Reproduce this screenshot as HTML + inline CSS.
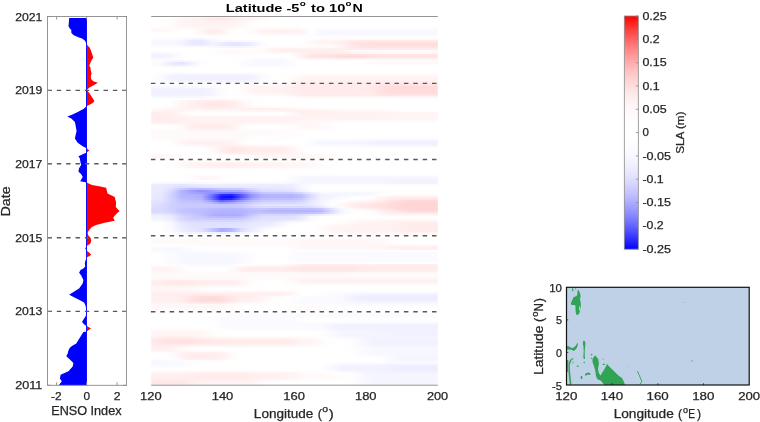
<!DOCTYPE html>
<html><head><meta charset="utf-8"><style>
html,body{margin:0;padding:0;background:#fff;}
svg{display:block;will-change:transform;font-family:"Liberation Sans", sans-serif;}
</style></head><body>
<svg width="760" height="422" viewBox="0 0 760 422">
<rect width="760" height="422" fill="#fff"/>
<defs><clipPath id="cl"><rect x="0" y="0" width="86.60" height="422"/></clipPath><clipPath id="cr"><rect x="86.60" y="0" width="200" height="422"/></clipPath></defs>
<path d="M86.6,18.1 L69.2,18.1 L68.9,22.1 L68.5,26.3 L69.9,28.5 L71.3,29.9 L71.3,32.7 L73.4,34.9 L77.7,37.0 L82.0,38.4 L84.8,40.6 L86.6,44.1 L87.6,45.5 L89.8,47.7 L91.2,51.2 L92.6,55.5 L93.3,57.6 L91.9,59.8 L90.5,62.6 L89.3,65.7 L90.5,67.8 L90.8,70.7 L91.6,73.5 L90.8,76.3 L91.2,79.2 L93.3,81.3 L97.9,82.7 L94.0,84.9 L89.1,87.7 L86.9,90.1 L89.1,92.7 L91.9,97.0 L94.5,101.2 L91.9,103.4 L88.4,105.2 L86.6,106.2 L83.4,109.0 L77.7,111.9 L72.0,114.7 L67.3,116.5 L71.3,118.5 L74.9,122.1 L75.6,125.6 L76.6,131.3 L75.6,134.9 L74.9,138.4 L77.7,142.7 L82.7,146.2 L86.6,148.3 L89.3,150.5 L86.6,152.6 L78.4,156.2 L79.8,158.3 L80.5,162.6 L81.2,164.7 L79.1,168.3 L78.4,171.4 L81.2,174.2 L82.7,177.1 L80.2,181.3 L86.6,182.5 L91.9,184.9 L99.0,186.3 L106.1,187.7 L106.8,190.6 L107.5,193.4 L114.7,197.0 L116.1,202.6 L115.8,206.9 L119.6,211.2 L117.5,212.8 L114.7,215.7 L113.2,217.8 L114.7,220.7 L104.7,222.8 L96.2,224.9 L91.9,227.1 L89.1,229.9 L87.6,232.7 L88.4,235.6 L90.5,237.7 L91.2,240.6 L90.5,243.4 L87.6,245.5 L86.6,246.2 L85.2,248.4 L86.6,250.5 L89.1,252.6 L91.2,254.8 L89.1,256.2 L86.6,257.6 L85.5,260.5 L84.8,263.3 L85.2,266.4 L83.4,268.5 L80.5,270.0 L79.1,272.8 L81.2,275.6 L83.4,279.9 L82.7,283.5 L79.1,288.4 L73.4,292.0 L69.2,294.8 L74.9,297.7 L80.5,300.5 L84.1,302.6 L85.5,305.5 L86.2,309.0 L86.2,311.9 L85.9,315.7 L84.1,318.5 L82.0,322.0 L84.8,324.9 L86.6,325.8 L91.0,328.6 L86.6,331.4 L83.4,332.0 L81.2,335.6 L78.4,339.9 L76.3,343.4 L72.7,345.5 L70.0,347.5 L68.5,350.2 L67.7,353.5 L66.3,356.2 L69.9,359.5 L73.4,363.0 L72.7,366.5 L70.0,369.5 L68.5,371.3 L60.6,374.8 L59.9,378.4 L61.8,381.2 L59.2,384.8 L59.0,385.2 L86.6,385.2 Z" fill="#0000ff" clip-path="url(#cl)"/>
<path d="M86.6,18.1 L69.2,18.1 L68.9,22.1 L68.5,26.3 L69.9,28.5 L71.3,29.9 L71.3,32.7 L73.4,34.9 L77.7,37.0 L82.0,38.4 L84.8,40.6 L86.6,44.1 L87.6,45.5 L89.8,47.7 L91.2,51.2 L92.6,55.5 L93.3,57.6 L91.9,59.8 L90.5,62.6 L89.3,65.7 L90.5,67.8 L90.8,70.7 L91.6,73.5 L90.8,76.3 L91.2,79.2 L93.3,81.3 L97.9,82.7 L94.0,84.9 L89.1,87.7 L86.9,90.1 L89.1,92.7 L91.9,97.0 L94.5,101.2 L91.9,103.4 L88.4,105.2 L86.6,106.2 L83.4,109.0 L77.7,111.9 L72.0,114.7 L67.3,116.5 L71.3,118.5 L74.9,122.1 L75.6,125.6 L76.6,131.3 L75.6,134.9 L74.9,138.4 L77.7,142.7 L82.7,146.2 L86.6,148.3 L89.3,150.5 L86.6,152.6 L78.4,156.2 L79.8,158.3 L80.5,162.6 L81.2,164.7 L79.1,168.3 L78.4,171.4 L81.2,174.2 L82.7,177.1 L80.2,181.3 L86.6,182.5 L91.9,184.9 L99.0,186.3 L106.1,187.7 L106.8,190.6 L107.5,193.4 L114.7,197.0 L116.1,202.6 L115.8,206.9 L119.6,211.2 L117.5,212.8 L114.7,215.7 L113.2,217.8 L114.7,220.7 L104.7,222.8 L96.2,224.9 L91.9,227.1 L89.1,229.9 L87.6,232.7 L88.4,235.6 L90.5,237.7 L91.2,240.6 L90.5,243.4 L87.6,245.5 L86.6,246.2 L85.2,248.4 L86.6,250.5 L89.1,252.6 L91.2,254.8 L89.1,256.2 L86.6,257.6 L85.5,260.5 L84.8,263.3 L85.2,266.4 L83.4,268.5 L80.5,270.0 L79.1,272.8 L81.2,275.6 L83.4,279.9 L82.7,283.5 L79.1,288.4 L73.4,292.0 L69.2,294.8 L74.9,297.7 L80.5,300.5 L84.1,302.6 L85.5,305.5 L86.2,309.0 L86.2,311.9 L85.9,315.7 L84.1,318.5 L82.0,322.0 L84.8,324.9 L86.6,325.8 L91.0,328.6 L86.6,331.4 L83.4,332.0 L81.2,335.6 L78.4,339.9 L76.3,343.4 L72.7,345.5 L70.0,347.5 L68.5,350.2 L67.7,353.5 L66.3,356.2 L69.9,359.5 L73.4,363.0 L72.7,366.5 L70.0,369.5 L68.5,371.3 L60.6,374.8 L59.9,378.4 L61.8,381.2 L59.2,384.8 L59.0,385.2 L86.6,385.2 Z" fill="#ff0000" clip-path="url(#cr)"/>
<rect x="86.1" y="18.1" width="0.9" height="367.1" fill="#0000ff"/>
<line x1="47.5" y1="90.4" x2="126.5" y2="90.4" stroke="#585858" stroke-width="1.4" stroke-dasharray="4.4 4.94"/>
<line x1="47.5" y1="163.8" x2="126.5" y2="163.8" stroke="#585858" stroke-width="1.4" stroke-dasharray="4.4 4.94"/>
<line x1="47.5" y1="237.8" x2="126.5" y2="237.8" stroke="#585858" stroke-width="1.4" stroke-dasharray="4.4 4.94"/>
<line x1="47.5" y1="311.4" x2="126.5" y2="311.4" stroke="#585858" stroke-width="1.4" stroke-dasharray="4.4 4.94"/>
<rect x="47.5" y="16.5" width="79.0" height="368.8" fill="none" stroke="#8a8a8a" stroke-width="0.9"/>
<line x1="56.6" y1="385.3" x2="56.6" y2="382.3" stroke="#8a8a8a" stroke-width="0.9"/>
<line x1="56.6" y1="16.5" x2="56.6" y2="19.5" stroke="#8a8a8a" stroke-width="0.9"/>
<line x1="86.6" y1="385.3" x2="86.6" y2="382.3" stroke="#8a8a8a" stroke-width="0.9"/>
<line x1="86.6" y1="16.5" x2="86.6" y2="19.5" stroke="#8a8a8a" stroke-width="0.9"/>
<line x1="117.1" y1="385.3" x2="117.1" y2="382.3" stroke="#8a8a8a" stroke-width="0.9"/>
<line x1="117.1" y1="16.5" x2="117.1" y2="19.5" stroke="#8a8a8a" stroke-width="0.9"/>
<text x="15.24" y="20.50" font-size="10.9" fill="#262626" stroke="#262626" stroke-width="0.25" textLength="27.10" lengthAdjust="spacingAndGlyphs">2021</text>
<line x1="47.5" y1="16.5" x2="50.5" y2="16.5" stroke="#8a8a8a" stroke-width="0.9"/>
<line x1="126.5" y1="16.5" x2="123.5" y2="16.5" stroke="#8a8a8a" stroke-width="0.9"/>
<text x="15.24" y="94.40" font-size="10.9" fill="#262626" stroke="#262626" stroke-width="0.25" textLength="27.10" lengthAdjust="spacingAndGlyphs">2019</text>
<line x1="47.5" y1="90.4" x2="50.5" y2="90.4" stroke="#8a8a8a" stroke-width="0.9"/>
<line x1="126.5" y1="90.4" x2="123.5" y2="90.4" stroke="#8a8a8a" stroke-width="0.9"/>
<text x="15.24" y="167.80" font-size="10.9" fill="#262626" stroke="#262626" stroke-width="0.25" textLength="27.10" lengthAdjust="spacingAndGlyphs">2017</text>
<line x1="47.5" y1="163.8" x2="50.5" y2="163.8" stroke="#8a8a8a" stroke-width="0.9"/>
<line x1="126.5" y1="163.8" x2="123.5" y2="163.8" stroke="#8a8a8a" stroke-width="0.9"/>
<text x="15.24" y="241.80" font-size="10.9" fill="#262626" stroke="#262626" stroke-width="0.25" textLength="27.10" lengthAdjust="spacingAndGlyphs">2015</text>
<line x1="47.5" y1="237.8" x2="50.5" y2="237.8" stroke="#8a8a8a" stroke-width="0.9"/>
<line x1="126.5" y1="237.8" x2="123.5" y2="237.8" stroke="#8a8a8a" stroke-width="0.9"/>
<text x="15.24" y="315.40" font-size="10.9" fill="#262626" stroke="#262626" stroke-width="0.25" textLength="27.10" lengthAdjust="spacingAndGlyphs">2013</text>
<line x1="47.5" y1="311.4" x2="50.5" y2="311.4" stroke="#8a8a8a" stroke-width="0.9"/>
<line x1="126.5" y1="311.4" x2="123.5" y2="311.4" stroke="#8a8a8a" stroke-width="0.9"/>
<text x="15.22" y="389.30" font-size="10.9" fill="#262626" stroke="#262626" stroke-width="0.25" textLength="27.07" lengthAdjust="spacingAndGlyphs">2011</text>
<line x1="47.5" y1="385.3" x2="50.5" y2="385.3" stroke="#8a8a8a" stroke-width="0.9"/>
<line x1="126.5" y1="385.3" x2="123.5" y2="385.3" stroke="#8a8a8a" stroke-width="0.9"/>
<text x="50.96" y="399.80" font-size="10.9" fill="#262626" stroke="#262626" stroke-width="0.25" textLength="10.52" lengthAdjust="spacingAndGlyphs">-2</text>
<text x="83.56" y="399.80" font-size="10.9" fill="#262626" stroke="#262626" stroke-width="0.25" textLength="6.58" lengthAdjust="spacingAndGlyphs">0</text>
<text x="113.74" y="399.80" font-size="10.9" fill="#262626" stroke="#262626" stroke-width="0.25" textLength="6.79" lengthAdjust="spacingAndGlyphs">2</text>
<text x="51.24" y="414.60" font-size="11.9" fill="#262626" stroke="#262626" stroke-width="0.25" textLength="70.26" lengthAdjust="spacingAndGlyphs">ENSO Index</text>
<text transform="translate(10.00 216.50) rotate(-90)" x="0" y="0" font-size="11.9" fill="#262626" stroke="#262626" stroke-width="0.25" textLength="30.26" lengthAdjust="spacingAndGlyphs">Date</text>
<defs><linearGradient id="g0"><stop offset="0.001" stop-color="#ffffff"/><stop offset="0.036" stop-color="#ffffff"/><stop offset="0.071" stop-color="#fffdfd"/><stop offset="0.106" stop-color="#fffafa"/><stop offset="0.141" stop-color="#fff8f8"/><stop offset="0.176" stop-color="#fff5f5"/><stop offset="0.210" stop-color="#ffefef"/><stop offset="0.245" stop-color="#ffefef"/><stop offset="0.280" stop-color="#fff5f5"/><stop offset="0.315" stop-color="#fff7f7"/><stop offset="0.350" stop-color="#fff7f7"/><stop offset="0.385" stop-color="#fffafa"/><stop offset="0.420" stop-color="#fffefe"/><stop offset="0.455" stop-color="#ffffff"/><stop offset="0.999" stop-color="#ffffff"/></linearGradient><linearGradient id="g1"><stop offset="0.001" stop-color="#ffffff"/><stop offset="0.036" stop-color="#ffffff"/><stop offset="0.071" stop-color="#fffcfc"/><stop offset="0.106" stop-color="#fff6f6"/><stop offset="0.141" stop-color="#fff3f3"/><stop offset="0.176" stop-color="#ffeeee"/><stop offset="0.210" stop-color="#ffe7e7"/><stop offset="0.245" stop-color="#ffe7e7"/><stop offset="0.280" stop-color="#ffeeee"/><stop offset="0.315" stop-color="#fff2f2"/><stop offset="0.350" stop-color="#fff4f4"/><stop offset="0.385" stop-color="#fff9f9"/><stop offset="0.420" stop-color="#fffdfd"/><stop offset="0.455" stop-color="#ffffff"/><stop offset="0.999" stop-color="#ffffff"/></linearGradient><linearGradient id="g2"><stop offset="0.001" stop-color="#ffffff"/><stop offset="0.036" stop-color="#ffffff"/><stop offset="0.071" stop-color="#fffcfc"/><stop offset="0.106" stop-color="#fff5f5"/><stop offset="0.141" stop-color="#fff2f2"/><stop offset="0.176" stop-color="#fff1f1"/><stop offset="0.210" stop-color="#ffefef"/><stop offset="0.245" stop-color="#ffefef"/><stop offset="0.280" stop-color="#fff1f1"/><stop offset="0.315" stop-color="#fff3f3"/><stop offset="0.350" stop-color="#fff8f8"/><stop offset="0.385" stop-color="#fffdfd"/><stop offset="0.420" stop-color="#ffffff"/><stop offset="0.999" stop-color="#ffffff"/></linearGradient><linearGradient id="g3"><stop offset="0.001" stop-color="#ffffff"/><stop offset="0.036" stop-color="#ffffff"/><stop offset="0.071" stop-color="#fffcfc"/><stop offset="0.106" stop-color="#fff5f5"/><stop offset="0.141" stop-color="#fff2f2"/><stop offset="0.280" stop-color="#fff2f2"/><stop offset="0.315" stop-color="#fff5f5"/><stop offset="0.350" stop-color="#fffcfc"/><stop offset="0.385" stop-color="#ffffff"/><stop offset="0.999" stop-color="#ffffff"/></linearGradient><linearGradient id="g4"><stop offset="0.001" stop-color="#ffffff"/><stop offset="0.036" stop-color="#ffffff"/><stop offset="0.071" stop-color="#fffcfc"/><stop offset="0.106" stop-color="#fff5f5"/><stop offset="0.141" stop-color="#fff2f2"/><stop offset="0.245" stop-color="#fff2f2"/><stop offset="0.280" stop-color="#fff3f3"/><stop offset="0.315" stop-color="#fff6f6"/><stop offset="0.350" stop-color="#fffcfc"/><stop offset="0.385" stop-color="#ffffff"/><stop offset="0.999" stop-color="#ffffff"/></linearGradient><linearGradient id="g5"><stop offset="0.001" stop-color="#fffdfd"/><stop offset="0.036" stop-color="#fffdfd"/><stop offset="0.071" stop-color="#fffbfb"/><stop offset="0.106" stop-color="#fff7f7"/><stop offset="0.141" stop-color="#fff5f5"/><stop offset="0.176" stop-color="#fff4f4"/><stop offset="0.245" stop-color="#fff4f4"/><stop offset="0.280" stop-color="#fff5f5"/><stop offset="0.315" stop-color="#fff8f8"/><stop offset="0.350" stop-color="#fffdfd"/><stop offset="0.385" stop-color="#fffefe"/><stop offset="0.524" stop-color="#fffefe"/><stop offset="0.559" stop-color="#ffffff"/><stop offset="0.999" stop-color="#ffffff"/></linearGradient><linearGradient id="g6"><stop offset="0.001" stop-color="#fff7f7"/><stop offset="0.036" stop-color="#fff8f8"/><stop offset="0.071" stop-color="#fffbfb"/><stop offset="0.106" stop-color="#fffcfc"/><stop offset="0.141" stop-color="#fffcfc"/><stop offset="0.176" stop-color="#fff7f7"/><stop offset="0.210" stop-color="#fff1f1"/><stop offset="0.245" stop-color="#fff4f4"/><stop offset="0.280" stop-color="#fffbfb"/><stop offset="0.315" stop-color="#fffdfd"/><stop offset="0.350" stop-color="#fffcfc"/><stop offset="0.385" stop-color="#fff8f8"/><stop offset="0.420" stop-color="#fff6f6"/><stop offset="0.490" stop-color="#fff6f6"/><stop offset="0.524" stop-color="#fff8f8"/><stop offset="0.559" stop-color="#fffefe"/><stop offset="0.594" stop-color="#fcfcff"/><stop offset="0.629" stop-color="#fbfbff"/><stop offset="0.999" stop-color="#fbfbff"/></linearGradient><linearGradient id="g7"><stop offset="0.001" stop-color="#fff7f7"/><stop offset="0.036" stop-color="#fff8f8"/><stop offset="0.071" stop-color="#fffcfc"/><stop offset="0.106" stop-color="#ffffff"/><stop offset="0.141" stop-color="#fffefe"/><stop offset="0.176" stop-color="#fff5f5"/><stop offset="0.210" stop-color="#ffeaea"/><stop offset="0.245" stop-color="#fff0f0"/><stop offset="0.280" stop-color="#fffcfc"/><stop offset="0.315" stop-color="#ffffff"/><stop offset="0.350" stop-color="#fffbfb"/><stop offset="0.385" stop-color="#fff3f3"/><stop offset="0.420" stop-color="#fff0f0"/><stop offset="0.490" stop-color="#fff0f0"/><stop offset="0.524" stop-color="#fff3f3"/><stop offset="0.559" stop-color="#fffefe"/><stop offset="0.594" stop-color="#f8f8ff"/><stop offset="0.999" stop-color="#f8f8ff"/></linearGradient><linearGradient id="g8"><stop offset="0.001" stop-color="#fffdfd"/><stop offset="0.036" stop-color="#fffdfd"/><stop offset="0.071" stop-color="#fffefe"/><stop offset="0.106" stop-color="#ffffff"/><stop offset="0.141" stop-color="#fffefe"/><stop offset="0.176" stop-color="#fff6f6"/><stop offset="0.210" stop-color="#ffecec"/><stop offset="0.245" stop-color="#fff1f1"/><stop offset="0.280" stop-color="#fffcfc"/><stop offset="0.315" stop-color="#ffffff"/><stop offset="0.350" stop-color="#fffbfb"/><stop offset="0.385" stop-color="#fff4f4"/><stop offset="0.420" stop-color="#fff2f2"/><stop offset="0.455" stop-color="#fff1f1"/><stop offset="0.490" stop-color="#fff2f2"/><stop offset="0.524" stop-color="#fff4f4"/><stop offset="0.559" stop-color="#ffffff"/><stop offset="0.594" stop-color="#f8f8ff"/><stop offset="0.629" stop-color="#f7f7ff"/><stop offset="0.999" stop-color="#f7f7ff"/></linearGradient><linearGradient id="g9"><stop offset="0.001" stop-color="#ffffff"/><stop offset="0.141" stop-color="#ffffff"/><stop offset="0.176" stop-color="#fffbfb"/><stop offset="0.210" stop-color="#fff7f7"/><stop offset="0.245" stop-color="#fff9f9"/><stop offset="0.280" stop-color="#fffefe"/><stop offset="0.315" stop-color="#ffffff"/><stop offset="0.350" stop-color="#fffefe"/><stop offset="0.385" stop-color="#fffbfb"/><stop offset="0.420" stop-color="#fffafa"/><stop offset="0.490" stop-color="#fffafa"/><stop offset="0.524" stop-color="#fffbfb"/><stop offset="0.559" stop-color="#fdfdff"/><stop offset="0.594" stop-color="#f9f9ff"/><stop offset="0.999" stop-color="#f9f9ff"/></linearGradient><linearGradient id="g10"><stop offset="0.001" stop-color="#ffffff"/><stop offset="0.071" stop-color="#ffffff"/><stop offset="0.106" stop-color="#fefeff"/><stop offset="0.176" stop-color="#fefeff"/><stop offset="0.210" stop-color="#ffffff"/><stop offset="0.524" stop-color="#ffffff"/><stop offset="0.559" stop-color="#fefeff"/><stop offset="0.594" stop-color="#fefeff"/><stop offset="0.629" stop-color="#fdfdff"/><stop offset="0.664" stop-color="#fdfdff"/><stop offset="0.699" stop-color="#fefeff"/><stop offset="0.999" stop-color="#fefeff"/></linearGradient><linearGradient id="g11"><stop offset="0.001" stop-color="#fbfbff"/><stop offset="0.071" stop-color="#fbfbff"/><stop offset="0.106" stop-color="#f9f9ff"/><stop offset="0.141" stop-color="#f4f4ff"/><stop offset="0.176" stop-color="#f3f3ff"/><stop offset="0.210" stop-color="#fafaff"/><stop offset="0.245" stop-color="#fefeff"/><stop offset="0.280" stop-color="#ffffff"/><stop offset="0.524" stop-color="#ffffff"/><stop offset="0.559" stop-color="#fffdfd"/><stop offset="0.594" stop-color="#fffcfc"/><stop offset="0.629" stop-color="#fffcfc"/><stop offset="0.664" stop-color="#fffbfb"/><stop offset="0.699" stop-color="#fffafa"/><stop offset="0.734" stop-color="#fffafa"/><stop offset="0.769" stop-color="#fff9f9"/><stop offset="0.999" stop-color="#fff9f9"/></linearGradient><linearGradient id="g12"><stop offset="0.001" stop-color="#f8f8ff"/><stop offset="0.071" stop-color="#f8f8ff"/><stop offset="0.106" stop-color="#f5f5ff"/><stop offset="0.141" stop-color="#eaeaff"/><stop offset="0.176" stop-color="#e8e8ff"/><stop offset="0.210" stop-color="#f5f5ff"/><stop offset="0.245" stop-color="#f9f9ff"/><stop offset="0.280" stop-color="#f8f8ff"/><stop offset="0.315" stop-color="#f9f9ff"/><stop offset="0.350" stop-color="#fafaff"/><stop offset="0.385" stop-color="#fefeff"/><stop offset="0.420" stop-color="#ffffff"/><stop offset="0.490" stop-color="#ffffff"/><stop offset="0.524" stop-color="#fffefe"/><stop offset="0.559" stop-color="#fff9f9"/><stop offset="0.594" stop-color="#fff5f5"/><stop offset="0.629" stop-color="#fff5f5"/><stop offset="0.664" stop-color="#fff2f2"/><stop offset="0.699" stop-color="#ffeded"/><stop offset="0.734" stop-color="#ffeaea"/><stop offset="0.769" stop-color="#ffe9e9"/><stop offset="0.999" stop-color="#ffe9e9"/></linearGradient><linearGradient id="g13"><stop offset="0.001" stop-color="#f7f7ff"/><stop offset="0.071" stop-color="#f7f7ff"/><stop offset="0.106" stop-color="#f4f4ff"/><stop offset="0.141" stop-color="#e9e9ff"/><stop offset="0.176" stop-color="#e6e6ff"/><stop offset="0.210" stop-color="#f1f1ff"/><stop offset="0.245" stop-color="#ededff"/><stop offset="0.280" stop-color="#e7e7ff"/><stop offset="0.315" stop-color="#e8e8ff"/><stop offset="0.350" stop-color="#eeeeff"/><stop offset="0.385" stop-color="#fbfbff"/><stop offset="0.420" stop-color="#ffffff"/><stop offset="0.490" stop-color="#ffffff"/><stop offset="0.524" stop-color="#fffdfd"/><stop offset="0.559" stop-color="#fff7f7"/><stop offset="0.594" stop-color="#fff3f3"/><stop offset="0.629" stop-color="#fff3f3"/><stop offset="0.664" stop-color="#ffefef"/><stop offset="0.699" stop-color="#ffe7e7"/><stop offset="0.734" stop-color="#ffe2e2"/><stop offset="0.769" stop-color="#ffe0e0"/><stop offset="0.999" stop-color="#ffe0e0"/></linearGradient><linearGradient id="g14"><stop offset="0.001" stop-color="#f9f9ff"/><stop offset="0.071" stop-color="#f9f9ff"/><stop offset="0.106" stop-color="#f6f6ff"/><stop offset="0.141" stop-color="#ededff"/><stop offset="0.176" stop-color="#ebebff"/><stop offset="0.210" stop-color="#f2f2ff"/><stop offset="0.245" stop-color="#ebebff"/><stop offset="0.280" stop-color="#e5e5ff"/><stop offset="0.315" stop-color="#e5e5ff"/><stop offset="0.350" stop-color="#ececff"/><stop offset="0.385" stop-color="#fafaff"/><stop offset="0.420" stop-color="#ffffff"/><stop offset="0.490" stop-color="#ffffff"/><stop offset="0.524" stop-color="#fffefe"/><stop offset="0.559" stop-color="#fffbfb"/><stop offset="0.594" stop-color="#fff9f9"/><stop offset="0.629" stop-color="#fff8f8"/><stop offset="0.664" stop-color="#fff3f3"/><stop offset="0.699" stop-color="#ffe8e8"/><stop offset="0.734" stop-color="#ffe1e1"/><stop offset="0.769" stop-color="#ffdfdf"/><stop offset="0.804" stop-color="#ffdede"/><stop offset="0.999" stop-color="#ffdede"/></linearGradient><linearGradient id="g15"><stop offset="0.001" stop-color="#fdfdff"/><stop offset="0.106" stop-color="#fdfdff"/><stop offset="0.141" stop-color="#fafaff"/><stop offset="0.176" stop-color="#fafaff"/><stop offset="0.210" stop-color="#fbfbff"/><stop offset="0.245" stop-color="#f7f7ff"/><stop offset="0.280" stop-color="#f5f5ff"/><stop offset="0.315" stop-color="#f5f5ff"/><stop offset="0.350" stop-color="#f8f8ff"/><stop offset="0.385" stop-color="#fefeff"/><stop offset="0.420" stop-color="#fffcfc"/><stop offset="0.455" stop-color="#fffbfb"/><stop offset="0.559" stop-color="#fffbfb"/><stop offset="0.594" stop-color="#fffafa"/><stop offset="0.629" stop-color="#fffafa"/><stop offset="0.664" stop-color="#fff4f4"/><stop offset="0.699" stop-color="#ffe9e9"/><stop offset="0.734" stop-color="#ffe4e4"/><stop offset="0.769" stop-color="#ffe2e2"/><stop offset="0.999" stop-color="#ffe2e2"/></linearGradient><linearGradient id="g16"><stop offset="0.001" stop-color="#ffffff"/><stop offset="0.210" stop-color="#ffffff"/><stop offset="0.245" stop-color="#fffefe"/><stop offset="0.350" stop-color="#fffefe"/><stop offset="0.385" stop-color="#fffbfb"/><stop offset="0.420" stop-color="#fff4f4"/><stop offset="0.455" stop-color="#fff1f1"/><stop offset="0.629" stop-color="#fff1f1"/><stop offset="0.664" stop-color="#ffefef"/><stop offset="0.699" stop-color="#ffecec"/><stop offset="0.734" stop-color="#ffebeb"/><stop offset="0.999" stop-color="#ffebeb"/></linearGradient><linearGradient id="g17"><stop offset="0.001" stop-color="#fefeff"/><stop offset="0.071" stop-color="#fefeff"/><stop offset="0.106" stop-color="#ffffff"/><stop offset="0.176" stop-color="#ffffff"/><stop offset="0.210" stop-color="#fffdfd"/><stop offset="0.245" stop-color="#fffafa"/><stop offset="0.280" stop-color="#fff9f9"/><stop offset="0.315" stop-color="#fffafa"/><stop offset="0.350" stop-color="#fffcfc"/><stop offset="0.385" stop-color="#fffafa"/><stop offset="0.420" stop-color="#fff2f2"/><stop offset="0.455" stop-color="#ffeeee"/><stop offset="0.629" stop-color="#ffeeee"/><stop offset="0.664" stop-color="#fff1f1"/><stop offset="0.699" stop-color="#fff7f7"/><stop offset="0.734" stop-color="#fff9f9"/><stop offset="0.999" stop-color="#fff9f9"/></linearGradient><linearGradient id="g18"><stop offset="0.001" stop-color="#f7f7ff"/><stop offset="0.036" stop-color="#f8f8ff"/><stop offset="0.071" stop-color="#fafaff"/><stop offset="0.106" stop-color="#fefeff"/><stop offset="0.141" stop-color="#ffffff"/><stop offset="0.176" stop-color="#ffffff"/><stop offset="0.210" stop-color="#fffdfd"/><stop offset="0.245" stop-color="#fffafa"/><stop offset="0.280" stop-color="#fff8f8"/><stop offset="0.315" stop-color="#fff9f9"/><stop offset="0.350" stop-color="#fffcfc"/><stop offset="0.385" stop-color="#fffcfc"/><stop offset="0.420" stop-color="#fff8f8"/><stop offset="0.455" stop-color="#fff6f6"/><stop offset="0.490" stop-color="#fff6f6"/><stop offset="0.524" stop-color="#fff2f2"/><stop offset="0.559" stop-color="#ffeeee"/><stop offset="0.594" stop-color="#ffeded"/><stop offset="0.629" stop-color="#ffeded"/><stop offset="0.664" stop-color="#ffeeee"/><stop offset="0.699" stop-color="#fff2f2"/><stop offset="0.734" stop-color="#fff4f4"/><stop offset="0.769" stop-color="#fff5f5"/><stop offset="0.804" stop-color="#fff6f6"/><stop offset="0.999" stop-color="#fff6f6"/></linearGradient><linearGradient id="g19"><stop offset="0.001" stop-color="#f1f1ff"/><stop offset="0.036" stop-color="#f1f1ff"/><stop offset="0.071" stop-color="#f6f6ff"/><stop offset="0.106" stop-color="#fdfdff"/><stop offset="0.141" stop-color="#ffffff"/><stop offset="0.176" stop-color="#ffffff"/><stop offset="0.210" stop-color="#fffefe"/><stop offset="0.245" stop-color="#fffdfd"/><stop offset="0.315" stop-color="#fffdfd"/><stop offset="0.350" stop-color="#fffefe"/><stop offset="0.385" stop-color="#ffffff"/><stop offset="0.420" stop-color="#fffefe"/><stop offset="0.455" stop-color="#fffefe"/><stop offset="0.490" stop-color="#fffcfc"/><stop offset="0.524" stop-color="#fff2f2"/><stop offset="0.559" stop-color="#ffe6e6"/><stop offset="0.594" stop-color="#ffe4e4"/><stop offset="0.629" stop-color="#ffe3e3"/><stop offset="0.664" stop-color="#ffdede"/><stop offset="0.699" stop-color="#ffdddd"/><stop offset="0.734" stop-color="#ffdfdf"/><stop offset="0.769" stop-color="#ffe3e3"/><stop offset="0.804" stop-color="#ffe5e5"/><stop offset="0.999" stop-color="#ffe5e5"/></linearGradient><linearGradient id="g20"><stop offset="0.001" stop-color="#f1f1ff"/><stop offset="0.036" stop-color="#f1f1ff"/><stop offset="0.071" stop-color="#f6f6ff"/><stop offset="0.106" stop-color="#fdfdff"/><stop offset="0.141" stop-color="#ffffff"/><stop offset="0.350" stop-color="#ffffff"/><stop offset="0.385" stop-color="#fefeff"/><stop offset="0.455" stop-color="#fefeff"/><stop offset="0.490" stop-color="#fffefe"/><stop offset="0.524" stop-color="#fff2f2"/><stop offset="0.559" stop-color="#ffe5e5"/><stop offset="0.594" stop-color="#ffe3e3"/><stop offset="0.629" stop-color="#ffe2e2"/><stop offset="0.664" stop-color="#ffdddd"/><stop offset="0.699" stop-color="#ffdada"/><stop offset="0.734" stop-color="#ffdcdc"/><stop offset="0.769" stop-color="#ffe1e1"/><stop offset="0.804" stop-color="#ffe3e3"/><stop offset="0.999" stop-color="#ffe3e3"/></linearGradient><linearGradient id="g21"><stop offset="0.001" stop-color="#f9f9ff"/><stop offset="0.036" stop-color="#f9f9ff"/><stop offset="0.071" stop-color="#fbfbff"/><stop offset="0.106" stop-color="#fefeff"/><stop offset="0.141" stop-color="#ffffff"/><stop offset="0.280" stop-color="#ffffff"/><stop offset="0.315" stop-color="#fefeff"/><stop offset="0.350" stop-color="#fbfbff"/><stop offset="0.385" stop-color="#fafaff"/><stop offset="0.420" stop-color="#fafaff"/><stop offset="0.455" stop-color="#fbfbff"/><stop offset="0.490" stop-color="#fefeff"/><stop offset="0.524" stop-color="#fff9f9"/><stop offset="0.559" stop-color="#fff4f4"/><stop offset="0.594" stop-color="#fff3f3"/><stop offset="0.629" stop-color="#fff2f2"/><stop offset="0.664" stop-color="#fff0f0"/><stop offset="0.699" stop-color="#ffefef"/><stop offset="0.734" stop-color="#fff0f0"/><stop offset="0.769" stop-color="#fff2f2"/><stop offset="0.999" stop-color="#fff2f2"/></linearGradient><linearGradient id="g22"><stop offset="0.001" stop-color="#fefeff"/><stop offset="0.036" stop-color="#fcfcff"/><stop offset="0.071" stop-color="#f7f7ff"/><stop offset="0.106" stop-color="#f5f5ff"/><stop offset="0.141" stop-color="#f9f9ff"/><stop offset="0.176" stop-color="#fefeff"/><stop offset="0.210" stop-color="#ffffff"/><stop offset="0.280" stop-color="#ffffff"/><stop offset="0.315" stop-color="#fdfdff"/><stop offset="0.350" stop-color="#f9f9ff"/><stop offset="0.385" stop-color="#f8f8ff"/><stop offset="0.455" stop-color="#f8f8ff"/><stop offset="0.490" stop-color="#fcfcff"/><stop offset="0.524" stop-color="#ffffff"/><stop offset="0.559" stop-color="#fffefe"/><stop offset="0.699" stop-color="#fffefe"/><stop offset="0.734" stop-color="#fffdfd"/><stop offset="0.769" stop-color="#fffcfc"/><stop offset="0.804" stop-color="#fffbfb"/><stop offset="0.999" stop-color="#fffbfb"/></linearGradient><linearGradient id="g23"><stop offset="0.001" stop-color="#fdfdff"/><stop offset="0.036" stop-color="#f7f7ff"/><stop offset="0.071" stop-color="#eaeaff"/><stop offset="0.106" stop-color="#e3e3ff"/><stop offset="0.141" stop-color="#f0f0ff"/><stop offset="0.176" stop-color="#fdfdff"/><stop offset="0.210" stop-color="#ffffff"/><stop offset="0.280" stop-color="#ffffff"/><stop offset="0.315" stop-color="#fdfdff"/><stop offset="0.350" stop-color="#f9f9ff"/><stop offset="0.385" stop-color="#f7f7ff"/><stop offset="0.420" stop-color="#f7f7ff"/><stop offset="0.455" stop-color="#f8f8ff"/><stop offset="0.490" stop-color="#fcfcff"/><stop offset="0.524" stop-color="#ffffff"/><stop offset="0.699" stop-color="#ffffff"/><stop offset="0.734" stop-color="#fffdfd"/><stop offset="0.769" stop-color="#fff9f9"/><stop offset="0.804" stop-color="#fff8f8"/><stop offset="0.999" stop-color="#fff8f8"/></linearGradient><linearGradient id="g24"><stop offset="0.001" stop-color="#fdfdff"/><stop offset="0.036" stop-color="#f7f7ff"/><stop offset="0.071" stop-color="#eeeeff"/><stop offset="0.106" stop-color="#eaeaff"/><stop offset="0.141" stop-color="#f4f4ff"/><stop offset="0.176" stop-color="#fefeff"/><stop offset="0.210" stop-color="#ffffff"/><stop offset="0.280" stop-color="#ffffff"/><stop offset="0.315" stop-color="#fdfdff"/><stop offset="0.350" stop-color="#f9f9ff"/><stop offset="0.385" stop-color="#f8f8ff"/><stop offset="0.420" stop-color="#f8f8ff"/><stop offset="0.455" stop-color="#f9f9ff"/><stop offset="0.490" stop-color="#fcfcff"/><stop offset="0.524" stop-color="#ffffff"/><stop offset="0.699" stop-color="#ffffff"/><stop offset="0.734" stop-color="#fffefe"/><stop offset="0.769" stop-color="#fffdfd"/><stop offset="0.804" stop-color="#fffcfc"/><stop offset="0.999" stop-color="#fffcfc"/></linearGradient><linearGradient id="g25"><stop offset="0.001" stop-color="#fefeff"/><stop offset="0.036" stop-color="#fdfdff"/><stop offset="0.071" stop-color="#fbfbff"/><stop offset="0.106" stop-color="#fbfbff"/><stop offset="0.141" stop-color="#fdfdff"/><stop offset="0.176" stop-color="#ffffff"/><stop offset="0.280" stop-color="#ffffff"/><stop offset="0.315" stop-color="#fefeff"/><stop offset="0.350" stop-color="#fcfcff"/><stop offset="0.385" stop-color="#fbfbff"/><stop offset="0.420" stop-color="#fbfbff"/><stop offset="0.455" stop-color="#fcfcff"/><stop offset="0.490" stop-color="#fdfdff"/><stop offset="0.524" stop-color="#ffffff"/><stop offset="0.999" stop-color="#ffffff"/></linearGradient><linearGradient id="g26"><stop offset="0.001" stop-color="#ffffff"/><stop offset="0.036" stop-color="#fefeff"/><stop offset="0.071" stop-color="#fcfcff"/><stop offset="0.350" stop-color="#fcfcff"/><stop offset="0.385" stop-color="#fefeff"/><stop offset="0.420" stop-color="#ffffff"/><stop offset="0.490" stop-color="#ffffff"/><stop offset="0.524" stop-color="#fffefe"/><stop offset="0.999" stop-color="#fffefe"/></linearGradient><linearGradient id="g27"><stop offset="0.001" stop-color="#ffffff"/><stop offset="0.036" stop-color="#fbfbff"/><stop offset="0.071" stop-color="#f5f5ff"/><stop offset="0.106" stop-color="#f3f3ff"/><stop offset="0.315" stop-color="#f3f3ff"/><stop offset="0.350" stop-color="#f4f4ff"/><stop offset="0.385" stop-color="#fafaff"/><stop offset="0.420" stop-color="#fefeff"/><stop offset="0.455" stop-color="#ffffff"/><stop offset="0.490" stop-color="#fffdfd"/><stop offset="0.524" stop-color="#fffafa"/><stop offset="0.559" stop-color="#fff9f9"/><stop offset="0.999" stop-color="#fff9f9"/></linearGradient><linearGradient id="g28"><stop offset="0.001" stop-color="#fefeff"/><stop offset="0.036" stop-color="#fafaff"/><stop offset="0.071" stop-color="#f2f2ff"/><stop offset="0.106" stop-color="#f0f0ff"/><stop offset="0.315" stop-color="#f0f0ff"/><stop offset="0.350" stop-color="#f1f1ff"/><stop offset="0.385" stop-color="#f9f9ff"/><stop offset="0.420" stop-color="#fefeff"/><stop offset="0.455" stop-color="#ffffff"/><stop offset="0.490" stop-color="#fffbfb"/><stop offset="0.524" stop-color="#fff5f5"/><stop offset="0.559" stop-color="#fff3f3"/><stop offset="0.999" stop-color="#fff3f3"/></linearGradient><linearGradient id="g29"><stop offset="0.001" stop-color="#fefeff"/><stop offset="0.036" stop-color="#fafaff"/><stop offset="0.071" stop-color="#f2f2ff"/><stop offset="0.106" stop-color="#f0f0ff"/><stop offset="0.315" stop-color="#f0f0ff"/><stop offset="0.350" stop-color="#f1f1ff"/><stop offset="0.385" stop-color="#f9f9ff"/><stop offset="0.420" stop-color="#fefeff"/><stop offset="0.455" stop-color="#ffffff"/><stop offset="0.490" stop-color="#fffafa"/><stop offset="0.524" stop-color="#fff4f4"/><stop offset="0.559" stop-color="#fff2f2"/><stop offset="0.999" stop-color="#fff2f2"/></linearGradient><linearGradient id="g30"><stop offset="0.001" stop-color="#ffffff"/><stop offset="0.036" stop-color="#fbfbff"/><stop offset="0.071" stop-color="#f5f5ff"/><stop offset="0.106" stop-color="#f3f3ff"/><stop offset="0.315" stop-color="#f3f3ff"/><stop offset="0.350" stop-color="#f4f4ff"/><stop offset="0.385" stop-color="#fafaff"/><stop offset="0.420" stop-color="#fefeff"/><stop offset="0.455" stop-color="#ffffff"/><stop offset="0.490" stop-color="#fffafa"/><stop offset="0.524" stop-color="#fff3f3"/><stop offset="0.559" stop-color="#fff1f1"/><stop offset="0.999" stop-color="#fff1f1"/></linearGradient><linearGradient id="g31"><stop offset="0.001" stop-color="#ffffff"/><stop offset="0.036" stop-color="#fefeff"/><stop offset="0.071" stop-color="#fcfcff"/><stop offset="0.315" stop-color="#fcfcff"/><stop offset="0.350" stop-color="#fdfdff"/><stop offset="0.385" stop-color="#fefeff"/><stop offset="0.420" stop-color="#fffefe"/><stop offset="0.455" stop-color="#fffefe"/><stop offset="0.490" stop-color="#fff8f8"/><stop offset="0.524" stop-color="#ffefef"/><stop offset="0.559" stop-color="#ffecec"/><stop offset="0.804" stop-color="#ffecec"/><stop offset="0.838" stop-color="#ffebeb"/><stop offset="0.999" stop-color="#ffebeb"/></linearGradient><linearGradient id="g32"><stop offset="0.001" stop-color="#fefeff"/><stop offset="0.210" stop-color="#fefeff"/><stop offset="0.245" stop-color="#ffffff"/><stop offset="0.280" stop-color="#ffffff"/><stop offset="0.315" stop-color="#fffdfd"/><stop offset="0.350" stop-color="#fffafa"/><stop offset="0.385" stop-color="#fff9f9"/><stop offset="0.420" stop-color="#fff9f9"/><stop offset="0.455" stop-color="#fff8f8"/><stop offset="0.490" stop-color="#fff3f3"/><stop offset="0.524" stop-color="#ffecec"/><stop offset="0.559" stop-color="#ffebeb"/><stop offset="0.734" stop-color="#ffebeb"/><stop offset="0.769" stop-color="#ffeaea"/><stop offset="0.804" stop-color="#ffe6e6"/><stop offset="0.838" stop-color="#ffe3e3"/><stop offset="0.999" stop-color="#ffe3e3"/></linearGradient><linearGradient id="g33"><stop offset="0.001" stop-color="#f7f7ff"/><stop offset="0.141" stop-color="#f7f7ff"/><stop offset="0.176" stop-color="#f8f8ff"/><stop offset="0.210" stop-color="#fafaff"/><stop offset="0.245" stop-color="#fefeff"/><stop offset="0.280" stop-color="#ffffff"/><stop offset="0.315" stop-color="#fffcfc"/><stop offset="0.350" stop-color="#fff6f6"/><stop offset="0.385" stop-color="#fff3f3"/><stop offset="0.455" stop-color="#fff3f3"/><stop offset="0.490" stop-color="#ffefef"/><stop offset="0.524" stop-color="#ffebeb"/><stop offset="0.734" stop-color="#ffebeb"/><stop offset="0.769" stop-color="#ffe9e9"/><stop offset="0.804" stop-color="#ffe2e2"/><stop offset="0.838" stop-color="#ffdddd"/><stop offset="0.873" stop-color="#ffdcdc"/><stop offset="0.999" stop-color="#ffdcdc"/></linearGradient><linearGradient id="g34"><stop offset="0.001" stop-color="#f1f1ff"/><stop offset="0.176" stop-color="#f1f1ff"/><stop offset="0.210" stop-color="#f5f5ff"/><stop offset="0.245" stop-color="#fcfcff"/><stop offset="0.280" stop-color="#ffffff"/><stop offset="0.315" stop-color="#fffcfc"/><stop offset="0.350" stop-color="#fff5f5"/><stop offset="0.385" stop-color="#fff2f2"/><stop offset="0.455" stop-color="#fff2f2"/><stop offset="0.490" stop-color="#ffefef"/><stop offset="0.524" stop-color="#ffebeb"/><stop offset="0.734" stop-color="#ffebeb"/><stop offset="0.769" stop-color="#ffe9e9"/><stop offset="0.804" stop-color="#ffe2e2"/><stop offset="0.838" stop-color="#ffdcdc"/><stop offset="0.873" stop-color="#ffdbdb"/><stop offset="0.999" stop-color="#ffdbdb"/></linearGradient><linearGradient id="g35"><stop offset="0.001" stop-color="#f0f0ff"/><stop offset="0.176" stop-color="#f0f0ff"/><stop offset="0.210" stop-color="#f4f4ff"/><stop offset="0.245" stop-color="#fcfcff"/><stop offset="0.280" stop-color="#ffffff"/><stop offset="0.315" stop-color="#fffcfc"/><stop offset="0.350" stop-color="#fff5f5"/><stop offset="0.385" stop-color="#fff2f2"/><stop offset="0.455" stop-color="#fff2f2"/><stop offset="0.490" stop-color="#ffefef"/><stop offset="0.524" stop-color="#ffebeb"/><stop offset="0.734" stop-color="#ffebeb"/><stop offset="0.769" stop-color="#ffe9e9"/><stop offset="0.804" stop-color="#ffe2e2"/><stop offset="0.838" stop-color="#ffdcdc"/><stop offset="0.873" stop-color="#ffdbdb"/><stop offset="0.999" stop-color="#ffdbdb"/></linearGradient><linearGradient id="g36"><stop offset="0.001" stop-color="#f0f0ff"/><stop offset="0.176" stop-color="#f0f0ff"/><stop offset="0.210" stop-color="#f4f4ff"/><stop offset="0.245" stop-color="#fcfcff"/><stop offset="0.280" stop-color="#ffffff"/><stop offset="0.315" stop-color="#fffcfc"/><stop offset="0.350" stop-color="#fff6f6"/><stop offset="0.385" stop-color="#fff3f3"/><stop offset="0.455" stop-color="#fff3f3"/><stop offset="0.490" stop-color="#ffefef"/><stop offset="0.524" stop-color="#ffebeb"/><stop offset="0.734" stop-color="#ffebeb"/><stop offset="0.769" stop-color="#ffe9e9"/><stop offset="0.804" stop-color="#ffe2e2"/><stop offset="0.838" stop-color="#ffdddd"/><stop offset="0.873" stop-color="#ffdcdc"/><stop offset="0.999" stop-color="#ffdcdc"/></linearGradient><linearGradient id="g37"><stop offset="0.001" stop-color="#f1f1ff"/><stop offset="0.176" stop-color="#f1f1ff"/><stop offset="0.210" stop-color="#f5f5ff"/><stop offset="0.245" stop-color="#fcfcff"/><stop offset="0.280" stop-color="#ffffff"/><stop offset="0.315" stop-color="#fffdfd"/><stop offset="0.350" stop-color="#fffafa"/><stop offset="0.385" stop-color="#fff9f9"/><stop offset="0.420" stop-color="#fff9f9"/><stop offset="0.455" stop-color="#fff8f8"/><stop offset="0.490" stop-color="#fff4f4"/><stop offset="0.524" stop-color="#ffeded"/><stop offset="0.559" stop-color="#ffecec"/><stop offset="0.734" stop-color="#ffecec"/><stop offset="0.769" stop-color="#ffebeb"/><stop offset="0.804" stop-color="#ffe7e7"/><stop offset="0.838" stop-color="#ffe4e4"/><stop offset="0.999" stop-color="#ffe4e4"/></linearGradient><linearGradient id="g38"><stop offset="0.001" stop-color="#f7f7ff"/><stop offset="0.141" stop-color="#f7f7ff"/><stop offset="0.176" stop-color="#f8f8ff"/><stop offset="0.210" stop-color="#fafaff"/><stop offset="0.245" stop-color="#fefeff"/><stop offset="0.280" stop-color="#ffffff"/><stop offset="0.315" stop-color="#ffffff"/><stop offset="0.350" stop-color="#fffefe"/><stop offset="0.455" stop-color="#fffefe"/><stop offset="0.490" stop-color="#fffbfb"/><stop offset="0.524" stop-color="#fff6f6"/><stop offset="0.559" stop-color="#fff5f5"/><stop offset="0.769" stop-color="#fff5f5"/><stop offset="0.804" stop-color="#fff4f4"/><stop offset="0.999" stop-color="#fff4f4"/></linearGradient><linearGradient id="g39"><stop offset="0.001" stop-color="#fefeff"/><stop offset="0.036" stop-color="#fefeff"/><stop offset="0.071" stop-color="#ffffff"/><stop offset="0.106" stop-color="#fffefe"/><stop offset="0.141" stop-color="#fffdfd"/><stop offset="0.176" stop-color="#fffbfb"/><stop offset="0.210" stop-color="#fffafa"/><stop offset="0.245" stop-color="#fffafa"/><stop offset="0.280" stop-color="#fffbfb"/><stop offset="0.315" stop-color="#fffcfc"/><stop offset="0.350" stop-color="#fffefe"/><stop offset="0.385" stop-color="#ffffff"/><stop offset="0.490" stop-color="#ffffff"/><stop offset="0.524" stop-color="#fffefe"/><stop offset="0.999" stop-color="#fffefe"/></linearGradient><linearGradient id="g40"><stop offset="0.001" stop-color="#ffffff"/><stop offset="0.036" stop-color="#ffffff"/><stop offset="0.071" stop-color="#fffdfd"/><stop offset="0.106" stop-color="#fff7f7"/><stop offset="0.141" stop-color="#fff3f3"/><stop offset="0.176" stop-color="#ffefef"/><stop offset="0.210" stop-color="#ffecec"/><stop offset="0.245" stop-color="#ffecec"/><stop offset="0.280" stop-color="#fff0f0"/><stop offset="0.315" stop-color="#fff6f6"/><stop offset="0.350" stop-color="#fffcfc"/><stop offset="0.385" stop-color="#ffffff"/><stop offset="0.999" stop-color="#ffffff"/></linearGradient><linearGradient id="g41"><stop offset="0.001" stop-color="#ffffff"/><stop offset="0.036" stop-color="#ffffff"/><stop offset="0.071" stop-color="#fffdfd"/><stop offset="0.106" stop-color="#fff5f5"/><stop offset="0.141" stop-color="#fff0f0"/><stop offset="0.176" stop-color="#ffebeb"/><stop offset="0.210" stop-color="#ffe7e7"/><stop offset="0.245" stop-color="#ffe7e7"/><stop offset="0.280" stop-color="#ffecec"/><stop offset="0.315" stop-color="#fff3f3"/><stop offset="0.350" stop-color="#fffcfc"/><stop offset="0.385" stop-color="#ffffff"/><stop offset="0.999" stop-color="#ffffff"/></linearGradient><linearGradient id="g42"><stop offset="0.001" stop-color="#ffffff"/><stop offset="0.036" stop-color="#ffffff"/><stop offset="0.071" stop-color="#fffdfd"/><stop offset="0.106" stop-color="#fff5f5"/><stop offset="0.141" stop-color="#fff0f0"/><stop offset="0.176" stop-color="#ffebeb"/><stop offset="0.210" stop-color="#ffe6e6"/><stop offset="0.245" stop-color="#ffe7e7"/><stop offset="0.280" stop-color="#ffecec"/><stop offset="0.315" stop-color="#fff3f3"/><stop offset="0.350" stop-color="#fffcfc"/><stop offset="0.385" stop-color="#ffffff"/><stop offset="0.999" stop-color="#ffffff"/></linearGradient><linearGradient id="g43"><stop offset="0.001" stop-color="#fffefe"/><stop offset="0.036" stop-color="#fffdfd"/><stop offset="0.071" stop-color="#fffbfb"/><stop offset="0.106" stop-color="#fff5f5"/><stop offset="0.141" stop-color="#fff0f0"/><stop offset="0.176" stop-color="#ffecec"/><stop offset="0.210" stop-color="#ffe9e9"/><stop offset="0.245" stop-color="#ffe9e9"/><stop offset="0.280" stop-color="#ffeded"/><stop offset="0.315" stop-color="#fff2f2"/><stop offset="0.350" stop-color="#fff8f8"/><stop offset="0.385" stop-color="#fffafa"/><stop offset="0.420" stop-color="#fffbfb"/><stop offset="0.455" stop-color="#fffbfb"/><stop offset="0.490" stop-color="#fffcfc"/><stop offset="0.524" stop-color="#fffefe"/><stop offset="0.559" stop-color="#ffffff"/><stop offset="0.999" stop-color="#ffffff"/></linearGradient><linearGradient id="g44"><stop offset="0.001" stop-color="#fffcfc"/><stop offset="0.036" stop-color="#fff9f9"/><stop offset="0.071" stop-color="#fff5f5"/><stop offset="0.106" stop-color="#fff3f3"/><stop offset="0.141" stop-color="#fff2f2"/><stop offset="0.176" stop-color="#fff1f1"/><stop offset="0.210" stop-color="#fff0f0"/><stop offset="0.245" stop-color="#fff0f0"/><stop offset="0.280" stop-color="#fff1f1"/><stop offset="0.315" stop-color="#fff1f1"/><stop offset="0.350" stop-color="#fff0f0"/><stop offset="0.455" stop-color="#fff0f0"/><stop offset="0.490" stop-color="#fff3f3"/><stop offset="0.524" stop-color="#fff8f8"/><stop offset="0.559" stop-color="#fffbfb"/><stop offset="0.594" stop-color="#fffbfb"/><stop offset="0.629" stop-color="#fffcfc"/><stop offset="0.769" stop-color="#fffcfc"/><stop offset="0.804" stop-color="#fffdfd"/><stop offset="0.838" stop-color="#fffefe"/><stop offset="0.873" stop-color="#ffffff"/><stop offset="0.999" stop-color="#ffffff"/></linearGradient><linearGradient id="g45"><stop offset="0.001" stop-color="#fff5f5"/><stop offset="0.036" stop-color="#fff2f2"/><stop offset="0.071" stop-color="#fff1f1"/><stop offset="0.106" stop-color="#fff5f5"/><stop offset="0.141" stop-color="#fff8f8"/><stop offset="0.176" stop-color="#fff9f9"/><stop offset="0.245" stop-color="#fff9f9"/><stop offset="0.280" stop-color="#fff8f8"/><stop offset="0.315" stop-color="#fff7f7"/><stop offset="0.350" stop-color="#fff6f6"/><stop offset="0.385" stop-color="#fff5f5"/><stop offset="0.420" stop-color="#fff5f5"/><stop offset="0.455" stop-color="#fff4f4"/><stop offset="0.490" stop-color="#fff1f1"/><stop offset="0.524" stop-color="#ffefef"/><stop offset="0.559" stop-color="#ffefef"/><stop offset="0.594" stop-color="#fff0f0"/><stop offset="0.629" stop-color="#fff3f3"/><stop offset="0.664" stop-color="#fff5f5"/><stop offset="0.769" stop-color="#fff5f5"/><stop offset="0.804" stop-color="#fff6f6"/><stop offset="0.838" stop-color="#fffafa"/><stop offset="0.873" stop-color="#fffdfd"/><stop offset="0.999" stop-color="#fffdfd"/></linearGradient><linearGradient id="g46"><stop offset="0.001" stop-color="#ffeeee"/><stop offset="0.036" stop-color="#ffeeee"/><stop offset="0.071" stop-color="#fff0f0"/><stop offset="0.106" stop-color="#fff8f8"/><stop offset="0.141" stop-color="#fffefe"/><stop offset="0.420" stop-color="#fffefe"/><stop offset="0.455" stop-color="#fffdfd"/><stop offset="0.490" stop-color="#fff7f7"/><stop offset="0.524" stop-color="#fff0f0"/><stop offset="0.559" stop-color="#ffefef"/><stop offset="0.594" stop-color="#ffefef"/><stop offset="0.629" stop-color="#fff1f1"/><stop offset="0.664" stop-color="#fff2f2"/><stop offset="0.769" stop-color="#fff2f2"/><stop offset="0.804" stop-color="#fff3f3"/><stop offset="0.838" stop-color="#fff5f5"/><stop offset="0.873" stop-color="#fff7f7"/><stop offset="0.999" stop-color="#fff7f7"/></linearGradient><linearGradient id="g47"><stop offset="0.001" stop-color="#ffeded"/><stop offset="0.036" stop-color="#ffeded"/><stop offset="0.071" stop-color="#ffefef"/><stop offset="0.106" stop-color="#fff7f7"/><stop offset="0.141" stop-color="#fffcfc"/><stop offset="0.455" stop-color="#fffcfc"/><stop offset="0.490" stop-color="#fff8f8"/><stop offset="0.524" stop-color="#fff3f3"/><stop offset="0.559" stop-color="#fff2f2"/><stop offset="0.769" stop-color="#fff2f2"/><stop offset="0.804" stop-color="#fff3f3"/><stop offset="0.838" stop-color="#fff4f4"/><stop offset="0.873" stop-color="#fff5f5"/><stop offset="0.999" stop-color="#fff5f5"/></linearGradient><linearGradient id="g48"><stop offset="0.001" stop-color="#ffeded"/><stop offset="0.036" stop-color="#ffeded"/><stop offset="0.071" stop-color="#ffeeee"/><stop offset="0.106" stop-color="#fff2f2"/><stop offset="0.141" stop-color="#fff5f5"/><stop offset="0.455" stop-color="#fff5f5"/><stop offset="0.490" stop-color="#fff3f3"/><stop offset="0.524" stop-color="#fff2f2"/><stop offset="0.769" stop-color="#fff2f2"/><stop offset="0.804" stop-color="#fff3f3"/><stop offset="0.838" stop-color="#fff4f4"/><stop offset="0.873" stop-color="#fff5f5"/><stop offset="0.999" stop-color="#fff5f5"/></linearGradient><linearGradient id="g49"><stop offset="0.001" stop-color="#ffeded"/><stop offset="0.036" stop-color="#ffeded"/><stop offset="0.071" stop-color="#ffeeee"/><stop offset="0.106" stop-color="#fff0f0"/><stop offset="0.141" stop-color="#fff2f2"/><stop offset="0.524" stop-color="#fff2f2"/><stop offset="0.559" stop-color="#fff3f3"/><stop offset="0.804" stop-color="#fff3f3"/><stop offset="0.838" stop-color="#fff5f5"/><stop offset="0.999" stop-color="#fff5f5"/></linearGradient><linearGradient id="g50"><stop offset="0.001" stop-color="#ffeded"/><stop offset="0.036" stop-color="#ffeded"/><stop offset="0.071" stop-color="#ffeeee"/><stop offset="0.106" stop-color="#fff0f0"/><stop offset="0.141" stop-color="#fff2f2"/><stop offset="0.455" stop-color="#fff2f2"/><stop offset="0.490" stop-color="#fff3f3"/><stop offset="0.524" stop-color="#fff6f6"/><stop offset="0.559" stop-color="#fff7f7"/><stop offset="0.594" stop-color="#fff7f7"/><stop offset="0.629" stop-color="#fff8f8"/><stop offset="0.664" stop-color="#fff9f9"/><stop offset="0.838" stop-color="#fff9f9"/><stop offset="0.873" stop-color="#fffafa"/><stop offset="0.999" stop-color="#fffafa"/></linearGradient><linearGradient id="g51"><stop offset="0.001" stop-color="#fff1f1"/><stop offset="0.071" stop-color="#fff1f1"/><stop offset="0.106" stop-color="#fff2f2"/><stop offset="0.141" stop-color="#fff1f1"/><stop offset="0.245" stop-color="#fff1f1"/><stop offset="0.280" stop-color="#fff2f2"/><stop offset="0.315" stop-color="#fff4f4"/><stop offset="0.350" stop-color="#fff5f5"/><stop offset="0.455" stop-color="#fff5f5"/><stop offset="0.490" stop-color="#fff6f6"/><stop offset="0.524" stop-color="#fff7f7"/><stop offset="0.559" stop-color="#fff8f8"/><stop offset="0.594" stop-color="#fff9f9"/><stop offset="0.629" stop-color="#fffcfc"/><stop offset="0.664" stop-color="#fffefe"/><stop offset="0.999" stop-color="#fffefe"/></linearGradient><linearGradient id="g52"><stop offset="0.001" stop-color="#fffbfb"/><stop offset="0.071" stop-color="#fffbfb"/><stop offset="0.106" stop-color="#fff7f7"/><stop offset="0.141" stop-color="#ffefef"/><stop offset="0.176" stop-color="#ffecec"/><stop offset="0.245" stop-color="#ffecec"/><stop offset="0.280" stop-color="#fff0f0"/><stop offset="0.315" stop-color="#fff9f9"/><stop offset="0.350" stop-color="#fffcfc"/><stop offset="0.455" stop-color="#fffcfc"/><stop offset="0.490" stop-color="#fffafa"/><stop offset="0.524" stop-color="#fff8f8"/><stop offset="0.559" stop-color="#fff7f7"/><stop offset="0.594" stop-color="#fff8f8"/><stop offset="0.629" stop-color="#fffcfc"/><stop offset="0.664" stop-color="#ffffff"/><stop offset="0.999" stop-color="#ffffff"/></linearGradient><linearGradient id="g53"><stop offset="0.001" stop-color="#ffffff"/><stop offset="0.036" stop-color="#ffffff"/><stop offset="0.071" stop-color="#fffefe"/><stop offset="0.106" stop-color="#fff9f9"/><stop offset="0.141" stop-color="#ffeeee"/><stop offset="0.176" stop-color="#ffebeb"/><stop offset="0.245" stop-color="#ffebeb"/><stop offset="0.280" stop-color="#fff0f0"/><stop offset="0.315" stop-color="#fffbfb"/><stop offset="0.350" stop-color="#ffffff"/><stop offset="0.455" stop-color="#ffffff"/><stop offset="0.490" stop-color="#fffcfc"/><stop offset="0.524" stop-color="#fff8f8"/><stop offset="0.559" stop-color="#fff7f7"/><stop offset="0.594" stop-color="#fff8f8"/><stop offset="0.629" stop-color="#fffcfc"/><stop offset="0.664" stop-color="#ffffff"/><stop offset="0.999" stop-color="#ffffff"/></linearGradient><linearGradient id="g54"><stop offset="0.001" stop-color="#fffefe"/><stop offset="0.071" stop-color="#fffefe"/><stop offset="0.106" stop-color="#fff9f9"/><stop offset="0.141" stop-color="#fff1f1"/><stop offset="0.176" stop-color="#ffeeee"/><stop offset="0.245" stop-color="#ffeeee"/><stop offset="0.280" stop-color="#fff2f2"/><stop offset="0.315" stop-color="#fffafa"/><stop offset="0.350" stop-color="#fffefe"/><stop offset="0.455" stop-color="#fffefe"/><stop offset="0.490" stop-color="#fffcfc"/><stop offset="0.524" stop-color="#fffafa"/><stop offset="0.559" stop-color="#fff9f9"/><stop offset="0.594" stop-color="#fffafa"/><stop offset="0.629" stop-color="#fffdfd"/><stop offset="0.664" stop-color="#ffffff"/><stop offset="0.999" stop-color="#ffffff"/></linearGradient><linearGradient id="g55"><stop offset="0.001" stop-color="#fffbfb"/><stop offset="0.071" stop-color="#fffbfb"/><stop offset="0.106" stop-color="#fffafa"/><stop offset="0.141" stop-color="#fff7f7"/><stop offset="0.245" stop-color="#fff7f7"/><stop offset="0.280" stop-color="#fff8f8"/><stop offset="0.315" stop-color="#fffafa"/><stop offset="0.350" stop-color="#fffbfb"/><stop offset="0.455" stop-color="#fffbfb"/><stop offset="0.490" stop-color="#fffcfc"/><stop offset="0.524" stop-color="#fffdfd"/><stop offset="0.559" stop-color="#fffdfd"/><stop offset="0.594" stop-color="#fffefe"/><stop offset="0.629" stop-color="#fffefe"/><stop offset="0.664" stop-color="#ffffff"/><stop offset="0.999" stop-color="#ffffff"/></linearGradient><linearGradient id="g56"><stop offset="0.001" stop-color="#fffafa"/><stop offset="0.455" stop-color="#fffafa"/><stop offset="0.490" stop-color="#fffcfc"/><stop offset="0.524" stop-color="#fffefe"/><stop offset="0.559" stop-color="#ffffff"/><stop offset="0.999" stop-color="#ffffff"/></linearGradient><linearGradient id="g57"><stop offset="0.001" stop-color="#fffafa"/><stop offset="0.350" stop-color="#fffafa"/><stop offset="0.385" stop-color="#fffbfb"/><stop offset="0.420" stop-color="#fffcfc"/><stop offset="0.455" stop-color="#fffcfc"/><stop offset="0.490" stop-color="#fffdfd"/><stop offset="0.524" stop-color="#fffefe"/><stop offset="0.559" stop-color="#ffffff"/><stop offset="0.999" stop-color="#ffffff"/></linearGradient><linearGradient id="g58"><stop offset="0.001" stop-color="#fffafa"/><stop offset="0.315" stop-color="#fffafa"/><stop offset="0.350" stop-color="#fffcfc"/><stop offset="0.385" stop-color="#ffffff"/><stop offset="0.420" stop-color="#fefeff"/><stop offset="0.490" stop-color="#fefeff"/><stop offset="0.524" stop-color="#ffffff"/><stop offset="0.999" stop-color="#ffffff"/></linearGradient><linearGradient id="g59"><stop offset="0.001" stop-color="#fffbfb"/><stop offset="0.071" stop-color="#fffbfb"/><stop offset="0.106" stop-color="#fff9f9"/><stop offset="0.141" stop-color="#fff8f8"/><stop offset="0.245" stop-color="#fff8f8"/><stop offset="0.280" stop-color="#fff9f9"/><stop offset="0.315" stop-color="#fffafa"/><stop offset="0.350" stop-color="#fffdfd"/><stop offset="0.385" stop-color="#fefeff"/><stop offset="0.420" stop-color="#fdfdff"/><stop offset="0.455" stop-color="#fdfdff"/><stop offset="0.490" stop-color="#fefeff"/><stop offset="0.524" stop-color="#ffffff"/><stop offset="0.559" stop-color="#fefeff"/><stop offset="0.594" stop-color="#fdfdff"/><stop offset="0.734" stop-color="#fdfdff"/><stop offset="0.769" stop-color="#fcfcff"/><stop offset="0.999" stop-color="#fcfcff"/></linearGradient><linearGradient id="g60"><stop offset="0.001" stop-color="#fffefe"/><stop offset="0.036" stop-color="#fffefe"/><stop offset="0.071" stop-color="#fffcfc"/><stop offset="0.106" stop-color="#fff6f6"/><stop offset="0.141" stop-color="#fff2f2"/><stop offset="0.245" stop-color="#fff2f2"/><stop offset="0.280" stop-color="#fff5f5"/><stop offset="0.315" stop-color="#fffbfb"/><stop offset="0.350" stop-color="#fffefe"/><stop offset="0.385" stop-color="#ffffff"/><stop offset="0.420" stop-color="#fefeff"/><stop offset="0.455" stop-color="#fefeff"/><stop offset="0.490" stop-color="#ffffff"/><stop offset="0.524" stop-color="#ffffff"/><stop offset="0.559" stop-color="#fcfcff"/><stop offset="0.594" stop-color="#f8f8ff"/><stop offset="0.629" stop-color="#f7f7ff"/><stop offset="0.734" stop-color="#f7f7ff"/><stop offset="0.769" stop-color="#f5f5ff"/><stop offset="0.804" stop-color="#f3f3ff"/><stop offset="0.999" stop-color="#f3f3ff"/></linearGradient><linearGradient id="g61"><stop offset="0.001" stop-color="#ffffff"/><stop offset="0.036" stop-color="#ffffff"/><stop offset="0.071" stop-color="#fffdfd"/><stop offset="0.106" stop-color="#fff5f5"/><stop offset="0.141" stop-color="#fff0f0"/><stop offset="0.245" stop-color="#fff0f0"/><stop offset="0.280" stop-color="#fff4f4"/><stop offset="0.315" stop-color="#fffcfc"/><stop offset="0.350" stop-color="#ffffff"/><stop offset="0.524" stop-color="#ffffff"/><stop offset="0.559" stop-color="#fbfbff"/><stop offset="0.594" stop-color="#f6f6ff"/><stop offset="0.629" stop-color="#f5f5ff"/><stop offset="0.699" stop-color="#f5f5ff"/><stop offset="0.734" stop-color="#f4f4ff"/><stop offset="0.769" stop-color="#f2f2ff"/><stop offset="0.804" stop-color="#f0f0ff"/><stop offset="0.999" stop-color="#f0f0ff"/></linearGradient><linearGradient id="g62"><stop offset="0.001" stop-color="#ffffff"/><stop offset="0.036" stop-color="#ffffff"/><stop offset="0.071" stop-color="#fffdfd"/><stop offset="0.106" stop-color="#fff7f7"/><stop offset="0.141" stop-color="#fff3f3"/><stop offset="0.176" stop-color="#fff3f3"/><stop offset="0.210" stop-color="#fff2f2"/><stop offset="0.245" stop-color="#fff0f0"/><stop offset="0.280" stop-color="#fff1f1"/><stop offset="0.315" stop-color="#fff7f7"/><stop offset="0.350" stop-color="#fffbfb"/><stop offset="0.455" stop-color="#fffbfb"/><stop offset="0.490" stop-color="#fffcfc"/><stop offset="0.524" stop-color="#ffffff"/><stop offset="0.559" stop-color="#fcfcff"/><stop offset="0.594" stop-color="#f8f8ff"/><stop offset="0.629" stop-color="#f7f7ff"/><stop offset="0.734" stop-color="#f7f7ff"/><stop offset="0.769" stop-color="#f5f5ff"/><stop offset="0.804" stop-color="#f3f3ff"/><stop offset="0.999" stop-color="#f3f3ff"/></linearGradient><linearGradient id="g63"><stop offset="0.001" stop-color="#ffffff"/><stop offset="0.071" stop-color="#ffffff"/><stop offset="0.106" stop-color="#fffdfd"/><stop offset="0.141" stop-color="#fffcfc"/><stop offset="0.176" stop-color="#fffcfc"/><stop offset="0.210" stop-color="#fff8f8"/><stop offset="0.245" stop-color="#ffefef"/><stop offset="0.280" stop-color="#ffeaea"/><stop offset="0.315" stop-color="#ffecec"/><stop offset="0.350" stop-color="#fff0f0"/><stop offset="0.385" stop-color="#fff1f1"/><stop offset="0.455" stop-color="#fff1f1"/><stop offset="0.490" stop-color="#fff5f5"/><stop offset="0.524" stop-color="#fffdfd"/><stop offset="0.559" stop-color="#fefeff"/><stop offset="0.594" stop-color="#fdfdff"/><stop offset="0.734" stop-color="#fdfdff"/><stop offset="0.769" stop-color="#fcfcff"/><stop offset="0.999" stop-color="#fcfcff"/></linearGradient><linearGradient id="g64"><stop offset="0.001" stop-color="#ffffff"/><stop offset="0.176" stop-color="#ffffff"/><stop offset="0.210" stop-color="#fffbfb"/><stop offset="0.245" stop-color="#ffefef"/><stop offset="0.280" stop-color="#ffe7e7"/><stop offset="0.315" stop-color="#ffe8e8"/><stop offset="0.350" stop-color="#ffecec"/><stop offset="0.385" stop-color="#ffeded"/><stop offset="0.420" stop-color="#ffeded"/><stop offset="0.455" stop-color="#ffeeee"/><stop offset="0.490" stop-color="#fff3f3"/><stop offset="0.524" stop-color="#fffcfc"/><stop offset="0.559" stop-color="#ffffff"/><stop offset="0.999" stop-color="#ffffff"/></linearGradient><linearGradient id="g65"><stop offset="0.001" stop-color="#ffffff"/><stop offset="0.176" stop-color="#ffffff"/><stop offset="0.210" stop-color="#fffbfb"/><stop offset="0.245" stop-color="#ffefef"/><stop offset="0.280" stop-color="#ffe7e7"/><stop offset="0.315" stop-color="#ffe8e8"/><stop offset="0.350" stop-color="#ffecec"/><stop offset="0.385" stop-color="#ffeded"/><stop offset="0.420" stop-color="#ffeded"/><stop offset="0.455" stop-color="#ffeeee"/><stop offset="0.490" stop-color="#fff3f3"/><stop offset="0.524" stop-color="#fffcfc"/><stop offset="0.559" stop-color="#ffffff"/><stop offset="0.999" stop-color="#ffffff"/></linearGradient><linearGradient id="g66"><stop offset="0.001" stop-color="#fffdfd"/><stop offset="0.071" stop-color="#fffdfd"/><stop offset="0.106" stop-color="#fffefe"/><stop offset="0.141" stop-color="#ffffff"/><stop offset="0.176" stop-color="#ffffff"/><stop offset="0.210" stop-color="#fffcfc"/><stop offset="0.245" stop-color="#fff2f2"/><stop offset="0.280" stop-color="#ffecec"/><stop offset="0.315" stop-color="#ffecec"/><stop offset="0.350" stop-color="#ffeeee"/><stop offset="0.385" stop-color="#ffefef"/><stop offset="0.455" stop-color="#ffefef"/><stop offset="0.490" stop-color="#fff3f3"/><stop offset="0.524" stop-color="#fffafa"/><stop offset="0.559" stop-color="#fffdfd"/><stop offset="0.594" stop-color="#fffdfd"/><stop offset="0.629" stop-color="#fffefe"/><stop offset="0.664" stop-color="#ffffff"/><stop offset="0.999" stop-color="#ffffff"/></linearGradient><linearGradient id="g67"><stop offset="0.001" stop-color="#fff7f7"/><stop offset="0.036" stop-color="#fff7f7"/><stop offset="0.071" stop-color="#fff8f8"/><stop offset="0.106" stop-color="#fffcfc"/><stop offset="0.141" stop-color="#ffffff"/><stop offset="0.176" stop-color="#ffffff"/><stop offset="0.210" stop-color="#fffefe"/><stop offset="0.245" stop-color="#fffcfc"/><stop offset="0.280" stop-color="#fffafa"/><stop offset="0.315" stop-color="#fff8f8"/><stop offset="0.350" stop-color="#fff5f5"/><stop offset="0.385" stop-color="#fff3f3"/><stop offset="0.455" stop-color="#fff3f3"/><stop offset="0.490" stop-color="#fff4f4"/><stop offset="0.524" stop-color="#fff6f6"/><stop offset="0.559" stop-color="#fff7f7"/><stop offset="0.594" stop-color="#fff8f8"/><stop offset="0.629" stop-color="#fffbfb"/><stop offset="0.664" stop-color="#fffefe"/><stop offset="0.699" stop-color="#ffffff"/><stop offset="0.999" stop-color="#ffffff"/></linearGradient><linearGradient id="g68"><stop offset="0.001" stop-color="#fff7f7"/><stop offset="0.036" stop-color="#fff7f7"/><stop offset="0.071" stop-color="#fff8f8"/><stop offset="0.106" stop-color="#fffcfc"/><stop offset="0.141" stop-color="#ffffff"/><stop offset="0.280" stop-color="#ffffff"/><stop offset="0.315" stop-color="#fffdfd"/><stop offset="0.350" stop-color="#fff9f9"/><stop offset="0.385" stop-color="#fff7f7"/><stop offset="0.559" stop-color="#fff7f7"/><stop offset="0.594" stop-color="#fff8f8"/><stop offset="0.629" stop-color="#fffbfb"/><stop offset="0.664" stop-color="#fffefe"/><stop offset="0.699" stop-color="#ffffff"/><stop offset="0.999" stop-color="#ffffff"/></linearGradient><linearGradient id="g69"><stop offset="0.001" stop-color="#fffdfd"/><stop offset="0.071" stop-color="#fffdfd"/><stop offset="0.106" stop-color="#fffefe"/><stop offset="0.141" stop-color="#ffffff"/><stop offset="0.280" stop-color="#ffffff"/><stop offset="0.315" stop-color="#fffefe"/><stop offset="0.350" stop-color="#fffdfd"/><stop offset="0.594" stop-color="#fffdfd"/><stop offset="0.629" stop-color="#fffefe"/><stop offset="0.664" stop-color="#ffffff"/><stop offset="0.999" stop-color="#ffffff"/></linearGradient><linearGradient id="g70"><stop offset="0.001" stop-color="#ffffff"/><stop offset="0.071" stop-color="#ffffff"/><stop offset="0.106" stop-color="#fffdfd"/><stop offset="0.141" stop-color="#fffcfc"/><stop offset="0.176" stop-color="#fffcfc"/><stop offset="0.210" stop-color="#fffbfb"/><stop offset="0.315" stop-color="#fffbfb"/><stop offset="0.350" stop-color="#fffcfc"/><stop offset="0.490" stop-color="#fffcfc"/><stop offset="0.524" stop-color="#fffdfd"/><stop offset="0.559" stop-color="#fffdfd"/><stop offset="0.594" stop-color="#fffefe"/><stop offset="0.629" stop-color="#ffffff"/><stop offset="0.999" stop-color="#ffffff"/></linearGradient><linearGradient id="g71"><stop offset="0.001" stop-color="#ffffff"/><stop offset="0.036" stop-color="#ffffff"/><stop offset="0.071" stop-color="#fffefe"/><stop offset="0.106" stop-color="#fff9f9"/><stop offset="0.141" stop-color="#fff5f5"/><stop offset="0.176" stop-color="#fff4f4"/><stop offset="0.210" stop-color="#fff2f2"/><stop offset="0.245" stop-color="#fff1f1"/><stop offset="0.280" stop-color="#fff1f1"/><stop offset="0.315" stop-color="#fff2f2"/><stop offset="0.350" stop-color="#fff4f4"/><stop offset="0.385" stop-color="#fff5f5"/><stop offset="0.455" stop-color="#fff5f5"/><stop offset="0.490" stop-color="#fff6f6"/><stop offset="0.524" stop-color="#fff8f8"/><stop offset="0.559" stop-color="#fff9f9"/><stop offset="0.594" stop-color="#fffcfc"/><stop offset="0.629" stop-color="#ffffff"/><stop offset="0.999" stop-color="#ffffff"/></linearGradient><linearGradient id="g72"><stop offset="0.001" stop-color="#ffffff"/><stop offset="0.036" stop-color="#ffffff"/><stop offset="0.071" stop-color="#fffdfd"/><stop offset="0.106" stop-color="#fff7f7"/><stop offset="0.141" stop-color="#fff3f3"/><stop offset="0.176" stop-color="#fff2f2"/><stop offset="0.210" stop-color="#ffefef"/><stop offset="0.245" stop-color="#ffeeee"/><stop offset="0.280" stop-color="#ffeeee"/><stop offset="0.315" stop-color="#ffefef"/><stop offset="0.350" stop-color="#fff1f1"/><stop offset="0.385" stop-color="#fff2f2"/><stop offset="0.455" stop-color="#fff2f2"/><stop offset="0.490" stop-color="#fff4f4"/><stop offset="0.524" stop-color="#fff6f6"/><stop offset="0.559" stop-color="#fff8f8"/><stop offset="0.594" stop-color="#fffbfb"/><stop offset="0.629" stop-color="#fffefe"/><stop offset="0.664" stop-color="#ffffff"/><stop offset="0.999" stop-color="#ffffff"/></linearGradient><linearGradient id="g73"><stop offset="0.001" stop-color="#ffffff"/><stop offset="0.036" stop-color="#ffffff"/><stop offset="0.071" stop-color="#fffefe"/><stop offset="0.106" stop-color="#fff9f9"/><stop offset="0.141" stop-color="#fff5f5"/><stop offset="0.176" stop-color="#fff4f4"/><stop offset="0.210" stop-color="#fff2f2"/><stop offset="0.245" stop-color="#fff1f1"/><stop offset="0.280" stop-color="#fff1f1"/><stop offset="0.315" stop-color="#fff2f2"/><stop offset="0.350" stop-color="#fff4f4"/><stop offset="0.385" stop-color="#fff5f5"/><stop offset="0.455" stop-color="#fff5f5"/><stop offset="0.490" stop-color="#fff6f6"/><stop offset="0.524" stop-color="#fff8f8"/><stop offset="0.559" stop-color="#fff9f9"/><stop offset="0.594" stop-color="#fffcfc"/><stop offset="0.629" stop-color="#ffffff"/><stop offset="0.999" stop-color="#ffffff"/></linearGradient><linearGradient id="g74"><stop offset="0.001" stop-color="#ffffff"/><stop offset="0.071" stop-color="#ffffff"/><stop offset="0.106" stop-color="#fffdfd"/><stop offset="0.141" stop-color="#fffcfc"/><stop offset="0.176" stop-color="#fffcfc"/><stop offset="0.210" stop-color="#fffbfb"/><stop offset="0.315" stop-color="#fffbfb"/><stop offset="0.350" stop-color="#fffcfc"/><stop offset="0.490" stop-color="#fffcfc"/><stop offset="0.524" stop-color="#fffdfd"/><stop offset="0.559" stop-color="#fffdfd"/><stop offset="0.594" stop-color="#fffefe"/><stop offset="0.629" stop-color="#ffffff"/><stop offset="0.999" stop-color="#ffffff"/></linearGradient><linearGradient id="g75"><stop offset="0.001" stop-color="#ffffff"/><stop offset="0.106" stop-color="#ffffff"/><stop offset="0.141" stop-color="#fffefe"/><stop offset="0.176" stop-color="#fffdfd"/><stop offset="0.210" stop-color="#fffdfd"/><stop offset="0.245" stop-color="#fffefe"/><stop offset="0.280" stop-color="#ffffff"/><stop offset="0.455" stop-color="#ffffff"/><stop offset="0.490" stop-color="#fefeff"/><stop offset="0.524" stop-color="#fdfdff"/><stop offset="0.999" stop-color="#fdfdff"/></linearGradient><linearGradient id="g76"><stop offset="0.001" stop-color="#ffffff"/><stop offset="0.106" stop-color="#ffffff"/><stop offset="0.141" stop-color="#fffcfc"/><stop offset="0.176" stop-color="#fff7f7"/><stop offset="0.210" stop-color="#fff7f7"/><stop offset="0.245" stop-color="#fffcfc"/><stop offset="0.280" stop-color="#ffffff"/><stop offset="0.455" stop-color="#ffffff"/><stop offset="0.490" stop-color="#fcfcff"/><stop offset="0.524" stop-color="#f8f8ff"/><stop offset="0.559" stop-color="#f7f7ff"/><stop offset="0.999" stop-color="#f7f7ff"/></linearGradient><linearGradient id="g77"><stop offset="0.001" stop-color="#ffffff"/><stop offset="0.106" stop-color="#ffffff"/><stop offset="0.141" stop-color="#fffcfc"/><stop offset="0.176" stop-color="#fff7f7"/><stop offset="0.210" stop-color="#fff7f7"/><stop offset="0.245" stop-color="#fffcfc"/><stop offset="0.280" stop-color="#ffffff"/><stop offset="0.455" stop-color="#ffffff"/><stop offset="0.490" stop-color="#fbfbff"/><stop offset="0.524" stop-color="#f6f6ff"/><stop offset="0.559" stop-color="#f5f5ff"/><stop offset="0.999" stop-color="#f5f5ff"/></linearGradient><linearGradient id="g78"><stop offset="0.001" stop-color="#ffffff"/><stop offset="0.141" stop-color="#ffffff"/><stop offset="0.176" stop-color="#fffdfd"/><stop offset="0.210" stop-color="#fffdfd"/><stop offset="0.245" stop-color="#ffffff"/><stop offset="0.420" stop-color="#ffffff"/><stop offset="0.455" stop-color="#fefeff"/><stop offset="0.490" stop-color="#fbfbff"/><stop offset="0.524" stop-color="#f6f6ff"/><stop offset="0.559" stop-color="#f5f5ff"/><stop offset="0.804" stop-color="#f5f5ff"/><stop offset="0.838" stop-color="#f3f3ff"/><stop offset="0.873" stop-color="#f2f2ff"/><stop offset="0.999" stop-color="#f2f2ff"/></linearGradient><linearGradient id="g79"><stop offset="0.001" stop-color="#f8f8ff"/><stop offset="0.036" stop-color="#f8f8ff"/><stop offset="0.071" stop-color="#f7f7ff"/><stop offset="0.106" stop-color="#f6f6ff"/><stop offset="0.141" stop-color="#f6f6ff"/><stop offset="0.176" stop-color="#f8f8ff"/><stop offset="0.455" stop-color="#f8f8ff"/><stop offset="0.490" stop-color="#f6f6ff"/><stop offset="0.524" stop-color="#f5f5ff"/><stop offset="0.559" stop-color="#f7f7ff"/><stop offset="0.769" stop-color="#f7f7ff"/><stop offset="0.804" stop-color="#f6f6ff"/><stop offset="0.838" stop-color="#f5f5ff"/><stop offset="0.873" stop-color="#f3f3ff"/><stop offset="0.999" stop-color="#f3f3ff"/></linearGradient><linearGradient id="g80"><stop offset="0.001" stop-color="#ededff"/><stop offset="0.036" stop-color="#ececff"/><stop offset="0.071" stop-color="#e8e8ff"/><stop offset="0.106" stop-color="#e4e4ff"/><stop offset="0.141" stop-color="#e7e7ff"/><stop offset="0.176" stop-color="#ebebff"/><stop offset="0.210" stop-color="#ededff"/><stop offset="0.455" stop-color="#ededff"/><stop offset="0.490" stop-color="#eeeeff"/><stop offset="0.524" stop-color="#f6f6ff"/><stop offset="0.559" stop-color="#fcfcff"/><stop offset="0.594" stop-color="#fdfdff"/><stop offset="0.804" stop-color="#fdfdff"/><stop offset="0.838" stop-color="#fcfcff"/><stop offset="0.999" stop-color="#fcfcff"/></linearGradient><linearGradient id="g81"><stop offset="0.001" stop-color="#ebebff"/><stop offset="0.036" stop-color="#eaeaff"/><stop offset="0.071" stop-color="#e4e4ff"/><stop offset="0.106" stop-color="#ddddff"/><stop offset="0.141" stop-color="#dedeff"/><stop offset="0.176" stop-color="#e3e3ff"/><stop offset="0.210" stop-color="#e6e6ff"/><stop offset="0.245" stop-color="#e7e7ff"/><stop offset="0.315" stop-color="#e7e7ff"/><stop offset="0.350" stop-color="#e9e9ff"/><stop offset="0.385" stop-color="#eaeaff"/><stop offset="0.455" stop-color="#eaeaff"/><stop offset="0.490" stop-color="#ececff"/><stop offset="0.524" stop-color="#f6f6ff"/><stop offset="0.559" stop-color="#fefeff"/><stop offset="0.594" stop-color="#ffffff"/><stop offset="0.999" stop-color="#ffffff"/></linearGradient><linearGradient id="g82"><stop offset="0.001" stop-color="#ebebff"/><stop offset="0.036" stop-color="#eaeaff"/><stop offset="0.071" stop-color="#dfdfff"/><stop offset="0.106" stop-color="#c9c9ff"/><stop offset="0.141" stop-color="#bdbdff"/><stop offset="0.176" stop-color="#b8b8ff"/><stop offset="0.210" stop-color="#bebeff"/><stop offset="0.245" stop-color="#c7c7ff"/><stop offset="0.280" stop-color="#c8c8ff"/><stop offset="0.315" stop-color="#cbcbff"/><stop offset="0.350" stop-color="#d9d9ff"/><stop offset="0.385" stop-color="#e4e4ff"/><stop offset="0.420" stop-color="#e5e5ff"/><stop offset="0.455" stop-color="#e6e6ff"/><stop offset="0.490" stop-color="#e8e8ff"/><stop offset="0.524" stop-color="#f4f4ff"/><stop offset="0.559" stop-color="#fefeff"/><stop offset="0.594" stop-color="#ffffff"/><stop offset="0.999" stop-color="#ffffff"/></linearGradient><linearGradient id="g83"><stop offset="0.001" stop-color="#ebebff"/><stop offset="0.036" stop-color="#eaeaff"/><stop offset="0.071" stop-color="#d9d9ff"/><stop offset="0.106" stop-color="#b5b5ff"/><stop offset="0.141" stop-color="#9e9eff"/><stop offset="0.176" stop-color="#8f8fff"/><stop offset="0.210" stop-color="#9999ff"/><stop offset="0.245" stop-color="#a7a7ff"/><stop offset="0.280" stop-color="#a9a9ff"/><stop offset="0.315" stop-color="#adadff"/><stop offset="0.350" stop-color="#c7c7ff"/><stop offset="0.385" stop-color="#dcdcff"/><stop offset="0.420" stop-color="#dedeff"/><stop offset="0.455" stop-color="#dedeff"/><stop offset="0.490" stop-color="#e1e1ff"/><stop offset="0.524" stop-color="#efefff"/><stop offset="0.559" stop-color="#fcfcff"/><stop offset="0.594" stop-color="#fefeff"/><stop offset="0.629" stop-color="#fefeff"/><stop offset="0.664" stop-color="#fdfdff"/><stop offset="0.769" stop-color="#fdfdff"/><stop offset="0.804" stop-color="#fefeff"/><stop offset="0.838" stop-color="#ffffff"/><stop offset="0.999" stop-color="#ffffff"/></linearGradient><linearGradient id="g84"><stop offset="0.001" stop-color="#ebebff"/><stop offset="0.036" stop-color="#e9e9ff"/><stop offset="0.071" stop-color="#d4d4ff"/><stop offset="0.106" stop-color="#b5b5ff"/><stop offset="0.141" stop-color="#a6a6ff"/><stop offset="0.176" stop-color="#9c9cff"/><stop offset="0.210" stop-color="#9292ff"/><stop offset="0.245" stop-color="#8080ff"/><stop offset="0.280" stop-color="#7a7aff"/><stop offset="0.315" stop-color="#8a8aff"/><stop offset="0.350" stop-color="#adadff"/><stop offset="0.385" stop-color="#c5c5ff"/><stop offset="0.420" stop-color="#c9c9ff"/><stop offset="0.455" stop-color="#c9c9ff"/><stop offset="0.490" stop-color="#cbcbff"/><stop offset="0.524" stop-color="#d7d7ff"/><stop offset="0.559" stop-color="#ececff"/><stop offset="0.594" stop-color="#f8f8ff"/><stop offset="0.629" stop-color="#f8f8ff"/><stop offset="0.664" stop-color="#f7f7ff"/><stop offset="0.734" stop-color="#f7f7ff"/><stop offset="0.769" stop-color="#f8f8ff"/><stop offset="0.804" stop-color="#fcfcff"/><stop offset="0.838" stop-color="#ffffff"/><stop offset="0.999" stop-color="#ffffff"/></linearGradient><linearGradient id="g85"><stop offset="0.001" stop-color="#ebebff"/><stop offset="0.036" stop-color="#e7e7ff"/><stop offset="0.071" stop-color="#d1d1ff"/><stop offset="0.106" stop-color="#b7b7ff"/><stop offset="0.141" stop-color="#b1b1ff"/><stop offset="0.176" stop-color="#acacff"/><stop offset="0.210" stop-color="#7979ff"/><stop offset="0.245" stop-color="#2b2bff"/><stop offset="0.280" stop-color="#2121ff"/><stop offset="0.315" stop-color="#5858ff"/><stop offset="0.350" stop-color="#9494ff"/><stop offset="0.385" stop-color="#b0b0ff"/><stop offset="0.420" stop-color="#b5b5ff"/><stop offset="0.455" stop-color="#b5b5ff"/><stop offset="0.490" stop-color="#b6b6ff"/><stop offset="0.524" stop-color="#bfbfff"/><stop offset="0.559" stop-color="#ddddff"/><stop offset="0.594" stop-color="#f1f1ff"/><stop offset="0.629" stop-color="#f3f3ff"/><stop offset="0.664" stop-color="#f5f5ff"/><stop offset="0.699" stop-color="#f8f8ff"/><stop offset="0.734" stop-color="#f8f8ff"/><stop offset="0.769" stop-color="#f9f9ff"/><stop offset="0.804" stop-color="#ffffff"/><stop offset="0.838" stop-color="#fffbfb"/><stop offset="0.999" stop-color="#fffbfb"/></linearGradient><linearGradient id="g86"><stop offset="0.001" stop-color="#eaeaff"/><stop offset="0.036" stop-color="#e7e7ff"/><stop offset="0.071" stop-color="#d0d0ff"/><stop offset="0.106" stop-color="#b8b8ff"/><stop offset="0.141" stop-color="#b3b3ff"/><stop offset="0.176" stop-color="#aeaeff"/><stop offset="0.210" stop-color="#7070ff"/><stop offset="0.245" stop-color="#1414ff"/><stop offset="0.280" stop-color="#0c0cff"/><stop offset="0.315" stop-color="#5151ff"/><stop offset="0.350" stop-color="#9393ff"/><stop offset="0.385" stop-color="#afafff"/><stop offset="0.420" stop-color="#b4b4ff"/><stop offset="0.490" stop-color="#b4b4ff"/><stop offset="0.524" stop-color="#bdbdff"/><stop offset="0.559" stop-color="#dcdcff"/><stop offset="0.594" stop-color="#f1f1ff"/><stop offset="0.629" stop-color="#f4f4ff"/><stop offset="0.664" stop-color="#f9f9ff"/><stop offset="0.699" stop-color="#fdfdff"/><stop offset="0.734" stop-color="#fefeff"/><stop offset="0.769" stop-color="#fffefe"/><stop offset="0.804" stop-color="#fff6f6"/><stop offset="0.838" stop-color="#fff0f0"/><stop offset="0.873" stop-color="#ffefef"/><stop offset="0.999" stop-color="#ffefef"/></linearGradient><linearGradient id="g87"><stop offset="0.001" stop-color="#e8e8ff"/><stop offset="0.036" stop-color="#e5e5ff"/><stop offset="0.071" stop-color="#d2d2ff"/><stop offset="0.106" stop-color="#bdbdff"/><stop offset="0.141" stop-color="#b9b9ff"/><stop offset="0.176" stop-color="#b4b4ff"/><stop offset="0.210" stop-color="#7979ff"/><stop offset="0.245" stop-color="#2121ff"/><stop offset="0.280" stop-color="#2929ff"/><stop offset="0.315" stop-color="#6f6fff"/><stop offset="0.350" stop-color="#a5a5ff"/><stop offset="0.385" stop-color="#bcbcff"/><stop offset="0.420" stop-color="#bfbfff"/><stop offset="0.490" stop-color="#bfbfff"/><stop offset="0.524" stop-color="#c7c7ff"/><stop offset="0.559" stop-color="#e1e1ff"/><stop offset="0.594" stop-color="#f2f2ff"/><stop offset="0.629" stop-color="#f7f7ff"/><stop offset="0.664" stop-color="#fcfcff"/><stop offset="0.699" stop-color="#ffffff"/><stop offset="0.734" stop-color="#fffefe"/><stop offset="0.769" stop-color="#fffcfc"/><stop offset="0.804" stop-color="#fff2f2"/><stop offset="0.838" stop-color="#ffeaea"/><stop offset="0.873" stop-color="#ffe7e7"/><stop offset="0.908" stop-color="#ffe6e6"/><stop offset="0.999" stop-color="#ffe6e6"/></linearGradient><linearGradient id="g88"><stop offset="0.001" stop-color="#e5e5ff"/><stop offset="0.036" stop-color="#e3e3ff"/><stop offset="0.071" stop-color="#d3d3ff"/><stop offset="0.106" stop-color="#c2c2ff"/><stop offset="0.141" stop-color="#bfbfff"/><stop offset="0.176" stop-color="#bdbdff"/><stop offset="0.210" stop-color="#9b9bff"/><stop offset="0.245" stop-color="#6464ff"/><stop offset="0.280" stop-color="#7878ff"/><stop offset="0.315" stop-color="#a0a0ff"/><stop offset="0.350" stop-color="#bbbbff"/><stop offset="0.385" stop-color="#cacaff"/><stop offset="0.420" stop-color="#ccccff"/><stop offset="0.490" stop-color="#ccccff"/><stop offset="0.524" stop-color="#d2d2ff"/><stop offset="0.559" stop-color="#e6e6ff"/><stop offset="0.594" stop-color="#f4f4ff"/><stop offset="0.629" stop-color="#fbfbff"/><stop offset="0.664" stop-color="#ffffff"/><stop offset="0.699" stop-color="#fffbfb"/><stop offset="0.734" stop-color="#fff7f7"/><stop offset="0.769" stop-color="#fff5f5"/><stop offset="0.804" stop-color="#ffebeb"/><stop offset="0.838" stop-color="#ffe3e3"/><stop offset="0.873" stop-color="#ffdddd"/><stop offset="0.908" stop-color="#ffd9d9"/><stop offset="0.999" stop-color="#ffd9d9"/></linearGradient><linearGradient id="g89"><stop offset="0.001" stop-color="#e3e3ff"/><stop offset="0.036" stop-color="#dfdfff"/><stop offset="0.071" stop-color="#d2d2ff"/><stop offset="0.106" stop-color="#c7c7ff"/><stop offset="0.141" stop-color="#c6c6ff"/><stop offset="0.176" stop-color="#c5c5ff"/><stop offset="0.210" stop-color="#b7b7ff"/><stop offset="0.245" stop-color="#9e9eff"/><stop offset="0.280" stop-color="#a9a9ff"/><stop offset="0.315" stop-color="#bbbbff"/><stop offset="0.350" stop-color="#cbcbff"/><stop offset="0.385" stop-color="#d7d7ff"/><stop offset="0.420" stop-color="#d9d9ff"/><stop offset="0.490" stop-color="#d9d9ff"/><stop offset="0.524" stop-color="#dcdcff"/><stop offset="0.559" stop-color="#e7e7ff"/><stop offset="0.594" stop-color="#f5f5ff"/><stop offset="0.629" stop-color="#fdfdff"/><stop offset="0.664" stop-color="#fffbfb"/><stop offset="0.699" stop-color="#fff3f3"/><stop offset="0.734" stop-color="#ffeded"/><stop offset="0.769" stop-color="#ffeaea"/><stop offset="0.804" stop-color="#ffe3e3"/><stop offset="0.838" stop-color="#ffdcdc"/><stop offset="0.873" stop-color="#ffd7d7"/><stop offset="0.908" stop-color="#ffd4d4"/><stop offset="0.999" stop-color="#ffd4d4"/></linearGradient><linearGradient id="g90"><stop offset="0.001" stop-color="#e0e0ff"/><stop offset="0.036" stop-color="#dbdbff"/><stop offset="0.071" stop-color="#d0d0ff"/><stop offset="0.106" stop-color="#cbcbff"/><stop offset="0.176" stop-color="#cbcbff"/><stop offset="0.210" stop-color="#c9c9ff"/><stop offset="0.245" stop-color="#c7c7ff"/><stop offset="0.280" stop-color="#c8c8ff"/><stop offset="0.315" stop-color="#ccccff"/><stop offset="0.350" stop-color="#d9d9ff"/><stop offset="0.385" stop-color="#e3e3ff"/><stop offset="0.420" stop-color="#e4e4ff"/><stop offset="0.524" stop-color="#e4e4ff"/><stop offset="0.559" stop-color="#e8e8ff"/><stop offset="0.594" stop-color="#f4f4ff"/><stop offset="0.629" stop-color="#ffffff"/><stop offset="0.664" stop-color="#fff8f8"/><stop offset="0.699" stop-color="#ffeeee"/><stop offset="0.734" stop-color="#ffe7e7"/><stop offset="0.769" stop-color="#ffe5e5"/><stop offset="0.804" stop-color="#ffe0e0"/><stop offset="0.838" stop-color="#ffdbdb"/><stop offset="0.873" stop-color="#ffd7d7"/><stop offset="0.908" stop-color="#ffd4d4"/><stop offset="0.999" stop-color="#ffd4d4"/></linearGradient><linearGradient id="g91"><stop offset="0.001" stop-color="#dedeff"/><stop offset="0.036" stop-color="#dadaff"/><stop offset="0.071" stop-color="#d0d0ff"/><stop offset="0.106" stop-color="#cacaff"/><stop offset="0.141" stop-color="#c9c9ff"/><stop offset="0.176" stop-color="#c9c9ff"/><stop offset="0.210" stop-color="#c7c7ff"/><stop offset="0.245" stop-color="#c6c6ff"/><stop offset="0.280" stop-color="#c6c6ff"/><stop offset="0.315" stop-color="#c9c9ff"/><stop offset="0.350" stop-color="#d4d4ff"/><stop offset="0.385" stop-color="#dbdbff"/><stop offset="0.420" stop-color="#dbdbff"/><stop offset="0.455" stop-color="#dadaff"/><stop offset="0.524" stop-color="#dadaff"/><stop offset="0.559" stop-color="#ddddff"/><stop offset="0.594" stop-color="#e8e8ff"/><stop offset="0.629" stop-color="#f7f7ff"/><stop offset="0.664" stop-color="#fffbfb"/><stop offset="0.699" stop-color="#fff1f1"/><stop offset="0.734" stop-color="#ffe9e9"/><stop offset="0.769" stop-color="#ffe7e7"/><stop offset="0.804" stop-color="#ffe1e1"/><stop offset="0.838" stop-color="#ffdbdb"/><stop offset="0.873" stop-color="#ffd7d7"/><stop offset="0.908" stop-color="#ffd4d4"/><stop offset="0.999" stop-color="#ffd4d4"/></linearGradient><linearGradient id="g92"><stop offset="0.001" stop-color="#dadaff"/><stop offset="0.036" stop-color="#d9d9ff"/><stop offset="0.071" stop-color="#d1d1ff"/><stop offset="0.106" stop-color="#c6c6ff"/><stop offset="0.141" stop-color="#c2c2ff"/><stop offset="0.176" stop-color="#c0c0ff"/><stop offset="0.210" stop-color="#bbbbff"/><stop offset="0.245" stop-color="#b8b8ff"/><stop offset="0.280" stop-color="#b8b8ff"/><stop offset="0.315" stop-color="#babaff"/><stop offset="0.350" stop-color="#c1c1ff"/><stop offset="0.385" stop-color="#c4c4ff"/><stop offset="0.420" stop-color="#c0c0ff"/><stop offset="0.455" stop-color="#bebeff"/><stop offset="0.559" stop-color="#bebeff"/><stop offset="0.594" stop-color="#c6c6ff"/><stop offset="0.629" stop-color="#e1e1ff"/><stop offset="0.664" stop-color="#f8f8ff"/><stop offset="0.699" stop-color="#fff9f9"/><stop offset="0.734" stop-color="#fff2f2"/><stop offset="0.769" stop-color="#ffefef"/><stop offset="0.804" stop-color="#ffe6e6"/><stop offset="0.838" stop-color="#ffdede"/><stop offset="0.873" stop-color="#ffd8d8"/><stop offset="0.908" stop-color="#ffd4d4"/><stop offset="0.999" stop-color="#ffd4d4"/></linearGradient><linearGradient id="g93"><stop offset="0.001" stop-color="#d9d9ff"/><stop offset="0.036" stop-color="#d8d8ff"/><stop offset="0.071" stop-color="#d1d1ff"/><stop offset="0.106" stop-color="#c4c4ff"/><stop offset="0.141" stop-color="#c0c0ff"/><stop offset="0.176" stop-color="#bdbdff"/><stop offset="0.210" stop-color="#b7b7ff"/><stop offset="0.245" stop-color="#b3b3ff"/><stop offset="0.280" stop-color="#b3b3ff"/><stop offset="0.315" stop-color="#b4b4ff"/><stop offset="0.350" stop-color="#babaff"/><stop offset="0.385" stop-color="#bcbcff"/><stop offset="0.420" stop-color="#b6b6ff"/><stop offset="0.455" stop-color="#b3b3ff"/><stop offset="0.524" stop-color="#b3b3ff"/><stop offset="0.559" stop-color="#b4b4ff"/><stop offset="0.594" stop-color="#babaff"/><stop offset="0.629" stop-color="#d9d9ff"/><stop offset="0.664" stop-color="#f4f4ff"/><stop offset="0.699" stop-color="#fefeff"/><stop offset="0.734" stop-color="#fffcfc"/><stop offset="0.769" stop-color="#fff9f9"/><stop offset="0.804" stop-color="#fff0f0"/><stop offset="0.838" stop-color="#ffe7e7"/><stop offset="0.873" stop-color="#ffdfdf"/><stop offset="0.908" stop-color="#ffd9d9"/><stop offset="0.999" stop-color="#ffd9d9"/></linearGradient><linearGradient id="g94"><stop offset="0.001" stop-color="#dedeff"/><stop offset="0.036" stop-color="#dedeff"/><stop offset="0.071" stop-color="#d6d6ff"/><stop offset="0.106" stop-color="#c8c8ff"/><stop offset="0.141" stop-color="#c2c2ff"/><stop offset="0.176" stop-color="#bebeff"/><stop offset="0.210" stop-color="#b4b4ff"/><stop offset="0.245" stop-color="#b0b0ff"/><stop offset="0.280" stop-color="#b0b0ff"/><stop offset="0.315" stop-color="#b2b2ff"/><stop offset="0.350" stop-color="#bdbdff"/><stop offset="0.385" stop-color="#c3c3ff"/><stop offset="0.420" stop-color="#bfbfff"/><stop offset="0.455" stop-color="#bdbdff"/><stop offset="0.490" stop-color="#bdbdff"/><stop offset="0.524" stop-color="#bebeff"/><stop offset="0.559" stop-color="#c2c2ff"/><stop offset="0.594" stop-color="#c8c8ff"/><stop offset="0.629" stop-color="#e0e0ff"/><stop offset="0.664" stop-color="#f6f6ff"/><stop offset="0.699" stop-color="#fdfdff"/><stop offset="0.734" stop-color="#ffffff"/><stop offset="0.769" stop-color="#fffdfd"/><stop offset="0.804" stop-color="#fff4f4"/><stop offset="0.838" stop-color="#ffecec"/><stop offset="0.873" stop-color="#ffe9e9"/><stop offset="0.908" stop-color="#ffe7e7"/><stop offset="0.999" stop-color="#ffe7e7"/></linearGradient><linearGradient id="g95"><stop offset="0.001" stop-color="#ededff"/><stop offset="0.036" stop-color="#ececff"/><stop offset="0.071" stop-color="#e5e5ff"/><stop offset="0.106" stop-color="#d2d2ff"/><stop offset="0.141" stop-color="#c9c9ff"/><stop offset="0.176" stop-color="#c0c0ff"/><stop offset="0.210" stop-color="#b0b0ff"/><stop offset="0.245" stop-color="#ababff"/><stop offset="0.280" stop-color="#ababff"/><stop offset="0.315" stop-color="#b0b0ff"/><stop offset="0.350" stop-color="#c6c6ff"/><stop offset="0.385" stop-color="#d6d6ff"/><stop offset="0.420" stop-color="#d7d7ff"/><stop offset="0.455" stop-color="#d6d6ff"/><stop offset="0.490" stop-color="#d7d7ff"/><stop offset="0.524" stop-color="#dedeff"/><stop offset="0.559" stop-color="#eaeaff"/><stop offset="0.594" stop-color="#f0f0ff"/><stop offset="0.629" stop-color="#f7f7ff"/><stop offset="0.664" stop-color="#fcfcff"/><stop offset="0.699" stop-color="#ffffff"/><stop offset="0.734" stop-color="#ffffff"/><stop offset="0.769" stop-color="#fffefe"/><stop offset="0.804" stop-color="#fff9f9"/><stop offset="0.838" stop-color="#fff5f5"/><stop offset="0.999" stop-color="#fff5f5"/></linearGradient><linearGradient id="g96"><stop offset="0.001" stop-color="#f2f2ff"/><stop offset="0.036" stop-color="#f2f2ff"/><stop offset="0.071" stop-color="#eaeaff"/><stop offset="0.106" stop-color="#d6d6ff"/><stop offset="0.141" stop-color="#ccccff"/><stop offset="0.176" stop-color="#c6c6ff"/><stop offset="0.210" stop-color="#bcbcff"/><stop offset="0.245" stop-color="#b9b9ff"/><stop offset="0.280" stop-color="#b9b9ff"/><stop offset="0.315" stop-color="#bdbdff"/><stop offset="0.350" stop-color="#d0d0ff"/><stop offset="0.385" stop-color="#dedeff"/><stop offset="0.420" stop-color="#e0e0ff"/><stop offset="0.455" stop-color="#e0e0ff"/><stop offset="0.490" stop-color="#e1e1ff"/><stop offset="0.524" stop-color="#e9e9ff"/><stop offset="0.559" stop-color="#f9f9ff"/><stop offset="0.594" stop-color="#fefeff"/><stop offset="0.629" stop-color="#ffffff"/><stop offset="0.769" stop-color="#ffffff"/><stop offset="0.804" stop-color="#fffefe"/><stop offset="0.999" stop-color="#fffefe"/></linearGradient><linearGradient id="g97"><stop offset="0.001" stop-color="#f3f3ff"/><stop offset="0.036" stop-color="#f3f3ff"/><stop offset="0.071" stop-color="#ebebff"/><stop offset="0.106" stop-color="#d7d7ff"/><stop offset="0.141" stop-color="#ceceff"/><stop offset="0.176" stop-color="#ccccff"/><stop offset="0.210" stop-color="#cbcbff"/><stop offset="0.280" stop-color="#cbcbff"/><stop offset="0.315" stop-color="#cdcdff"/><stop offset="0.350" stop-color="#d8d8ff"/><stop offset="0.385" stop-color="#e0e0ff"/><stop offset="0.420" stop-color="#e1e1ff"/><stop offset="0.455" stop-color="#e2e2ff"/><stop offset="0.490" stop-color="#e3e3ff"/><stop offset="0.524" stop-color="#ebebff"/><stop offset="0.559" stop-color="#fafaff"/><stop offset="0.594" stop-color="#ffffff"/><stop offset="0.664" stop-color="#ffffff"/><stop offset="0.699" stop-color="#fffefe"/><stop offset="0.734" stop-color="#fffcfc"/><stop offset="0.999" stop-color="#fffcfc"/></linearGradient><linearGradient id="g98"><stop offset="0.001" stop-color="#f9f9ff"/><stop offset="0.036" stop-color="#f8f8ff"/><stop offset="0.071" stop-color="#f1f1ff"/><stop offset="0.106" stop-color="#dfdfff"/><stop offset="0.141" stop-color="#d7d7ff"/><stop offset="0.176" stop-color="#d6d6ff"/><stop offset="0.280" stop-color="#d6d6ff"/><stop offset="0.315" stop-color="#d8d8ff"/><stop offset="0.350" stop-color="#dfdfff"/><stop offset="0.385" stop-color="#e5e5ff"/><stop offset="0.420" stop-color="#e7e7ff"/><stop offset="0.455" stop-color="#ebebff"/><stop offset="0.490" stop-color="#f0f0ff"/><stop offset="0.524" stop-color="#f4f4ff"/><stop offset="0.559" stop-color="#fcfcff"/><stop offset="0.594" stop-color="#ffffff"/><stop offset="0.629" stop-color="#ffffff"/><stop offset="0.664" stop-color="#fffefe"/><stop offset="0.699" stop-color="#fffafa"/><stop offset="0.734" stop-color="#fff6f6"/><stop offset="0.769" stop-color="#fff5f5"/><stop offset="0.838" stop-color="#fff5f5"/><stop offset="0.873" stop-color="#fff4f4"/><stop offset="0.908" stop-color="#fff3f3"/><stop offset="0.999" stop-color="#fff3f3"/></linearGradient><linearGradient id="g99"><stop offset="0.001" stop-color="#fefeff"/><stop offset="0.036" stop-color="#fefeff"/><stop offset="0.071" stop-color="#f8f8ff"/><stop offset="0.106" stop-color="#e7e7ff"/><stop offset="0.141" stop-color="#e0e0ff"/><stop offset="0.176" stop-color="#dfdfff"/><stop offset="0.280" stop-color="#dfdfff"/><stop offset="0.315" stop-color="#e0e0ff"/><stop offset="0.350" stop-color="#e6e6ff"/><stop offset="0.385" stop-color="#eaeaff"/><stop offset="0.420" stop-color="#ececff"/><stop offset="0.455" stop-color="#f5f5ff"/><stop offset="0.490" stop-color="#fcfcff"/><stop offset="0.524" stop-color="#fefeff"/><stop offset="0.559" stop-color="#ffffff"/><stop offset="0.594" stop-color="#ffffff"/><stop offset="0.629" stop-color="#fffefe"/><stop offset="0.664" stop-color="#fffcfc"/><stop offset="0.699" stop-color="#fff8f8"/><stop offset="0.734" stop-color="#fff3f3"/><stop offset="0.769" stop-color="#fff2f2"/><stop offset="0.838" stop-color="#fff2f2"/><stop offset="0.873" stop-color="#ffefef"/><stop offset="0.908" stop-color="#ffeded"/><stop offset="0.943" stop-color="#ffecec"/><stop offset="0.999" stop-color="#ffecec"/></linearGradient><linearGradient id="g100"><stop offset="0.001" stop-color="#ffffff"/><stop offset="0.036" stop-color="#ffffff"/><stop offset="0.071" stop-color="#f8f8ff"/><stop offset="0.106" stop-color="#e9e9ff"/><stop offset="0.141" stop-color="#e1e1ff"/><stop offset="0.210" stop-color="#e1e1ff"/><stop offset="0.245" stop-color="#e2e2ff"/><stop offset="0.315" stop-color="#e2e2ff"/><stop offset="0.350" stop-color="#e7e7ff"/><stop offset="0.385" stop-color="#ebebff"/><stop offset="0.420" stop-color="#eeeeff"/><stop offset="0.455" stop-color="#f7f7ff"/><stop offset="0.490" stop-color="#fefeff"/><stop offset="0.524" stop-color="#ffffff"/><stop offset="0.559" stop-color="#ffffff"/><stop offset="0.594" stop-color="#fffdfd"/><stop offset="0.629" stop-color="#fffafa"/><stop offset="0.664" stop-color="#fff6f6"/><stop offset="0.699" stop-color="#fff4f4"/><stop offset="0.734" stop-color="#fff2f2"/><stop offset="0.804" stop-color="#fff2f2"/><stop offset="0.838" stop-color="#fff1f1"/><stop offset="0.873" stop-color="#ffeeee"/><stop offset="0.908" stop-color="#ffebeb"/><stop offset="0.999" stop-color="#ffebeb"/></linearGradient><linearGradient id="g101"><stop offset="0.001" stop-color="#ffffff"/><stop offset="0.036" stop-color="#ffffff"/><stop offset="0.071" stop-color="#f9f9ff"/><stop offset="0.106" stop-color="#eaeaff"/><stop offset="0.141" stop-color="#e3e3ff"/><stop offset="0.176" stop-color="#e3e3ff"/><stop offset="0.210" stop-color="#e1e1ff"/><stop offset="0.245" stop-color="#e0e0ff"/><stop offset="0.280" stop-color="#e1e1ff"/><stop offset="0.315" stop-color="#e5e5ff"/><stop offset="0.350" stop-color="#eaeaff"/><stop offset="0.385" stop-color="#f0f0ff"/><stop offset="0.420" stop-color="#f5f5ff"/><stop offset="0.455" stop-color="#fbfbff"/><stop offset="0.490" stop-color="#ffffff"/><stop offset="0.559" stop-color="#ffffff"/><stop offset="0.594" stop-color="#fffbfb"/><stop offset="0.629" stop-color="#fff6f6"/><stop offset="0.664" stop-color="#fff3f3"/><stop offset="0.699" stop-color="#fff2f2"/><stop offset="0.804" stop-color="#fff2f2"/><stop offset="0.838" stop-color="#fff1f1"/><stop offset="0.873" stop-color="#ffeeee"/><stop offset="0.908" stop-color="#ffebeb"/><stop offset="0.999" stop-color="#ffebeb"/></linearGradient><linearGradient id="g102"><stop offset="0.001" stop-color="#ffffff"/><stop offset="0.036" stop-color="#ffffff"/><stop offset="0.071" stop-color="#f9f9ff"/><stop offset="0.106" stop-color="#ececff"/><stop offset="0.141" stop-color="#e6e6ff"/><stop offset="0.176" stop-color="#e1e1ff"/><stop offset="0.210" stop-color="#c7c7ff"/><stop offset="0.245" stop-color="#ababff"/><stop offset="0.280" stop-color="#b6b6ff"/><stop offset="0.315" stop-color="#dbdbff"/><stop offset="0.350" stop-color="#ececff"/><stop offset="0.385" stop-color="#f6f6ff"/><stop offset="0.420" stop-color="#fdfdff"/><stop offset="0.455" stop-color="#ffffff"/><stop offset="0.559" stop-color="#ffffff"/><stop offset="0.594" stop-color="#fffbfb"/><stop offset="0.629" stop-color="#fff5f5"/><stop offset="0.664" stop-color="#fff3f3"/><stop offset="0.699" stop-color="#fff2f2"/><stop offset="0.804" stop-color="#fff2f2"/><stop offset="0.838" stop-color="#fff1f1"/><stop offset="0.873" stop-color="#ffeeee"/><stop offset="0.908" stop-color="#ffebeb"/><stop offset="0.999" stop-color="#ffebeb"/></linearGradient><linearGradient id="g103"><stop offset="0.001" stop-color="#ffffff"/><stop offset="0.036" stop-color="#ffffff"/><stop offset="0.071" stop-color="#fafaff"/><stop offset="0.106" stop-color="#ededff"/><stop offset="0.141" stop-color="#e7e7ff"/><stop offset="0.176" stop-color="#e3e3ff"/><stop offset="0.210" stop-color="#c8c8ff"/><stop offset="0.245" stop-color="#acacff"/><stop offset="0.280" stop-color="#b8b8ff"/><stop offset="0.315" stop-color="#ddddff"/><stop offset="0.350" stop-color="#ededff"/><stop offset="0.385" stop-color="#f7f7ff"/><stop offset="0.420" stop-color="#fefeff"/><stop offset="0.455" stop-color="#ffffff"/><stop offset="0.559" stop-color="#ffffff"/><stop offset="0.594" stop-color="#fffbfb"/><stop offset="0.629" stop-color="#fff6f6"/><stop offset="0.664" stop-color="#fff3f3"/><stop offset="0.699" stop-color="#fff2f2"/><stop offset="0.838" stop-color="#fff2f2"/><stop offset="0.873" stop-color="#ffefef"/><stop offset="0.908" stop-color="#ffeded"/><stop offset="0.943" stop-color="#ffecec"/><stop offset="0.999" stop-color="#ffecec"/></linearGradient><linearGradient id="g104"><stop offset="0.001" stop-color="#ffffff"/><stop offset="0.036" stop-color="#ffffff"/><stop offset="0.071" stop-color="#fcfcff"/><stop offset="0.106" stop-color="#f6f6ff"/><stop offset="0.141" stop-color="#f2f2ff"/><stop offset="0.176" stop-color="#f2f2ff"/><stop offset="0.210" stop-color="#f1f1ff"/><stop offset="0.245" stop-color="#efefff"/><stop offset="0.280" stop-color="#f1f1ff"/><stop offset="0.315" stop-color="#f4f4ff"/><stop offset="0.350" stop-color="#f6f6ff"/><stop offset="0.385" stop-color="#fbfbff"/><stop offset="0.420" stop-color="#ffffff"/><stop offset="0.559" stop-color="#ffffff"/><stop offset="0.594" stop-color="#fffdfd"/><stop offset="0.629" stop-color="#fffafa"/><stop offset="0.664" stop-color="#fff7f7"/><stop offset="0.699" stop-color="#fff5f5"/><stop offset="0.838" stop-color="#fff5f5"/><stop offset="0.873" stop-color="#fff4f4"/><stop offset="0.908" stop-color="#fff3f3"/><stop offset="0.999" stop-color="#fff3f3"/></linearGradient><linearGradient id="g105"><stop offset="0.001" stop-color="#ffffff"/><stop offset="0.071" stop-color="#ffffff"/><stop offset="0.106" stop-color="#fefeff"/><stop offset="0.210" stop-color="#fefeff"/><stop offset="0.245" stop-color="#ffffff"/><stop offset="0.280" stop-color="#ffffff"/><stop offset="0.315" stop-color="#fefeff"/><stop offset="0.350" stop-color="#fefeff"/><stop offset="0.385" stop-color="#ffffff"/><stop offset="0.594" stop-color="#ffffff"/><stop offset="0.629" stop-color="#fffefe"/><stop offset="0.664" stop-color="#fffdfd"/><stop offset="0.699" stop-color="#fffcfc"/><stop offset="0.999" stop-color="#fffcfc"/></linearGradient><linearGradient id="g106"><stop offset="0.001" stop-color="#fffefe"/><stop offset="0.490" stop-color="#fffefe"/><stop offset="0.524" stop-color="#fffdfd"/><stop offset="0.804" stop-color="#fffdfd"/><stop offset="0.838" stop-color="#fffefe"/><stop offset="0.873" stop-color="#ffffff"/><stop offset="0.999" stop-color="#ffffff"/></linearGradient><linearGradient id="g107"><stop offset="0.001" stop-color="#fffbfb"/><stop offset="0.455" stop-color="#fffbfb"/><stop offset="0.490" stop-color="#fffafa"/><stop offset="0.524" stop-color="#fff9f9"/><stop offset="0.769" stop-color="#fff9f9"/><stop offset="0.804" stop-color="#fffafa"/><stop offset="0.838" stop-color="#fffdfd"/><stop offset="0.873" stop-color="#ffffff"/><stop offset="0.999" stop-color="#ffffff"/></linearGradient><linearGradient id="g108"><stop offset="0.001" stop-color="#fffafa"/><stop offset="0.455" stop-color="#fffafa"/><stop offset="0.490" stop-color="#fff9f9"/><stop offset="0.524" stop-color="#fff8f8"/><stop offset="0.559" stop-color="#fff7f7"/><stop offset="0.769" stop-color="#fff7f7"/><stop offset="0.804" stop-color="#fff8f8"/><stop offset="0.838" stop-color="#fffcfc"/><stop offset="0.873" stop-color="#ffffff"/><stop offset="0.999" stop-color="#ffffff"/></linearGradient><linearGradient id="g109"><stop offset="0.001" stop-color="#fffafa"/><stop offset="0.455" stop-color="#fffafa"/><stop offset="0.490" stop-color="#fff9f9"/><stop offset="0.524" stop-color="#fff8f8"/><stop offset="0.559" stop-color="#fff7f7"/><stop offset="0.769" stop-color="#fff7f7"/><stop offset="0.804" stop-color="#fff8f8"/><stop offset="0.838" stop-color="#fffcfc"/><stop offset="0.873" stop-color="#ffffff"/><stop offset="0.999" stop-color="#ffffff"/></linearGradient><linearGradient id="g110"><stop offset="0.001" stop-color="#fffdfd"/><stop offset="0.071" stop-color="#fffdfd"/><stop offset="0.106" stop-color="#fffcfc"/><stop offset="0.141" stop-color="#fffcfc"/><stop offset="0.176" stop-color="#fffbfb"/><stop offset="0.455" stop-color="#fffbfb"/><stop offset="0.490" stop-color="#fff9f9"/><stop offset="0.524" stop-color="#fff7f7"/><stop offset="0.804" stop-color="#fff7f7"/><stop offset="0.838" stop-color="#fff9f9"/><stop offset="0.873" stop-color="#fffafa"/><stop offset="0.908" stop-color="#fffbfb"/><stop offset="0.999" stop-color="#fffbfb"/></linearGradient><linearGradient id="g111"><stop offset="0.001" stop-color="#fafaff"/><stop offset="0.071" stop-color="#fafaff"/><stop offset="0.106" stop-color="#fbfbff"/><stop offset="0.141" stop-color="#fefeff"/><stop offset="0.176" stop-color="#fffefe"/><stop offset="0.455" stop-color="#fffefe"/><stop offset="0.490" stop-color="#fffbfb"/><stop offset="0.524" stop-color="#fff7f7"/><stop offset="0.559" stop-color="#fff6f6"/><stop offset="0.594" stop-color="#fff5f5"/><stop offset="0.804" stop-color="#fff5f5"/><stop offset="0.838" stop-color="#fff1f1"/><stop offset="0.873" stop-color="#ffefef"/><stop offset="0.999" stop-color="#ffefef"/></linearGradient><linearGradient id="g112"><stop offset="0.001" stop-color="#f8f8ff"/><stop offset="0.036" stop-color="#f8f8ff"/><stop offset="0.071" stop-color="#f7f7ff"/><stop offset="0.106" stop-color="#f8f8ff"/><stop offset="0.141" stop-color="#fcfcff"/><stop offset="0.176" stop-color="#ffffff"/><stop offset="0.455" stop-color="#ffffff"/><stop offset="0.490" stop-color="#fffcfc"/><stop offset="0.524" stop-color="#fff9f9"/><stop offset="0.559" stop-color="#fff8f8"/><stop offset="0.769" stop-color="#fff8f8"/><stop offset="0.804" stop-color="#fff7f7"/><stop offset="0.838" stop-color="#fff3f3"/><stop offset="0.873" stop-color="#fff1f1"/><stop offset="0.908" stop-color="#fff0f0"/><stop offset="0.999" stop-color="#fff0f0"/></linearGradient><linearGradient id="g113"><stop offset="0.001" stop-color="#f9f9ff"/><stop offset="0.036" stop-color="#f9f9ff"/><stop offset="0.071" stop-color="#f8f8ff"/><stop offset="0.106" stop-color="#f8f8ff"/><stop offset="0.141" stop-color="#fbfbff"/><stop offset="0.176" stop-color="#fdfdff"/><stop offset="0.280" stop-color="#fdfdff"/><stop offset="0.315" stop-color="#fefeff"/><stop offset="0.350" stop-color="#ffffff"/><stop offset="0.455" stop-color="#ffffff"/><stop offset="0.490" stop-color="#fefeff"/><stop offset="0.524" stop-color="#fdfdff"/><stop offset="0.769" stop-color="#fdfdff"/><stop offset="0.804" stop-color="#fefeff"/><stop offset="0.838" stop-color="#ffffff"/><stop offset="0.999" stop-color="#ffffff"/></linearGradient><linearGradient id="g114"><stop offset="0.001" stop-color="#fdfdff"/><stop offset="0.036" stop-color="#fdfdff"/><stop offset="0.071" stop-color="#fafaff"/><stop offset="0.106" stop-color="#f8f8ff"/><stop offset="0.141" stop-color="#f8f8ff"/><stop offset="0.176" stop-color="#f9f9ff"/><stop offset="0.280" stop-color="#f9f9ff"/><stop offset="0.315" stop-color="#fbfbff"/><stop offset="0.350" stop-color="#fefeff"/><stop offset="0.385" stop-color="#ffffff"/><stop offset="0.455" stop-color="#ffffff"/><stop offset="0.490" stop-color="#fdfdff"/><stop offset="0.524" stop-color="#fbfbff"/><stop offset="0.559" stop-color="#fafaff"/><stop offset="0.999" stop-color="#fafaff"/></linearGradient><linearGradient id="g115"><stop offset="0.001" stop-color="#ffffff"/><stop offset="0.036" stop-color="#fefeff"/><stop offset="0.071" stop-color="#fbfbff"/><stop offset="0.106" stop-color="#f8f8ff"/><stop offset="0.141" stop-color="#f7f7ff"/><stop offset="0.245" stop-color="#f7f7ff"/><stop offset="0.280" stop-color="#f8f8ff"/><stop offset="0.315" stop-color="#f9f9ff"/><stop offset="0.350" stop-color="#fdfdff"/><stop offset="0.385" stop-color="#ffffff"/><stop offset="0.455" stop-color="#ffffff"/><stop offset="0.490" stop-color="#fdfdff"/><stop offset="0.524" stop-color="#fbfbff"/><stop offset="0.559" stop-color="#fafaff"/><stop offset="0.999" stop-color="#fafaff"/></linearGradient><linearGradient id="g116"><stop offset="0.001" stop-color="#ffffff"/><stop offset="0.036" stop-color="#fefeff"/><stop offset="0.071" stop-color="#fbfbff"/><stop offset="0.106" stop-color="#f8f8ff"/><stop offset="0.141" stop-color="#f7f7ff"/><stop offset="0.280" stop-color="#f7f7ff"/><stop offset="0.315" stop-color="#f9f9ff"/><stop offset="0.350" stop-color="#fdfdff"/><stop offset="0.385" stop-color="#ffffff"/><stop offset="0.455" stop-color="#ffffff"/><stop offset="0.490" stop-color="#fdfdff"/><stop offset="0.524" stop-color="#fbfbff"/><stop offset="0.559" stop-color="#fafaff"/><stop offset="0.999" stop-color="#fafaff"/></linearGradient><linearGradient id="g117"><stop offset="0.001" stop-color="#ffffff"/><stop offset="0.036" stop-color="#fefeff"/><stop offset="0.071" stop-color="#fbfbff"/><stop offset="0.106" stop-color="#f8f8ff"/><stop offset="0.141" stop-color="#f7f7ff"/><stop offset="0.280" stop-color="#f7f7ff"/><stop offset="0.315" stop-color="#f9f9ff"/><stop offset="0.350" stop-color="#fdfdff"/><stop offset="0.385" stop-color="#ffffff"/><stop offset="0.455" stop-color="#ffffff"/><stop offset="0.490" stop-color="#fdfdff"/><stop offset="0.524" stop-color="#fbfbff"/><stop offset="0.559" stop-color="#fafaff"/><stop offset="0.999" stop-color="#fafaff"/></linearGradient><linearGradient id="g118"><stop offset="0.001" stop-color="#ffffff"/><stop offset="0.036" stop-color="#fefeff"/><stop offset="0.071" stop-color="#fbfbff"/><stop offset="0.106" stop-color="#f8f8ff"/><stop offset="0.141" stop-color="#f7f7ff"/><stop offset="0.245" stop-color="#f7f7ff"/><stop offset="0.280" stop-color="#f8f8ff"/><stop offset="0.315" stop-color="#fafaff"/><stop offset="0.350" stop-color="#fefeff"/><stop offset="0.385" stop-color="#ffffff"/><stop offset="0.455" stop-color="#ffffff"/><stop offset="0.490" stop-color="#fffefe"/><stop offset="0.524" stop-color="#fffefe"/><stop offset="0.559" stop-color="#fffdfd"/><stop offset="0.664" stop-color="#fffdfd"/><stop offset="0.699" stop-color="#fffefe"/><stop offset="0.734" stop-color="#fffefe"/><stop offset="0.769" stop-color="#ffffff"/><stop offset="0.999" stop-color="#ffffff"/></linearGradient><linearGradient id="g119"><stop offset="0.001" stop-color="#fffcfc"/><stop offset="0.036" stop-color="#fffdfd"/><stop offset="0.071" stop-color="#fefeff"/><stop offset="0.106" stop-color="#fafaff"/><stop offset="0.141" stop-color="#f9f9ff"/><stop offset="0.245" stop-color="#f9f9ff"/><stop offset="0.280" stop-color="#fafaff"/><stop offset="0.315" stop-color="#fefeff"/><stop offset="0.350" stop-color="#fffcfc"/><stop offset="0.385" stop-color="#fffbfb"/><stop offset="0.420" stop-color="#fffbfb"/><stop offset="0.455" stop-color="#fffafa"/><stop offset="0.490" stop-color="#fff5f5"/><stop offset="0.524" stop-color="#ffeeee"/><stop offset="0.559" stop-color="#ffecec"/><stop offset="0.664" stop-color="#ffecec"/><stop offset="0.699" stop-color="#ffeded"/><stop offset="0.734" stop-color="#ffeeee"/><stop offset="0.769" stop-color="#fff0f0"/><stop offset="0.999" stop-color="#fff0f0"/></linearGradient><linearGradient id="g120"><stop offset="0.001" stop-color="#fff5f5"/><stop offset="0.036" stop-color="#fff5f5"/><stop offset="0.071" stop-color="#fff7f7"/><stop offset="0.106" stop-color="#fffcfc"/><stop offset="0.141" stop-color="#fefeff"/><stop offset="0.176" stop-color="#fdfdff"/><stop offset="0.210" stop-color="#fdfdff"/><stop offset="0.245" stop-color="#fefeff"/><stop offset="0.280" stop-color="#fffcfc"/><stop offset="0.315" stop-color="#fff4f4"/><stop offset="0.350" stop-color="#fff0f0"/><stop offset="0.385" stop-color="#ffefef"/><stop offset="0.455" stop-color="#ffefef"/><stop offset="0.490" stop-color="#ffebeb"/><stop offset="0.524" stop-color="#ffe6e6"/><stop offset="0.699" stop-color="#ffe6e6"/><stop offset="0.734" stop-color="#ffe9e9"/><stop offset="0.769" stop-color="#ffebeb"/><stop offset="0.999" stop-color="#ffebeb"/></linearGradient><linearGradient id="g121"><stop offset="0.001" stop-color="#fff2f2"/><stop offset="0.036" stop-color="#fff2f2"/><stop offset="0.071" stop-color="#fff4f4"/><stop offset="0.106" stop-color="#fffafa"/><stop offset="0.141" stop-color="#fffefe"/><stop offset="0.176" stop-color="#ffffff"/><stop offset="0.245" stop-color="#ffffff"/><stop offset="0.280" stop-color="#fffafa"/><stop offset="0.315" stop-color="#ffefef"/><stop offset="0.350" stop-color="#ffebeb"/><stop offset="0.455" stop-color="#ffebeb"/><stop offset="0.490" stop-color="#ffe8e8"/><stop offset="0.524" stop-color="#ffe6e6"/><stop offset="0.699" stop-color="#ffe6e6"/><stop offset="0.734" stop-color="#ffe9e9"/><stop offset="0.769" stop-color="#ffeaea"/><stop offset="0.804" stop-color="#ffebeb"/><stop offset="0.999" stop-color="#ffebeb"/></linearGradient><linearGradient id="g122"><stop offset="0.001" stop-color="#fff4f4"/><stop offset="0.036" stop-color="#fff4f4"/><stop offset="0.071" stop-color="#fff5f5"/><stop offset="0.106" stop-color="#fffafa"/><stop offset="0.141" stop-color="#fffdfd"/><stop offset="0.176" stop-color="#fffefe"/><stop offset="0.245" stop-color="#fffefe"/><stop offset="0.280" stop-color="#fffafa"/><stop offset="0.315" stop-color="#fff1f1"/><stop offset="0.350" stop-color="#ffeeee"/><stop offset="0.455" stop-color="#ffeeee"/><stop offset="0.490" stop-color="#ffecec"/><stop offset="0.524" stop-color="#ffeaea"/><stop offset="0.699" stop-color="#ffeaea"/><stop offset="0.734" stop-color="#ffecec"/><stop offset="0.769" stop-color="#ffeeee"/><stop offset="0.999" stop-color="#ffeeee"/></linearGradient><linearGradient id="g123"><stop offset="0.001" stop-color="#fff8f8"/><stop offset="0.036" stop-color="#fff8f8"/><stop offset="0.071" stop-color="#fff9f9"/><stop offset="0.106" stop-color="#fffafa"/><stop offset="0.141" stop-color="#fffbfb"/><stop offset="0.245" stop-color="#fffbfb"/><stop offset="0.280" stop-color="#fffafa"/><stop offset="0.315" stop-color="#fff8f8"/><stop offset="0.350" stop-color="#fff7f7"/><stop offset="0.455" stop-color="#fff7f7"/><stop offset="0.490" stop-color="#fff6f6"/><stop offset="0.524" stop-color="#fff5f5"/><stop offset="0.664" stop-color="#fff5f5"/><stop offset="0.699" stop-color="#fff6f6"/><stop offset="0.734" stop-color="#fff6f6"/><stop offset="0.769" stop-color="#fff7f7"/><stop offset="0.999" stop-color="#fff7f7"/></linearGradient><linearGradient id="g124"><stop offset="0.001" stop-color="#fffafa"/><stop offset="0.999" stop-color="#fffafa"/></linearGradient><linearGradient id="g125"><stop offset="0.001" stop-color="#fffafa"/><stop offset="0.490" stop-color="#fffafa"/><stop offset="0.524" stop-color="#fff9f9"/><stop offset="0.999" stop-color="#fff9f9"/></linearGradient><linearGradient id="g126"><stop offset="0.001" stop-color="#fff7f7"/><stop offset="0.036" stop-color="#fff7f7"/><stop offset="0.071" stop-color="#fff6f6"/><stop offset="0.106" stop-color="#fff6f6"/><stop offset="0.141" stop-color="#fff7f7"/><stop offset="0.280" stop-color="#fff7f7"/><stop offset="0.315" stop-color="#fff8f8"/><stop offset="0.350" stop-color="#fffafa"/><stop offset="0.385" stop-color="#fffbfb"/><stop offset="0.455" stop-color="#fffbfb"/><stop offset="0.490" stop-color="#fff8f8"/><stop offset="0.524" stop-color="#fff4f4"/><stop offset="0.559" stop-color="#fff3f3"/><stop offset="0.999" stop-color="#fff3f3"/></linearGradient><linearGradient id="g127"><stop offset="0.001" stop-color="#fff0f0"/><stop offset="0.036" stop-color="#ffefef"/><stop offset="0.071" stop-color="#ffecec"/><stop offset="0.106" stop-color="#ffebeb"/><stop offset="0.141" stop-color="#ffeeee"/><stop offset="0.176" stop-color="#fff0f0"/><stop offset="0.280" stop-color="#fff0f0"/><stop offset="0.315" stop-color="#fff4f4"/><stop offset="0.350" stop-color="#fffbfb"/><stop offset="0.385" stop-color="#fffefe"/><stop offset="0.420" stop-color="#fffefe"/><stop offset="0.455" stop-color="#fffdfd"/><stop offset="0.490" stop-color="#fff9f9"/><stop offset="0.524" stop-color="#fff2f2"/><stop offset="0.559" stop-color="#fff0f0"/><stop offset="0.999" stop-color="#fff0f0"/></linearGradient><linearGradient id="g128"><stop offset="0.001" stop-color="#ffeded"/><stop offset="0.036" stop-color="#ffeded"/><stop offset="0.071" stop-color="#ffe9e9"/><stop offset="0.106" stop-color="#ffe7e7"/><stop offset="0.141" stop-color="#ffebeb"/><stop offset="0.176" stop-color="#ffeded"/><stop offset="0.245" stop-color="#ffeded"/><stop offset="0.280" stop-color="#ffeeee"/><stop offset="0.315" stop-color="#fff2f2"/><stop offset="0.350" stop-color="#fffbfb"/><stop offset="0.385" stop-color="#ffffff"/><stop offset="0.455" stop-color="#ffffff"/><stop offset="0.490" stop-color="#fffbfb"/><stop offset="0.524" stop-color="#fff5f5"/><stop offset="0.559" stop-color="#fff3f3"/><stop offset="0.999" stop-color="#fff3f3"/></linearGradient><linearGradient id="g129"><stop offset="0.001" stop-color="#ffefef"/><stop offset="0.036" stop-color="#ffefef"/><stop offset="0.071" stop-color="#ffecec"/><stop offset="0.106" stop-color="#ffeaea"/><stop offset="0.141" stop-color="#ffeded"/><stop offset="0.176" stop-color="#fff0f0"/><stop offset="0.210" stop-color="#fff1f1"/><stop offset="0.280" stop-color="#fff1f1"/><stop offset="0.315" stop-color="#fff5f5"/><stop offset="0.350" stop-color="#fffcfc"/><stop offset="0.385" stop-color="#ffffff"/><stop offset="0.455" stop-color="#ffffff"/><stop offset="0.490" stop-color="#fffefe"/><stop offset="0.524" stop-color="#fffcfc"/><stop offset="0.999" stop-color="#fffcfc"/></linearGradient><linearGradient id="g130"><stop offset="0.001" stop-color="#fff5f5"/><stop offset="0.036" stop-color="#fff5f5"/><stop offset="0.071" stop-color="#fff4f4"/><stop offset="0.106" stop-color="#fff4f4"/><stop offset="0.141" stop-color="#fff5f5"/><stop offset="0.176" stop-color="#fff9f9"/><stop offset="0.210" stop-color="#fffbfb"/><stop offset="0.280" stop-color="#fffbfb"/><stop offset="0.315" stop-color="#fffcfc"/><stop offset="0.350" stop-color="#fffefe"/><stop offset="0.385" stop-color="#ffffff"/><stop offset="0.999" stop-color="#ffffff"/></linearGradient><linearGradient id="g131"><stop offset="0.001" stop-color="#fff7f7"/><stop offset="0.106" stop-color="#fff7f7"/><stop offset="0.141" stop-color="#fff8f8"/><stop offset="0.176" stop-color="#fffcfc"/><stop offset="0.210" stop-color="#fffefe"/><stop offset="0.245" stop-color="#ffffff"/><stop offset="0.999" stop-color="#ffffff"/></linearGradient><linearGradient id="g132"><stop offset="0.001" stop-color="#fff5f5"/><stop offset="0.106" stop-color="#fff5f5"/><stop offset="0.141" stop-color="#fff6f6"/><stop offset="0.176" stop-color="#fff9f9"/><stop offset="0.210" stop-color="#fffbfb"/><stop offset="0.455" stop-color="#fffbfb"/><stop offset="0.490" stop-color="#fffcfc"/><stop offset="0.524" stop-color="#fffefe"/><stop offset="0.559" stop-color="#ffffff"/><stop offset="0.594" stop-color="#ffffff"/><stop offset="0.629" stop-color="#fefeff"/><stop offset="0.999" stop-color="#fefeff"/></linearGradient><linearGradient id="g133"><stop offset="0.001" stop-color="#ffefef"/><stop offset="0.141" stop-color="#ffefef"/><stop offset="0.176" stop-color="#fff0f0"/><stop offset="0.210" stop-color="#fff1f1"/><stop offset="0.455" stop-color="#fff1f1"/><stop offset="0.490" stop-color="#fff5f5"/><stop offset="0.524" stop-color="#fffdfd"/><stop offset="0.559" stop-color="#ffffff"/><stop offset="0.594" stop-color="#ffffff"/><stop offset="0.629" stop-color="#fdfdff"/><stop offset="0.664" stop-color="#fbfbff"/><stop offset="0.699" stop-color="#fafaff"/><stop offset="0.734" stop-color="#f8f8ff"/><stop offset="0.999" stop-color="#f8f8ff"/></linearGradient><linearGradient id="g134"><stop offset="0.001" stop-color="#ffeeee"/><stop offset="0.071" stop-color="#ffeeee"/><stop offset="0.106" stop-color="#ffeded"/><stop offset="0.141" stop-color="#ffebeb"/><stop offset="0.176" stop-color="#ffe9e9"/><stop offset="0.245" stop-color="#ffe9e9"/><stop offset="0.280" stop-color="#ffecec"/><stop offset="0.315" stop-color="#ffeeee"/><stop offset="0.350" stop-color="#ffeeee"/><stop offset="0.385" stop-color="#ffefef"/><stop offset="0.420" stop-color="#fff1f1"/><stop offset="0.455" stop-color="#fff1f1"/><stop offset="0.490" stop-color="#fff6f6"/><stop offset="0.524" stop-color="#fffefe"/><stop offset="0.559" stop-color="#fefeff"/><stop offset="0.594" stop-color="#fdfdff"/><stop offset="0.629" stop-color="#fcfcff"/><stop offset="0.664" stop-color="#f9f9ff"/><stop offset="0.699" stop-color="#f5f5ff"/><stop offset="0.734" stop-color="#f1f1ff"/><stop offset="0.769" stop-color="#f0f0ff"/><stop offset="0.999" stop-color="#f0f0ff"/></linearGradient><linearGradient id="g135"><stop offset="0.001" stop-color="#ffefef"/><stop offset="0.071" stop-color="#ffefef"/><stop offset="0.106" stop-color="#ffeded"/><stop offset="0.141" stop-color="#ffe4e4"/><stop offset="0.176" stop-color="#ffdede"/><stop offset="0.210" stop-color="#ffdddd"/><stop offset="0.245" stop-color="#ffdfdf"/><stop offset="0.280" stop-color="#ffe8e8"/><stop offset="0.315" stop-color="#ffeeee"/><stop offset="0.350" stop-color="#ffefef"/><stop offset="0.385" stop-color="#fff3f3"/><stop offset="0.420" stop-color="#fff9f9"/><stop offset="0.455" stop-color="#fffbfb"/><stop offset="0.490" stop-color="#fffefe"/><stop offset="0.524" stop-color="#fcfcff"/><stop offset="0.559" stop-color="#fbfbff"/><stop offset="0.594" stop-color="#fbfbff"/><stop offset="0.629" stop-color="#fafaff"/><stop offset="0.664" stop-color="#f9f9ff"/><stop offset="0.699" stop-color="#f3f3ff"/><stop offset="0.734" stop-color="#eeeeff"/><stop offset="0.769" stop-color="#ededff"/><stop offset="0.999" stop-color="#ededff"/></linearGradient><linearGradient id="g136"><stop offset="0.001" stop-color="#fff0f0"/><stop offset="0.071" stop-color="#fff0f0"/><stop offset="0.106" stop-color="#ffeded"/><stop offset="0.141" stop-color="#ffe1e1"/><stop offset="0.176" stop-color="#ffdada"/><stop offset="0.210" stop-color="#ffd9d9"/><stop offset="0.245" stop-color="#ffdbdb"/><stop offset="0.280" stop-color="#ffe6e6"/><stop offset="0.315" stop-color="#ffefef"/><stop offset="0.350" stop-color="#fff0f0"/><stop offset="0.385" stop-color="#fff4f4"/><stop offset="0.420" stop-color="#fffcfc"/><stop offset="0.455" stop-color="#ffffff"/><stop offset="0.490" stop-color="#fdfdff"/><stop offset="0.524" stop-color="#fbfbff"/><stop offset="0.559" stop-color="#fafaff"/><stop offset="0.629" stop-color="#fafaff"/><stop offset="0.664" stop-color="#f9f9ff"/><stop offset="0.699" stop-color="#f3f3ff"/><stop offset="0.734" stop-color="#eeeeff"/><stop offset="0.769" stop-color="#ededff"/><stop offset="0.999" stop-color="#ededff"/></linearGradient><linearGradient id="g137"><stop offset="0.001" stop-color="#fff0f0"/><stop offset="0.071" stop-color="#fff0f0"/><stop offset="0.106" stop-color="#ffeded"/><stop offset="0.141" stop-color="#ffe2e2"/><stop offset="0.176" stop-color="#ffdbdb"/><stop offset="0.210" stop-color="#ffdbdb"/><stop offset="0.245" stop-color="#ffdddd"/><stop offset="0.280" stop-color="#ffe7e7"/><stop offset="0.315" stop-color="#fff0f0"/><stop offset="0.350" stop-color="#fff1f1"/><stop offset="0.385" stop-color="#fff5f5"/><stop offset="0.420" stop-color="#fffcfc"/><stop offset="0.455" stop-color="#ffffff"/><stop offset="0.490" stop-color="#fdfdff"/><stop offset="0.524" stop-color="#fbfbff"/><stop offset="0.559" stop-color="#fafaff"/><stop offset="0.629" stop-color="#fafaff"/><stop offset="0.664" stop-color="#f9f9ff"/><stop offset="0.699" stop-color="#f5f5ff"/><stop offset="0.734" stop-color="#f1f1ff"/><stop offset="0.769" stop-color="#f0f0ff"/><stop offset="0.999" stop-color="#f0f0ff"/></linearGradient><linearGradient id="g138"><stop offset="0.001" stop-color="#fff4f4"/><stop offset="0.036" stop-color="#fff4f4"/><stop offset="0.071" stop-color="#fff3f3"/><stop offset="0.106" stop-color="#fff2f2"/><stop offset="0.141" stop-color="#ffecec"/><stop offset="0.176" stop-color="#ffe8e8"/><stop offset="0.210" stop-color="#ffe8e8"/><stop offset="0.245" stop-color="#ffeaea"/><stop offset="0.280" stop-color="#fff1f1"/><stop offset="0.315" stop-color="#fff7f7"/><stop offset="0.350" stop-color="#fff8f8"/><stop offset="0.385" stop-color="#fffafa"/><stop offset="0.420" stop-color="#fffefe"/><stop offset="0.455" stop-color="#ffffff"/><stop offset="0.490" stop-color="#fdfdff"/><stop offset="0.524" stop-color="#fbfbff"/><stop offset="0.559" stop-color="#fafaff"/><stop offset="0.664" stop-color="#fafaff"/><stop offset="0.699" stop-color="#f8f8ff"/><stop offset="0.734" stop-color="#f7f7ff"/><stop offset="0.999" stop-color="#f7f7ff"/></linearGradient><linearGradient id="g139"><stop offset="0.001" stop-color="#fff7f7"/><stop offset="0.106" stop-color="#fff7f7"/><stop offset="0.141" stop-color="#fff6f6"/><stop offset="0.210" stop-color="#fff6f6"/><stop offset="0.245" stop-color="#fff7f7"/><stop offset="0.280" stop-color="#fffbfb"/><stop offset="0.315" stop-color="#fffefe"/><stop offset="0.385" stop-color="#fffefe"/><stop offset="0.420" stop-color="#ffffff"/><stop offset="0.455" stop-color="#ffffff"/><stop offset="0.490" stop-color="#fefeff"/><stop offset="0.524" stop-color="#fdfdff"/><stop offset="0.559" stop-color="#fdfdff"/><stop offset="0.594" stop-color="#fcfcff"/><stop offset="0.629" stop-color="#fcfcff"/><stop offset="0.664" stop-color="#fbfbff"/><stop offset="0.999" stop-color="#fbfbff"/></linearGradient><linearGradient id="g140"><stop offset="0.001" stop-color="#fff7f7"/><stop offset="0.210" stop-color="#fff7f7"/><stop offset="0.245" stop-color="#fff8f8"/><stop offset="0.280" stop-color="#fffcfc"/><stop offset="0.315" stop-color="#ffffff"/><stop offset="0.455" stop-color="#ffffff"/><stop offset="0.490" stop-color="#fffdfd"/><stop offset="0.524" stop-color="#fffbfb"/><stop offset="0.559" stop-color="#fffafa"/><stop offset="0.594" stop-color="#fffbfb"/><stop offset="0.629" stop-color="#fffefe"/><stop offset="0.664" stop-color="#fefeff"/><stop offset="0.999" stop-color="#fefeff"/></linearGradient><linearGradient id="g141"><stop offset="0.001" stop-color="#fff9f9"/><stop offset="0.210" stop-color="#fff9f9"/><stop offset="0.245" stop-color="#fffafa"/><stop offset="0.280" stop-color="#fffdfd"/><stop offset="0.315" stop-color="#ffffff"/><stop offset="0.455" stop-color="#ffffff"/><stop offset="0.490" stop-color="#fffdfd"/><stop offset="0.524" stop-color="#fffafa"/><stop offset="0.559" stop-color="#fff9f9"/><stop offset="0.594" stop-color="#fffafa"/><stop offset="0.629" stop-color="#fffdfd"/><stop offset="0.664" stop-color="#ffffff"/><stop offset="0.999" stop-color="#ffffff"/></linearGradient><linearGradient id="g142"><stop offset="0.001" stop-color="#fffdfd"/><stop offset="0.210" stop-color="#fffdfd"/><stop offset="0.245" stop-color="#fffefe"/><stop offset="0.280" stop-color="#fffefe"/><stop offset="0.315" stop-color="#ffffff"/><stop offset="0.455" stop-color="#ffffff"/><stop offset="0.490" stop-color="#fffefe"/><stop offset="0.524" stop-color="#fffefe"/><stop offset="0.559" stop-color="#fffdfd"/><stop offset="0.594" stop-color="#fffefe"/><stop offset="0.629" stop-color="#fffefe"/><stop offset="0.664" stop-color="#ffffff"/><stop offset="0.999" stop-color="#ffffff"/></linearGradient><linearGradient id="g143"><stop offset="0.001" stop-color="#ffffff"/><stop offset="0.210" stop-color="#ffffff"/><stop offset="0.245" stop-color="#fefeff"/><stop offset="0.999" stop-color="#fefeff"/></linearGradient><linearGradient id="g144"><stop offset="0.001" stop-color="#ffffff"/><stop offset="0.210" stop-color="#ffffff"/><stop offset="0.245" stop-color="#fdfdff"/><stop offset="0.280" stop-color="#fbfbff"/><stop offset="0.999" stop-color="#fbfbff"/></linearGradient><linearGradient id="g145"><stop offset="0.001" stop-color="#ffffff"/><stop offset="0.176" stop-color="#ffffff"/><stop offset="0.210" stop-color="#fefeff"/><stop offset="0.245" stop-color="#fcfcff"/><stop offset="0.280" stop-color="#fafaff"/><stop offset="0.455" stop-color="#fafaff"/><stop offset="0.490" stop-color="#fbfbff"/><stop offset="0.524" stop-color="#fbfbff"/><stop offset="0.559" stop-color="#fcfcff"/><stop offset="0.999" stop-color="#fcfcff"/></linearGradient><linearGradient id="g146"><stop offset="0.001" stop-color="#ffffff"/><stop offset="0.176" stop-color="#ffffff"/><stop offset="0.210" stop-color="#fefeff"/><stop offset="0.245" stop-color="#fcfcff"/><stop offset="0.280" stop-color="#fafaff"/><stop offset="0.455" stop-color="#fafaff"/><stop offset="0.490" stop-color="#fcfcff"/><stop offset="0.524" stop-color="#ffffff"/><stop offset="0.559" stop-color="#fffefe"/><stop offset="0.999" stop-color="#fffefe"/></linearGradient><linearGradient id="g147"><stop offset="0.001" stop-color="#ffffff"/><stop offset="0.176" stop-color="#ffffff"/><stop offset="0.210" stop-color="#fefeff"/><stop offset="0.245" stop-color="#fcfcff"/><stop offset="0.280" stop-color="#fafaff"/><stop offset="0.490" stop-color="#fafaff"/><stop offset="0.524" stop-color="#fbfbff"/><stop offset="0.559" stop-color="#fcfcff"/><stop offset="0.594" stop-color="#fbfbff"/><stop offset="0.629" stop-color="#fafaff"/><stop offset="0.664" stop-color="#f9f9ff"/><stop offset="0.999" stop-color="#f9f9ff"/></linearGradient><linearGradient id="g148"><stop offset="0.001" stop-color="#ffffff"/><stop offset="0.176" stop-color="#ffffff"/><stop offset="0.210" stop-color="#fefeff"/><stop offset="0.245" stop-color="#fcfcff"/><stop offset="0.280" stop-color="#fafaff"/><stop offset="0.559" stop-color="#fafaff"/><stop offset="0.594" stop-color="#f9f9ff"/><stop offset="0.629" stop-color="#f5f5ff"/><stop offset="0.664" stop-color="#f2f2ff"/><stop offset="0.999" stop-color="#f2f2ff"/></linearGradient><linearGradient id="g149"><stop offset="0.001" stop-color="#ffffff"/><stop offset="0.176" stop-color="#ffffff"/><stop offset="0.210" stop-color="#fefeff"/><stop offset="0.245" stop-color="#fcfcff"/><stop offset="0.280" stop-color="#fafaff"/><stop offset="0.559" stop-color="#fafaff"/><stop offset="0.594" stop-color="#f9f9ff"/><stop offset="0.629" stop-color="#f4f4ff"/><stop offset="0.664" stop-color="#f0f0ff"/><stop offset="0.999" stop-color="#f0f0ff"/></linearGradient><linearGradient id="g150"><stop offset="0.001" stop-color="#fffdfd"/><stop offset="0.176" stop-color="#fffdfd"/><stop offset="0.210" stop-color="#ffffff"/><stop offset="0.245" stop-color="#fdfdff"/><stop offset="0.280" stop-color="#fbfbff"/><stop offset="0.559" stop-color="#fbfbff"/><stop offset="0.594" stop-color="#fafaff"/><stop offset="0.629" stop-color="#f5f5ff"/><stop offset="0.664" stop-color="#f1f1ff"/><stop offset="0.999" stop-color="#f1f1ff"/></linearGradient><linearGradient id="g151"><stop offset="0.001" stop-color="#fff7f7"/><stop offset="0.141" stop-color="#fff7f7"/><stop offset="0.176" stop-color="#fff8f8"/><stop offset="0.210" stop-color="#fffcfc"/><stop offset="0.245" stop-color="#ffffff"/><stop offset="0.280" stop-color="#fefeff"/><stop offset="0.559" stop-color="#fefeff"/><stop offset="0.594" stop-color="#fdfdff"/><stop offset="0.629" stop-color="#f8f8ff"/><stop offset="0.664" stop-color="#f4f4ff"/><stop offset="0.769" stop-color="#f4f4ff"/><stop offset="0.804" stop-color="#f3f3ff"/><stop offset="0.838" stop-color="#f2f2ff"/><stop offset="0.873" stop-color="#f1f1ff"/><stop offset="0.999" stop-color="#f1f1ff"/></linearGradient><linearGradient id="g152"><stop offset="0.001" stop-color="#fff5f5"/><stop offset="0.141" stop-color="#fff5f5"/><stop offset="0.176" stop-color="#fff6f6"/><stop offset="0.210" stop-color="#fffbfb"/><stop offset="0.245" stop-color="#ffffff"/><stop offset="0.559" stop-color="#ffffff"/><stop offset="0.594" stop-color="#fefeff"/><stop offset="0.629" stop-color="#f9f9ff"/><stop offset="0.664" stop-color="#f5f5ff"/><stop offset="0.769" stop-color="#f5f5ff"/><stop offset="0.804" stop-color="#f4f4ff"/><stop offset="0.838" stop-color="#f2f2ff"/><stop offset="0.873" stop-color="#f0f0ff"/><stop offset="0.999" stop-color="#f0f0ff"/></linearGradient><linearGradient id="g153"><stop offset="0.001" stop-color="#fff5f5"/><stop offset="0.141" stop-color="#fff5f5"/><stop offset="0.176" stop-color="#fff6f6"/><stop offset="0.210" stop-color="#fffbfb"/><stop offset="0.245" stop-color="#fffefe"/><stop offset="0.280" stop-color="#ffffff"/><stop offset="0.559" stop-color="#ffffff"/><stop offset="0.594" stop-color="#fefeff"/><stop offset="0.629" stop-color="#f9f9ff"/><stop offset="0.664" stop-color="#f5f5ff"/><stop offset="0.769" stop-color="#f5f5ff"/><stop offset="0.804" stop-color="#f4f4ff"/><stop offset="0.838" stop-color="#f3f3ff"/><stop offset="0.873" stop-color="#f2f2ff"/><stop offset="0.999" stop-color="#f2f2ff"/></linearGradient><linearGradient id="g154"><stop offset="0.001" stop-color="#fff2f2"/><stop offset="0.036" stop-color="#fff1f1"/><stop offset="0.071" stop-color="#fff0f0"/><stop offset="0.106" stop-color="#fff0f0"/><stop offset="0.141" stop-color="#fff1f1"/><stop offset="0.176" stop-color="#fff3f3"/><stop offset="0.210" stop-color="#fff7f7"/><stop offset="0.245" stop-color="#fffafa"/><stop offset="0.280" stop-color="#fffbfb"/><stop offset="0.490" stop-color="#fffbfb"/><stop offset="0.524" stop-color="#fffcfc"/><stop offset="0.559" stop-color="#fffdfd"/><stop offset="0.594" stop-color="#ffffff"/><stop offset="0.629" stop-color="#fbfbff"/><stop offset="0.664" stop-color="#f7f7ff"/><stop offset="0.699" stop-color="#f7f7ff"/><stop offset="0.734" stop-color="#f5f5ff"/><stop offset="0.769" stop-color="#f4f4ff"/><stop offset="0.999" stop-color="#f4f4ff"/></linearGradient><linearGradient id="g155"><stop offset="0.001" stop-color="#ffebeb"/><stop offset="0.036" stop-color="#ffe8e8"/><stop offset="0.071" stop-color="#ffe5e5"/><stop offset="0.106" stop-color="#ffe5e5"/><stop offset="0.141" stop-color="#ffe6e6"/><stop offset="0.176" stop-color="#ffebeb"/><stop offset="0.210" stop-color="#ffeeee"/><stop offset="0.245" stop-color="#ffefef"/><stop offset="0.455" stop-color="#ffefef"/><stop offset="0.490" stop-color="#fff1f1"/><stop offset="0.524" stop-color="#fff5f5"/><stop offset="0.559" stop-color="#fff7f7"/><stop offset="0.594" stop-color="#fffbfb"/><stop offset="0.629" stop-color="#fefeff"/><stop offset="0.664" stop-color="#fdfdff"/><stop offset="0.699" stop-color="#fcfcff"/><stop offset="0.734" stop-color="#f7f7ff"/><stop offset="0.769" stop-color="#f3f3ff"/><stop offset="0.999" stop-color="#f3f3ff"/></linearGradient><linearGradient id="g156"><stop offset="0.001" stop-color="#ffe9e9"/><stop offset="0.036" stop-color="#ffe5e5"/><stop offset="0.071" stop-color="#ffe1e1"/><stop offset="0.106" stop-color="#ffe1e1"/><stop offset="0.141" stop-color="#ffe2e2"/><stop offset="0.176" stop-color="#ffe8e8"/><stop offset="0.210" stop-color="#ffebeb"/><stop offset="0.455" stop-color="#ffebeb"/><stop offset="0.490" stop-color="#ffeded"/><stop offset="0.524" stop-color="#fff3f3"/><stop offset="0.559" stop-color="#fff5f5"/><stop offset="0.594" stop-color="#fffafa"/><stop offset="0.629" stop-color="#fffefe"/><stop offset="0.664" stop-color="#ffffff"/><stop offset="0.699" stop-color="#fefeff"/><stop offset="0.734" stop-color="#f8f8ff"/><stop offset="0.769" stop-color="#f3f3ff"/><stop offset="0.804" stop-color="#f2f2ff"/><stop offset="0.999" stop-color="#f2f2ff"/></linearGradient><linearGradient id="g157"><stop offset="0.001" stop-color="#ffe9e9"/><stop offset="0.036" stop-color="#ffe6e6"/><stop offset="0.071" stop-color="#ffe3e3"/><stop offset="0.106" stop-color="#ffe3e3"/><stop offset="0.141" stop-color="#ffe4e4"/><stop offset="0.176" stop-color="#ffe8e8"/><stop offset="0.210" stop-color="#ffebeb"/><stop offset="0.455" stop-color="#ffebeb"/><stop offset="0.490" stop-color="#ffeded"/><stop offset="0.524" stop-color="#fff3f3"/><stop offset="0.559" stop-color="#fff5f5"/><stop offset="0.594" stop-color="#fffafa"/><stop offset="0.629" stop-color="#fffefe"/><stop offset="0.664" stop-color="#ffffff"/><stop offset="0.699" stop-color="#fefeff"/><stop offset="0.734" stop-color="#f8f8ff"/><stop offset="0.769" stop-color="#f3f3ff"/><stop offset="0.804" stop-color="#f2f2ff"/><stop offset="0.999" stop-color="#f2f2ff"/></linearGradient><linearGradient id="g158"><stop offset="0.001" stop-color="#ffebeb"/><stop offset="0.036" stop-color="#ffeaea"/><stop offset="0.071" stop-color="#ffeaea"/><stop offset="0.106" stop-color="#ffecec"/><stop offset="0.141" stop-color="#ffeded"/><stop offset="0.176" stop-color="#ffeeee"/><stop offset="0.210" stop-color="#ffefef"/><stop offset="0.455" stop-color="#ffefef"/><stop offset="0.490" stop-color="#fff1f1"/><stop offset="0.524" stop-color="#fff5f5"/><stop offset="0.559" stop-color="#fff7f7"/><stop offset="0.594" stop-color="#fffbfb"/><stop offset="0.629" stop-color="#fffefe"/><stop offset="0.664" stop-color="#ffffff"/><stop offset="0.699" stop-color="#fefeff"/><stop offset="0.734" stop-color="#f8f8ff"/><stop offset="0.769" stop-color="#f4f4ff"/><stop offset="0.804" stop-color="#f3f3ff"/><stop offset="0.999" stop-color="#f3f3ff"/></linearGradient><linearGradient id="g159"><stop offset="0.001" stop-color="#ffefef"/><stop offset="0.036" stop-color="#ffefef"/><stop offset="0.071" stop-color="#fff0f0"/><stop offset="0.106" stop-color="#fff6f6"/><stop offset="0.141" stop-color="#fffafa"/><stop offset="0.176" stop-color="#fffbfb"/><stop offset="0.490" stop-color="#fffbfb"/><stop offset="0.524" stop-color="#fffcfc"/><stop offset="0.559" stop-color="#fffdfd"/><stop offset="0.594" stop-color="#fffefe"/><stop offset="0.629" stop-color="#ffffff"/><stop offset="0.664" stop-color="#ffffff"/><stop offset="0.699" stop-color="#fefeff"/><stop offset="0.734" stop-color="#fafaff"/><stop offset="0.769" stop-color="#f7f7ff"/><stop offset="0.804" stop-color="#f6f6ff"/><stop offset="0.999" stop-color="#f6f6ff"/></linearGradient><linearGradient id="g160"><stop offset="0.001" stop-color="#fff0f0"/><stop offset="0.036" stop-color="#fff0f0"/><stop offset="0.071" stop-color="#fff2f2"/><stop offset="0.106" stop-color="#fff9f9"/><stop offset="0.141" stop-color="#fffefe"/><stop offset="0.176" stop-color="#ffffff"/><stop offset="0.664" stop-color="#ffffff"/><stop offset="0.699" stop-color="#fefeff"/><stop offset="0.734" stop-color="#fbfbff"/><stop offset="0.769" stop-color="#f8f8ff"/><stop offset="0.804" stop-color="#f7f7ff"/><stop offset="0.999" stop-color="#f7f7ff"/></linearGradient><linearGradient id="g161"><stop offset="0.001" stop-color="#fff3f3"/><stop offset="0.036" stop-color="#fff3f3"/><stop offset="0.071" stop-color="#fff4f4"/><stop offset="0.106" stop-color="#fff8f8"/><stop offset="0.141" stop-color="#fffafa"/><stop offset="0.176" stop-color="#fffbfb"/><stop offset="0.210" stop-color="#fffbfb"/><stop offset="0.245" stop-color="#fffcfc"/><stop offset="0.280" stop-color="#fffefe"/><stop offset="0.315" stop-color="#ffffff"/><stop offset="0.664" stop-color="#ffffff"/><stop offset="0.699" stop-color="#fefeff"/><stop offset="0.734" stop-color="#fbfbff"/><stop offset="0.769" stop-color="#f8f8ff"/><stop offset="0.804" stop-color="#f7f7ff"/><stop offset="0.999" stop-color="#f7f7ff"/></linearGradient><linearGradient id="g162"><stop offset="0.001" stop-color="#fffcfc"/><stop offset="0.036" stop-color="#fffcfc"/><stop offset="0.071" stop-color="#fffafa"/><stop offset="0.106" stop-color="#fff4f4"/><stop offset="0.141" stop-color="#ffefef"/><stop offset="0.210" stop-color="#ffefef"/><stop offset="0.245" stop-color="#fff2f2"/><stop offset="0.280" stop-color="#fffbfb"/><stop offset="0.315" stop-color="#ffffff"/><stop offset="0.664" stop-color="#ffffff"/><stop offset="0.699" stop-color="#fefeff"/><stop offset="0.734" stop-color="#fbfbff"/><stop offset="0.769" stop-color="#f8f8ff"/><stop offset="0.804" stop-color="#f7f7ff"/><stop offset="0.999" stop-color="#f7f7ff"/></linearGradient><linearGradient id="g163"><stop offset="0.001" stop-color="#ffffff"/><stop offset="0.036" stop-color="#ffffff"/><stop offset="0.071" stop-color="#fffcfc"/><stop offset="0.106" stop-color="#fff2f2"/><stop offset="0.141" stop-color="#ffebeb"/><stop offset="0.210" stop-color="#ffebeb"/><stop offset="0.245" stop-color="#ffefef"/><stop offset="0.280" stop-color="#fffafa"/><stop offset="0.315" stop-color="#ffffff"/><stop offset="0.664" stop-color="#ffffff"/><stop offset="0.699" stop-color="#fefeff"/><stop offset="0.734" stop-color="#fbfbff"/><stop offset="0.769" stop-color="#f9f9ff"/><stop offset="0.804" stop-color="#f9f9ff"/><stop offset="0.838" stop-color="#f8f8ff"/><stop offset="0.873" stop-color="#f7f7ff"/><stop offset="0.999" stop-color="#f7f7ff"/></linearGradient><linearGradient id="g164"><stop offset="0.001" stop-color="#ffffff"/><stop offset="0.036" stop-color="#ffffff"/><stop offset="0.071" stop-color="#fffcfc"/><stop offset="0.106" stop-color="#fff2f2"/><stop offset="0.141" stop-color="#ffebeb"/><stop offset="0.210" stop-color="#ffebeb"/><stop offset="0.245" stop-color="#ffefef"/><stop offset="0.280" stop-color="#fffafa"/><stop offset="0.315" stop-color="#ffffff"/><stop offset="0.699" stop-color="#ffffff"/><stop offset="0.734" stop-color="#fefeff"/><stop offset="0.769" stop-color="#fdfdff"/><stop offset="0.804" stop-color="#fcfcff"/><stop offset="0.838" stop-color="#f8f8ff"/><stop offset="0.873" stop-color="#f6f6ff"/><stop offset="0.908" stop-color="#f5f5ff"/><stop offset="0.999" stop-color="#f5f5ff"/></linearGradient><linearGradient id="g165"><stop offset="0.001" stop-color="#fdfdff"/><stop offset="0.036" stop-color="#fdfdff"/><stop offset="0.071" stop-color="#fffefe"/><stop offset="0.106" stop-color="#fff6f6"/><stop offset="0.141" stop-color="#fff0f0"/><stop offset="0.176" stop-color="#ffefef"/><stop offset="0.210" stop-color="#ffefef"/><stop offset="0.245" stop-color="#fff2f2"/><stop offset="0.280" stop-color="#fffbfb"/><stop offset="0.315" stop-color="#ffffff"/><stop offset="0.769" stop-color="#ffffff"/><stop offset="0.804" stop-color="#fefeff"/><stop offset="0.838" stop-color="#f9f9ff"/><stop offset="0.873" stop-color="#f5f5ff"/><stop offset="0.999" stop-color="#f5f5ff"/></linearGradient><linearGradient id="g166"><stop offset="0.001" stop-color="#f9f9ff"/><stop offset="0.036" stop-color="#f9f9ff"/><stop offset="0.071" stop-color="#fafaff"/><stop offset="0.106" stop-color="#fcfcff"/><stop offset="0.141" stop-color="#fffdfd"/><stop offset="0.176" stop-color="#fffbfb"/><stop offset="0.210" stop-color="#fffbfb"/><stop offset="0.245" stop-color="#fffcfc"/><stop offset="0.280" stop-color="#fffefe"/><stop offset="0.315" stop-color="#ffffff"/><stop offset="0.769" stop-color="#ffffff"/><stop offset="0.804" stop-color="#fefeff"/><stop offset="0.838" stop-color="#fafaff"/><stop offset="0.873" stop-color="#f7f7ff"/><stop offset="0.999" stop-color="#f7f7ff"/></linearGradient><linearGradient id="g167"><stop offset="0.001" stop-color="#f7f7ff"/><stop offset="0.036" stop-color="#f7f7ff"/><stop offset="0.071" stop-color="#f8f8ff"/><stop offset="0.106" stop-color="#f8f8ff"/><stop offset="0.141" stop-color="#fcfcff"/><stop offset="0.176" stop-color="#ffffff"/><stop offset="0.594" stop-color="#ffffff"/><stop offset="0.629" stop-color="#fefeff"/><stop offset="0.664" stop-color="#fcfcff"/><stop offset="0.804" stop-color="#fcfcff"/><stop offset="0.838" stop-color="#fafaff"/><stop offset="0.873" stop-color="#f9f9ff"/><stop offset="0.999" stop-color="#f9f9ff"/></linearGradient><linearGradient id="g168"><stop offset="0.001" stop-color="#f9f9ff"/><stop offset="0.071" stop-color="#f9f9ff"/><stop offset="0.106" stop-color="#fafaff"/><stop offset="0.141" stop-color="#fdfdff"/><stop offset="0.176" stop-color="#ffffff"/><stop offset="0.559" stop-color="#ffffff"/><stop offset="0.594" stop-color="#fefeff"/><stop offset="0.629" stop-color="#fafaff"/><stop offset="0.664" stop-color="#f6f6ff"/><stop offset="0.699" stop-color="#f5f5ff"/><stop offset="0.769" stop-color="#f5f5ff"/><stop offset="0.804" stop-color="#f4f4ff"/><stop offset="0.838" stop-color="#f2f2ff"/><stop offset="0.873" stop-color="#f1f1ff"/><stop offset="0.999" stop-color="#f1f1ff"/></linearGradient><linearGradient id="g169"><stop offset="0.001" stop-color="#fdfdff"/><stop offset="0.071" stop-color="#fdfdff"/><stop offset="0.106" stop-color="#fefeff"/><stop offset="0.141" stop-color="#fefeff"/><stop offset="0.176" stop-color="#ffffff"/><stop offset="0.559" stop-color="#ffffff"/><stop offset="0.594" stop-color="#fefeff"/><stop offset="0.629" stop-color="#f9f9ff"/><stop offset="0.664" stop-color="#f3f3ff"/><stop offset="0.699" stop-color="#f2f2ff"/><stop offset="0.804" stop-color="#f2f2ff"/><stop offset="0.838" stop-color="#efefff"/><stop offset="0.873" stop-color="#ededff"/><stop offset="0.999" stop-color="#ededff"/></linearGradient><linearGradient id="g170"><stop offset="0.001" stop-color="#ffffff"/><stop offset="0.559" stop-color="#ffffff"/><stop offset="0.594" stop-color="#fefeff"/><stop offset="0.629" stop-color="#f9f9ff"/><stop offset="0.664" stop-color="#f3f3ff"/><stop offset="0.699" stop-color="#f2f2ff"/><stop offset="0.804" stop-color="#f2f2ff"/><stop offset="0.838" stop-color="#efefff"/><stop offset="0.873" stop-color="#ededff"/><stop offset="0.999" stop-color="#ededff"/></linearGradient><linearGradient id="g171"><stop offset="0.001" stop-color="#fffcfc"/><stop offset="0.106" stop-color="#fffcfc"/><stop offset="0.141" stop-color="#fffbfb"/><stop offset="0.350" stop-color="#fffbfb"/><stop offset="0.385" stop-color="#fffcfc"/><stop offset="0.490" stop-color="#fffcfc"/><stop offset="0.524" stop-color="#fffdfd"/><stop offset="0.559" stop-color="#fffefe"/><stop offset="0.594" stop-color="#ffffff"/><stop offset="0.629" stop-color="#fbfbff"/><stop offset="0.664" stop-color="#f6f6ff"/><stop offset="0.699" stop-color="#f5f5ff"/><stop offset="0.734" stop-color="#f4f4ff"/><stop offset="0.769" stop-color="#f3f3ff"/><stop offset="0.804" stop-color="#f2f2ff"/><stop offset="0.838" stop-color="#f0f0ff"/><stop offset="0.873" stop-color="#efefff"/><stop offset="0.999" stop-color="#efefff"/></linearGradient><linearGradient id="g172"><stop offset="0.001" stop-color="#fff3f3"/><stop offset="0.106" stop-color="#fff3f3"/><stop offset="0.141" stop-color="#fff2f2"/><stop offset="0.176" stop-color="#fff0f0"/><stop offset="0.210" stop-color="#ffefef"/><stop offset="0.280" stop-color="#ffefef"/><stop offset="0.315" stop-color="#fff0f0"/><stop offset="0.350" stop-color="#fff2f2"/><stop offset="0.385" stop-color="#fff3f3"/><stop offset="0.455" stop-color="#fff3f3"/><stop offset="0.490" stop-color="#fff5f5"/><stop offset="0.524" stop-color="#fff9f9"/><stop offset="0.559" stop-color="#fffbfb"/><stop offset="0.594" stop-color="#fffbfb"/><stop offset="0.629" stop-color="#fffdfd"/><stop offset="0.664" stop-color="#fefeff"/><stop offset="0.699" stop-color="#fcfcff"/><stop offset="0.734" stop-color="#f8f8ff"/><stop offset="0.769" stop-color="#f5f5ff"/><stop offset="0.804" stop-color="#f4f4ff"/><stop offset="0.838" stop-color="#f4f4ff"/><stop offset="0.873" stop-color="#f3f3ff"/><stop offset="0.999" stop-color="#f3f3ff"/></linearGradient><linearGradient id="g173"><stop offset="0.001" stop-color="#fff0f0"/><stop offset="0.106" stop-color="#fff0f0"/><stop offset="0.141" stop-color="#ffefef"/><stop offset="0.176" stop-color="#ffecec"/><stop offset="0.210" stop-color="#ffebeb"/><stop offset="0.280" stop-color="#ffebeb"/><stop offset="0.315" stop-color="#ffecec"/><stop offset="0.350" stop-color="#ffefef"/><stop offset="0.385" stop-color="#fff0f0"/><stop offset="0.455" stop-color="#fff0f0"/><stop offset="0.490" stop-color="#fff3f3"/><stop offset="0.524" stop-color="#fff8f8"/><stop offset="0.559" stop-color="#fffafa"/><stop offset="0.594" stop-color="#fffafa"/><stop offset="0.629" stop-color="#fffbfb"/><stop offset="0.664" stop-color="#fffdfd"/><stop offset="0.699" stop-color="#fefeff"/><stop offset="0.734" stop-color="#f9f9ff"/><stop offset="0.769" stop-color="#f5f5ff"/><stop offset="0.999" stop-color="#f5f5ff"/></linearGradient><linearGradient id="g174"><stop offset="0.001" stop-color="#fff0f0"/><stop offset="0.106" stop-color="#fff0f0"/><stop offset="0.141" stop-color="#ffefef"/><stop offset="0.176" stop-color="#ffecec"/><stop offset="0.210" stop-color="#ffebeb"/><stop offset="0.280" stop-color="#ffebeb"/><stop offset="0.315" stop-color="#ffecec"/><stop offset="0.350" stop-color="#ffefef"/><stop offset="0.385" stop-color="#fff0f0"/><stop offset="0.455" stop-color="#fff0f0"/><stop offset="0.490" stop-color="#fff3f3"/><stop offset="0.524" stop-color="#fff8f8"/><stop offset="0.559" stop-color="#fffafa"/><stop offset="0.629" stop-color="#fffafa"/><stop offset="0.664" stop-color="#fffdfd"/><stop offset="0.699" stop-color="#fefeff"/><stop offset="0.734" stop-color="#f9f9ff"/><stop offset="0.769" stop-color="#f5f5ff"/><stop offset="0.999" stop-color="#f5f5ff"/></linearGradient><linearGradient id="g175"><stop offset="0.001" stop-color="#ffeded"/><stop offset="0.071" stop-color="#ffeded"/><stop offset="0.106" stop-color="#ffeeee"/><stop offset="0.141" stop-color="#ffeeee"/><stop offset="0.176" stop-color="#ffeded"/><stop offset="0.210" stop-color="#ffecec"/><stop offset="0.280" stop-color="#ffecec"/><stop offset="0.315" stop-color="#ffeded"/><stop offset="0.350" stop-color="#fff0f0"/><stop offset="0.385" stop-color="#fff2f2"/><stop offset="0.420" stop-color="#fff3f3"/><stop offset="0.455" stop-color="#fff3f3"/><stop offset="0.490" stop-color="#fff5f5"/><stop offset="0.524" stop-color="#fff9f9"/><stop offset="0.559" stop-color="#fffbfb"/><stop offset="0.629" stop-color="#fffbfb"/><stop offset="0.664" stop-color="#fffdfd"/><stop offset="0.699" stop-color="#fefeff"/><stop offset="0.734" stop-color="#f9f9ff"/><stop offset="0.769" stop-color="#f5f5ff"/><stop offset="0.999" stop-color="#f5f5ff"/></linearGradient><linearGradient id="g176"><stop offset="0.001" stop-color="#ffe8e8"/><stop offset="0.071" stop-color="#ffe8e8"/><stop offset="0.106" stop-color="#ffe9e9"/><stop offset="0.141" stop-color="#ffeded"/><stop offset="0.176" stop-color="#fff0f0"/><stop offset="0.210" stop-color="#fff1f1"/><stop offset="0.315" stop-color="#fff1f1"/><stop offset="0.350" stop-color="#fff3f3"/><stop offset="0.385" stop-color="#fff8f8"/><stop offset="0.420" stop-color="#fffbfb"/><stop offset="0.455" stop-color="#fffcfc"/><stop offset="0.490" stop-color="#fffcfc"/><stop offset="0.524" stop-color="#fffdfd"/><stop offset="0.559" stop-color="#fffefe"/><stop offset="0.629" stop-color="#fffefe"/><stop offset="0.664" stop-color="#ffffff"/><stop offset="0.699" stop-color="#fefeff"/><stop offset="0.734" stop-color="#f9f9ff"/><stop offset="0.769" stop-color="#f5f5ff"/><stop offset="0.999" stop-color="#f5f5ff"/></linearGradient><linearGradient id="g177"><stop offset="0.001" stop-color="#ffe7e7"/><stop offset="0.071" stop-color="#ffe7e7"/><stop offset="0.106" stop-color="#ffe8e8"/><stop offset="0.141" stop-color="#ffeeee"/><stop offset="0.176" stop-color="#fff2f2"/><stop offset="0.210" stop-color="#fff3f3"/><stop offset="0.315" stop-color="#fff3f3"/><stop offset="0.350" stop-color="#fff4f4"/><stop offset="0.385" stop-color="#fffafa"/><stop offset="0.420" stop-color="#fffefe"/><stop offset="0.455" stop-color="#ffffff"/><stop offset="0.664" stop-color="#ffffff"/><stop offset="0.699" stop-color="#fefeff"/><stop offset="0.734" stop-color="#f9f9ff"/><stop offset="0.769" stop-color="#f6f6ff"/><stop offset="0.804" stop-color="#f5f5ff"/><stop offset="0.999" stop-color="#f5f5ff"/></linearGradient><linearGradient id="g178"><stop offset="0.001" stop-color="#fff1f1"/><stop offset="0.071" stop-color="#fff1f1"/><stop offset="0.106" stop-color="#fff2f2"/><stop offset="0.141" stop-color="#fff5f5"/><stop offset="0.176" stop-color="#fff8f8"/><stop offset="0.315" stop-color="#fff8f8"/><stop offset="0.350" stop-color="#fff9f9"/><stop offset="0.385" stop-color="#fffcfc"/><stop offset="0.420" stop-color="#ffffff"/><stop offset="0.664" stop-color="#ffffff"/><stop offset="0.699" stop-color="#fefeff"/><stop offset="0.734" stop-color="#fcfcff"/><stop offset="0.769" stop-color="#fafaff"/><stop offset="0.999" stop-color="#fafaff"/></linearGradient></defs><rect x="151.2" y="16.0" width="286.6" height="2" fill="url(#g0)"/><rect x="151.2" y="18.0" width="286.6" height="2" fill="url(#g1)"/><rect x="151.2" y="20.0" width="286.6" height="2" fill="url(#g2)"/><rect x="151.2" y="22.0" width="286.6" height="2" fill="url(#g3)"/><rect x="151.2" y="24.0" width="286.6" height="2" fill="url(#g4)"/><rect x="151.2" y="26.0" width="286.6" height="2" fill="url(#g5)"/><rect x="151.2" y="28.0" width="286.6" height="2" fill="url(#g6)"/><rect x="151.2" y="30.0" width="286.6" height="2" fill="url(#g7)"/><rect x="151.2" y="32.0" width="286.6" height="2" fill="url(#g8)"/><rect x="151.2" y="34.0" width="286.6" height="2" fill="url(#g9)"/><rect x="151.2" y="36.0" width="286.6" height="2" fill="url(#g10)"/><rect x="151.2" y="38.0" width="286.6" height="2" fill="url(#g11)"/><rect x="151.2" y="40.0" width="286.6" height="2" fill="url(#g12)"/><rect x="151.2" y="42.0" width="286.6" height="2" fill="url(#g13)"/><rect x="151.2" y="44.0" width="286.6" height="2" fill="url(#g14)"/><rect x="151.2" y="46.0" width="286.6" height="2" fill="url(#g15)"/><rect x="151.2" y="48.0" width="286.6" height="2" fill="url(#g16)"/><rect x="151.2" y="50.0" width="286.6" height="2" fill="url(#g17)"/><rect x="151.2" y="52.0" width="286.6" height="2" fill="url(#g18)"/><rect x="151.2" y="54.0" width="286.6" height="2" fill="url(#g19)"/><rect x="151.2" y="56.0" width="286.6" height="2" fill="url(#g20)"/><rect x="151.2" y="58.0" width="286.6" height="2" fill="url(#g21)"/><rect x="151.2" y="60.0" width="286.6" height="2" fill="url(#g22)"/><rect x="151.2" y="62.0" width="286.6" height="2" fill="url(#g23)"/><rect x="151.2" y="64.0" width="286.6" height="2" fill="url(#g24)"/><rect x="151.2" y="66.0" width="286.6" height="2" fill="url(#g25)"/><rect x="151.2" y="72.0" width="286.6" height="2" fill="url(#g26)"/><rect x="151.2" y="74.0" width="286.6" height="2" fill="url(#g27)"/><rect x="151.2" y="76.0" width="286.6" height="2" fill="url(#g28)"/><rect x="151.2" y="78.0" width="286.6" height="2" fill="url(#g29)"/><rect x="151.2" y="80.0" width="286.6" height="2" fill="url(#g30)"/><rect x="151.2" y="82.0" width="286.6" height="2" fill="url(#g31)"/><rect x="151.2" y="84.0" width="286.6" height="2" fill="url(#g32)"/><rect x="151.2" y="86.0" width="286.6" height="2" fill="url(#g33)"/><rect x="151.2" y="88.0" width="286.6" height="2" fill="url(#g34)"/><rect x="151.2" y="90.0" width="286.6" height="2" fill="url(#g35)"/><rect x="151.2" y="92.0" width="286.6" height="2" fill="url(#g36)"/><rect x="151.2" y="94.0" width="286.6" height="2" fill="url(#g37)"/><rect x="151.2" y="96.0" width="286.6" height="2" fill="url(#g38)"/><rect x="151.2" y="98.0" width="286.6" height="2" fill="url(#g39)"/><rect x="151.2" y="100.0" width="286.6" height="2" fill="url(#g40)"/><rect x="151.2" y="102.0" width="286.6" height="2" fill="url(#g41)"/><rect x="151.2" y="104.0" width="286.6" height="2" fill="url(#g42)"/><rect x="151.2" y="106.0" width="286.6" height="2" fill="url(#g43)"/><rect x="151.2" y="108.0" width="286.6" height="2" fill="url(#g44)"/><rect x="151.2" y="110.0" width="286.6" height="2" fill="url(#g45)"/><rect x="151.2" y="112.0" width="286.6" height="2" fill="url(#g46)"/><rect x="151.2" y="114.0" width="286.6" height="2" fill="url(#g47)"/><rect x="151.2" y="116.0" width="286.6" height="2" fill="url(#g48)"/><rect x="151.2" y="118.0" width="286.6" height="2" fill="url(#g49)"/><rect x="151.2" y="120.0" width="286.6" height="2" fill="url(#g50)"/><rect x="151.2" y="122.0" width="286.6" height="2" fill="url(#g51)"/><rect x="151.2" y="124.0" width="286.6" height="2" fill="url(#g52)"/><rect x="151.2" y="126.0" width="286.6" height="2" fill="url(#g53)"/><rect x="151.2" y="128.0" width="286.6" height="2" fill="url(#g54)"/><rect x="151.2" y="130.0" width="286.6" height="2" fill="url(#g55)"/><rect x="151.2" y="132.0" width="286.6" height="2" fill="url(#g56)"/><rect x="151.2" y="134.0" width="286.6" height="2" fill="url(#g57)"/><rect x="151.2" y="136.0" width="286.6" height="2" fill="url(#g58)"/><rect x="151.2" y="138.0" width="286.6" height="2" fill="url(#g59)"/><rect x="151.2" y="140.0" width="286.6" height="2" fill="url(#g60)"/><rect x="151.2" y="142.0" width="286.6" height="2" fill="url(#g61)"/><rect x="151.2" y="144.0" width="286.6" height="2" fill="url(#g62)"/><rect x="151.2" y="146.0" width="286.6" height="2" fill="url(#g63)"/><rect x="151.2" y="148.0" width="286.6" height="2" fill="url(#g64)"/><rect x="151.2" y="150.0" width="286.6" height="2" fill="url(#g65)"/><rect x="151.2" y="152.0" width="286.6" height="2" fill="url(#g66)"/><rect x="151.2" y="154.0" width="286.6" height="2" fill="url(#g67)"/><rect x="151.2" y="156.0" width="286.6" height="2" fill="url(#g68)"/><rect x="151.2" y="158.0" width="286.6" height="2" fill="url(#g69)"/><rect x="151.2" y="160.0" width="286.6" height="2" fill="url(#g70)"/><rect x="151.2" y="162.0" width="286.6" height="2" fill="url(#g71)"/><rect x="151.2" y="164.0" width="286.6" height="2" fill="url(#g72)"/><rect x="151.2" y="166.0" width="286.6" height="2" fill="url(#g73)"/><rect x="151.2" y="168.0" width="286.6" height="2" fill="url(#g74)"/><rect x="151.2" y="174.0" width="286.6" height="2" fill="url(#g75)"/><rect x="151.2" y="176.0" width="286.6" height="2" fill="url(#g76)"/><rect x="151.2" y="178.0" width="286.6" height="2" fill="url(#g77)"/><rect x="151.2" y="180.0" width="286.6" height="2" fill="url(#g78)"/><rect x="151.2" y="182.0" width="286.6" height="2" fill="url(#g79)"/><rect x="151.2" y="184.0" width="286.6" height="2" fill="url(#g80)"/><rect x="151.2" y="186.0" width="286.6" height="2" fill="url(#g81)"/><rect x="151.2" y="188.0" width="286.6" height="2" fill="url(#g82)"/><rect x="151.2" y="190.0" width="286.6" height="2" fill="url(#g83)"/><rect x="151.2" y="192.0" width="286.6" height="2" fill="url(#g84)"/><rect x="151.2" y="194.0" width="286.6" height="2" fill="url(#g85)"/><rect x="151.2" y="196.0" width="286.6" height="2" fill="url(#g86)"/><rect x="151.2" y="198.0" width="286.6" height="2" fill="url(#g87)"/><rect x="151.2" y="200.0" width="286.6" height="2" fill="url(#g88)"/><rect x="151.2" y="202.0" width="286.6" height="2" fill="url(#g89)"/><rect x="151.2" y="204.0" width="286.6" height="2" fill="url(#g90)"/><rect x="151.2" y="206.0" width="286.6" height="2" fill="url(#g91)"/><rect x="151.2" y="208.0" width="286.6" height="2" fill="url(#g92)"/><rect x="151.2" y="210.0" width="286.6" height="2" fill="url(#g93)"/><rect x="151.2" y="212.0" width="286.6" height="2" fill="url(#g94)"/><rect x="151.2" y="214.0" width="286.6" height="2" fill="url(#g95)"/><rect x="151.2" y="216.0" width="286.6" height="2" fill="url(#g96)"/><rect x="151.2" y="218.0" width="286.6" height="2" fill="url(#g97)"/><rect x="151.2" y="220.0" width="286.6" height="2" fill="url(#g98)"/><rect x="151.2" y="222.0" width="286.6" height="2" fill="url(#g99)"/><rect x="151.2" y="224.0" width="286.6" height="2" fill="url(#g100)"/><rect x="151.2" y="226.0" width="286.6" height="2" fill="url(#g101)"/><rect x="151.2" y="228.0" width="286.6" height="2" fill="url(#g102)"/><rect x="151.2" y="230.0" width="286.6" height="2" fill="url(#g103)"/><rect x="151.2" y="232.0" width="286.6" height="2" fill="url(#g104)"/><rect x="151.2" y="234.0" width="286.6" height="2" fill="url(#g105)"/><rect x="151.2" y="236.0" width="286.6" height="2" fill="url(#g106)"/><rect x="151.2" y="238.0" width="286.6" height="2" fill="url(#g107)"/><rect x="151.2" y="240.0" width="286.6" height="2" fill="url(#g108)"/><rect x="151.2" y="242.0" width="286.6" height="2" fill="url(#g109)"/><rect x="151.2" y="244.0" width="286.6" height="2" fill="url(#g110)"/><rect x="151.2" y="246.0" width="286.6" height="2" fill="url(#g111)"/><rect x="151.2" y="248.0" width="286.6" height="2" fill="url(#g112)"/><rect x="151.2" y="250.0" width="286.6" height="2" fill="url(#g113)"/><rect x="151.2" y="252.0" width="286.6" height="2" fill="url(#g114)"/><rect x="151.2" y="254.0" width="286.6" height="2" fill="url(#g115)"/><rect x="151.2" y="256.0" width="286.6" height="4" fill="url(#g116)"/><rect x="151.2" y="260.0" width="286.6" height="2" fill="url(#g117)"/><rect x="151.2" y="262.0" width="286.6" height="2" fill="url(#g118)"/><rect x="151.2" y="264.0" width="286.6" height="2" fill="url(#g119)"/><rect x="151.2" y="266.0" width="286.6" height="2" fill="url(#g120)"/><rect x="151.2" y="268.0" width="286.6" height="2" fill="url(#g121)"/><rect x="151.2" y="270.0" width="286.6" height="2" fill="url(#g122)"/><rect x="151.2" y="272.0" width="286.6" height="2" fill="url(#g123)"/><rect x="151.2" y="274.0" width="286.6" height="2" fill="url(#g124)"/><rect x="151.2" y="276.0" width="286.6" height="2" fill="url(#g125)"/><rect x="151.2" y="278.0" width="286.6" height="2" fill="url(#g126)"/><rect x="151.2" y="280.0" width="286.6" height="2" fill="url(#g127)"/><rect x="151.2" y="282.0" width="286.6" height="2" fill="url(#g128)"/><rect x="151.2" y="284.0" width="286.6" height="2" fill="url(#g129)"/><rect x="151.2" y="286.0" width="286.6" height="2" fill="url(#g130)"/><rect x="151.2" y="288.0" width="286.6" height="2" fill="url(#g131)"/><rect x="151.2" y="290.0" width="286.6" height="2" fill="url(#g132)"/><rect x="151.2" y="292.0" width="286.6" height="2" fill="url(#g133)"/><rect x="151.2" y="294.0" width="286.6" height="2" fill="url(#g134)"/><rect x="151.2" y="296.0" width="286.6" height="2" fill="url(#g135)"/><rect x="151.2" y="298.0" width="286.6" height="2" fill="url(#g136)"/><rect x="151.2" y="300.0" width="286.6" height="2" fill="url(#g137)"/><rect x="151.2" y="302.0" width="286.6" height="2" fill="url(#g138)"/><rect x="151.2" y="304.0" width="286.6" height="2" fill="url(#g139)"/><rect x="151.2" y="306.0" width="286.6" height="2" fill="url(#g140)"/><rect x="151.2" y="308.0" width="286.6" height="2" fill="url(#g141)"/><rect x="151.2" y="310.0" width="286.6" height="2" fill="url(#g142)"/><rect x="151.2" y="312.0" width="286.6" height="2" fill="url(#g143)"/><rect x="151.2" y="314.0" width="286.6" height="2" fill="url(#g144)"/><rect x="151.2" y="316.0" width="286.6" height="2" fill="url(#g145)"/><rect x="151.2" y="318.0" width="286.6" height="4" fill="url(#g146)"/><rect x="151.2" y="322.0" width="286.6" height="2" fill="url(#g147)"/><rect x="151.2" y="324.0" width="286.6" height="2" fill="url(#g148)"/><rect x="151.2" y="326.0" width="286.6" height="2" fill="url(#g149)"/><rect x="151.2" y="328.0" width="286.6" height="2" fill="url(#g150)"/><rect x="151.2" y="330.0" width="286.6" height="2" fill="url(#g151)"/><rect x="151.2" y="332.0" width="286.6" height="2" fill="url(#g152)"/><rect x="151.2" y="334.0" width="286.6" height="2" fill="url(#g153)"/><rect x="151.2" y="336.0" width="286.6" height="2" fill="url(#g154)"/><rect x="151.2" y="338.0" width="286.6" height="2" fill="url(#g155)"/><rect x="151.2" y="340.0" width="286.6" height="2" fill="url(#g156)"/><rect x="151.2" y="342.0" width="286.6" height="2" fill="url(#g157)"/><rect x="151.2" y="344.0" width="286.6" height="2" fill="url(#g158)"/><rect x="151.2" y="346.0" width="286.6" height="2" fill="url(#g159)"/><rect x="151.2" y="348.0" width="286.6" height="2" fill="url(#g160)"/><rect x="151.2" y="350.0" width="286.6" height="2" fill="url(#g161)"/><rect x="151.2" y="352.0" width="286.6" height="2" fill="url(#g162)"/><rect x="151.2" y="354.0" width="286.6" height="2" fill="url(#g163)"/><rect x="151.2" y="356.0" width="286.6" height="2" fill="url(#g164)"/><rect x="151.2" y="358.0" width="286.6" height="2" fill="url(#g165)"/><rect x="151.2" y="360.0" width="286.6" height="2" fill="url(#g166)"/><rect x="151.2" y="362.0" width="286.6" height="2" fill="url(#g167)"/><rect x="151.2" y="364.0" width="286.6" height="2" fill="url(#g168)"/><rect x="151.2" y="366.0" width="286.6" height="2" fill="url(#g169)"/><rect x="151.2" y="368.0" width="286.6" height="2" fill="url(#g170)"/><rect x="151.2" y="370.0" width="286.6" height="2" fill="url(#g171)"/><rect x="151.2" y="372.0" width="286.6" height="2" fill="url(#g172)"/><rect x="151.2" y="374.0" width="286.6" height="2" fill="url(#g173)"/><rect x="151.2" y="376.0" width="286.6" height="2" fill="url(#g174)"/><rect x="151.2" y="378.0" width="286.6" height="2" fill="url(#g175)"/><rect x="151.2" y="380.0" width="286.6" height="2" fill="url(#g176)"/><rect x="151.2" y="382.0" width="286.6" height="2" fill="url(#g177)"/><rect x="151.2" y="384.0" width="286.6" height="2" fill="url(#g178)"/>
<line x1="151.2" y1="16.5" x2="437.8" y2="16.5" stroke="#8a8a8a" stroke-width="0.9"/>
<line x1="151.2" y1="385.2" x2="437.8" y2="385.2" stroke="#8a8a8a" stroke-width="0.9"/>
<line x1="150.9" y1="83.4" x2="437.8" y2="83.4" stroke="#585858" stroke-width="1.4" stroke-dasharray="4.5 4.87"/>
<line x1="150.9" y1="159.5" x2="437.8" y2="159.5" stroke="#585858" stroke-width="1.4" stroke-dasharray="4.5 4.87"/>
<line x1="150.9" y1="235.7" x2="437.8" y2="235.7" stroke="#585858" stroke-width="1.4" stroke-dasharray="4.5 4.87"/>
<line x1="150.9" y1="311.8" x2="437.8" y2="311.8" stroke="#585858" stroke-width="1.4" stroke-dasharray="4.5 4.87"/>
<text x="140.11" y="399.60" font-size="10.9" fill="#262626" stroke="#262626" stroke-width="0.25" textLength="21.59" lengthAdjust="spacingAndGlyphs">120</text>
<text x="211.73" y="399.60" font-size="10.9" fill="#262626" stroke="#262626" stroke-width="0.25" textLength="21.59" lengthAdjust="spacingAndGlyphs">140</text>
<text x="283.36" y="399.60" font-size="10.9" fill="#262626" stroke="#262626" stroke-width="0.25" textLength="21.59" lengthAdjust="spacingAndGlyphs">160</text>
<text x="354.98" y="399.60" font-size="10.9" fill="#262626" stroke="#262626" stroke-width="0.25" textLength="21.59" lengthAdjust="spacingAndGlyphs">180</text>
<text x="426.91" y="399.60" font-size="10.9" fill="#262626" stroke="#262626" stroke-width="0.25" textLength="21.28" lengthAdjust="spacingAndGlyphs">200</text>
<text x="253.86" y="417.80" font-size="11.9" fill="#262626" stroke="#262626" stroke-width="0.25" textLength="59.51" lengthAdjust="spacingAndGlyphs">Longitude</text>
<text x="317.70" y="417.80" font-size="11.9" fill="#262626" stroke="#262626" stroke-width="0.25" textLength="4.23" lengthAdjust="spacingAndGlyphs">(</text>
<text x="322.18" y="411.80" font-size="8.2" fill="#262626" stroke="#262626" stroke-width="0.25" textLength="5.82" lengthAdjust="spacingAndGlyphs">o</text>
<text x="328.78" y="417.80" font-size="11.9" fill="#262626" stroke="#262626" stroke-width="0.25" textLength="5.03" lengthAdjust="spacingAndGlyphs">)</text>
<text x="225.86" y="12.20" font-size="11.6" font-weight="bold" fill="#000" textLength="73.61" lengthAdjust="spacingAndGlyphs">Latitude -5</text>
<text x="299.78" y="5.90" font-size="7.8" font-weight="bold" fill="#000" textLength="6.06" lengthAdjust="spacingAndGlyphs">o</text>
<text x="311.08" y="12.20" font-size="11.6" font-weight="bold" fill="#000" textLength="34.23" lengthAdjust="spacingAndGlyphs">to 10</text>
<text x="345.49" y="5.90" font-size="7.8" font-weight="bold" fill="#000" textLength="5.94" lengthAdjust="spacingAndGlyphs">o</text>
<text x="352.58" y="12.20" font-size="11.6" font-weight="bold" fill="#000" textLength="10.30" lengthAdjust="spacingAndGlyphs">N</text>
<defs><linearGradient id="cb" x1="0" y1="0" x2="0" y2="1"><stop offset="0.000" stop-color="#ff0000"/><stop offset="0.025" stop-color="#ff1b1b"/><stop offset="0.050" stop-color="#ff3535"/><stop offset="0.075" stop-color="#ff4d4d"/><stop offset="0.100" stop-color="#ff6363"/><stop offset="0.125" stop-color="#ff7878"/><stop offset="0.150" stop-color="#ff8b8b"/><stop offset="0.175" stop-color="#ff9c9c"/><stop offset="0.200" stop-color="#ffacac"/><stop offset="0.225" stop-color="#ffbbbb"/><stop offset="0.250" stop-color="#ffc8c8"/><stop offset="0.275" stop-color="#ffd3d3"/><stop offset="0.300" stop-color="#ffdddd"/><stop offset="0.325" stop-color="#ffe6e6"/><stop offset="0.350" stop-color="#ffeded"/><stop offset="0.375" stop-color="#fff3f3"/><stop offset="0.400" stop-color="#fff8f8"/><stop offset="0.425" stop-color="#fffbfb"/><stop offset="0.450" stop-color="#fffdfd"/><stop offset="0.475" stop-color="#ffffff"/><stop offset="0.500" stop-color="#ffffff"/><stop offset="0.525" stop-color="#ffffff"/><stop offset="0.550" stop-color="#fdfdff"/><stop offset="0.575" stop-color="#fbfbff"/><stop offset="0.600" stop-color="#f8f8ff"/><stop offset="0.625" stop-color="#f3f3ff"/><stop offset="0.650" stop-color="#ededff"/><stop offset="0.675" stop-color="#e6e6ff"/><stop offset="0.700" stop-color="#ddddff"/><stop offset="0.725" stop-color="#d3d3ff"/><stop offset="0.750" stop-color="#c8c8ff"/><stop offset="0.775" stop-color="#bbbbff"/><stop offset="0.800" stop-color="#acacff"/><stop offset="0.825" stop-color="#9c9cff"/><stop offset="0.850" stop-color="#8b8bff"/><stop offset="0.875" stop-color="#7878ff"/><stop offset="0.900" stop-color="#6363ff"/><stop offset="0.925" stop-color="#4d4dff"/><stop offset="0.950" stop-color="#3535ff"/><stop offset="0.975" stop-color="#1b1bff"/><stop offset="1.000" stop-color="#0000ff"/></linearGradient></defs>
<rect x="624.3" y="16.0" width="14.0" height="233.2" fill="url(#cb)" stroke="#8a8a8a" stroke-width="0.8"/>
<line x1="638.3" y1="16.00" x2="635.8" y2="16.00" stroke="#8a8a8a" stroke-width="0.8"/>
<text x="642.43" y="19.60" font-size="10.9" fill="#262626" stroke="#262626" stroke-width="0.25" textLength="24.31" lengthAdjust="spacingAndGlyphs">0.25</text>
<line x1="638.3" y1="39.32" x2="635.8" y2="39.32" stroke="#8a8a8a" stroke-width="0.8"/>
<text x="642.44" y="42.92" font-size="10.9" fill="#262626" stroke="#262626" stroke-width="0.25" textLength="17.09" lengthAdjust="spacingAndGlyphs">0.2</text>
<line x1="638.3" y1="62.64" x2="635.8" y2="62.64" stroke="#8a8a8a" stroke-width="0.8"/>
<text x="642.43" y="66.24" font-size="10.9" fill="#262626" stroke="#262626" stroke-width="0.25" textLength="24.31" lengthAdjust="spacingAndGlyphs">0.15</text>
<line x1="638.3" y1="85.96" x2="635.8" y2="85.96" stroke="#8a8a8a" stroke-width="0.8"/>
<text x="642.43" y="89.56" font-size="10.9" fill="#262626" stroke="#262626" stroke-width="0.25" textLength="17.21" lengthAdjust="spacingAndGlyphs">0.1</text>
<line x1="638.3" y1="109.28" x2="635.8" y2="109.28" stroke="#8a8a8a" stroke-width="0.8"/>
<text x="642.43" y="112.88" font-size="10.9" fill="#262626" stroke="#262626" stroke-width="0.25" textLength="24.31" lengthAdjust="spacingAndGlyphs">0.05</text>
<line x1="638.3" y1="132.60" x2="635.8" y2="132.60" stroke="#8a8a8a" stroke-width="0.8"/>
<text x="642.47" y="136.20" font-size="10.9" fill="#262626" stroke="#262626" stroke-width="0.25" textLength="6.42" lengthAdjust="spacingAndGlyphs">0</text>
<line x1="638.3" y1="155.92" x2="635.8" y2="155.92" stroke="#8a8a8a" stroke-width="0.8"/>
<text x="642.42" y="159.52" font-size="10.9" fill="#262626" stroke="#262626" stroke-width="0.25" textLength="28.71" lengthAdjust="spacingAndGlyphs">-0.05</text>
<line x1="638.3" y1="179.24" x2="635.8" y2="179.24" stroke="#8a8a8a" stroke-width="0.8"/>
<text x="642.43" y="182.84" font-size="10.9" fill="#262626" stroke="#262626" stroke-width="0.25" textLength="21.34" lengthAdjust="spacingAndGlyphs">-0.1</text>
<line x1="638.3" y1="202.56" x2="635.8" y2="202.56" stroke="#8a8a8a" stroke-width="0.8"/>
<text x="642.42" y="206.16" font-size="10.9" fill="#262626" stroke="#262626" stroke-width="0.25" textLength="28.71" lengthAdjust="spacingAndGlyphs">-0.15</text>
<line x1="638.3" y1="225.88" x2="635.8" y2="225.88" stroke="#8a8a8a" stroke-width="0.8"/>
<text x="642.44" y="229.48" font-size="10.9" fill="#262626" stroke="#262626" stroke-width="0.25" textLength="21.22" lengthAdjust="spacingAndGlyphs">-0.2</text>
<line x1="638.3" y1="249.20" x2="635.8" y2="249.20" stroke="#8a8a8a" stroke-width="0.8"/>
<text x="642.42" y="252.80" font-size="10.9" fill="#262626" stroke="#262626" stroke-width="0.25" textLength="28.71" lengthAdjust="spacingAndGlyphs">-0.25</text>
<text transform="translate(684.00 153.74) rotate(-90)" x="0" y="0" font-size="10.9" fill="#262626" stroke="#262626" stroke-width="0.25" textLength="42.17" lengthAdjust="spacingAndGlyphs">SLA (m)</text>
<rect x="566.5" y="287.3" width="182.70000000000005" height="97.69999999999999" fill="#bfd1e6"/>
<clipPath id="mc"><rect x="566.5" y="287.3" width="182.70000000000005" height="97.69999999999999"/></clipPath>
<g clip-path="url(#mc)"><g><path d="M577.8,289.8 L578.5,290.2 L579.6,292.1 L580.0,293.6 L580.4,294.3 L580.6,296.6 L580.0,298.9 L580.4,301.2 L580.8,303.4 L580.8,306.5 L580.4,308.7 L580.0,311.0 L579.3,313.3 L578.1,314.8 L577.0,315.2 L576.2,314.1 L575.7,311.8 L575.5,309.5 L575.5,307.2 L575.5,305.7 L574.3,305.0 L572.8,305.0 L571.3,305.0 L570.9,303.4 L571.7,301.2 L572.8,298.9 L573.2,297.4 L574.3,297.0 L575.1,296.6 L576.6,295.9 L577.4,294.3 L577.4,292.1 Z" fill="#31a354"/><path d="M572.1,288.3 L573.2,288.3 L573.3,291.3 L572.2,291.2 Z" fill="#31a354"/><path d="M575.1,288.3 L575.9,288.3 L575.9,289.5 L575.2,289.5 Z" fill="#31a354"/><path d="M566.6,345.8 L569.1,346.6 L571.7,347.9 L573.8,347.5 L575.9,345.4 L577.2,343.2 L577.8,342.4 L577.7,345.4 L576.8,347.9 L575.1,350.1 L573.8,350.9 L572.1,350.1 L570.0,349.6 L568.3,349.6 L566.6,349.8 Z" fill="#31a354"/><path d="M583.6,340.7 L584.9,341.1 L585.5,343.7 L585.1,347.1 L584.7,351.3 L584.7,355.6 L585.1,358.2 L584.1,359.2 L583.4,355.6 L583.7,351.3 L583.5,347.1 L582.9,343.7 L583.1,341.1 Z" fill="#31a354"/><path d="M573.4,358.2 L573.8,358.8 L571.7,360.1 L570.4,362.7 L569.8,366.1 L570.0,370.4 L570.4,374.6 L570.8,378.9 L571.4,383.2 L571.0,384.9 L569.8,384.9 L569.4,380.6 L568.9,376.3 L568.5,372.1 L568.5,367.8 L568.8,363.5 L569.4,361.0 L571.3,358.8 Z" fill="#31a354"/><path d="M566.6,360.1 L568.3,360.1 L568.4,365.2 L567.8,372.1 L566.6,372.1 Z" fill="#31a354"/><path d="M584.9,374.6 L586.2,372.9 L588.3,372.5 L590.5,373.3 L590.0,375.1 L587.5,374.6 L585.8,375.9 Z" fill="#31a354"/><path d="M592.4,359.0 L594.1,356.6 L595.3,355.4 L597.1,357.8 L598.3,359.0 L598.9,363.7 L598.3,367.3 L598.1,369.6 L598.9,373.2 L600.7,375.5 L601.8,373.2 L604.2,369.6 L607.2,363.7 L607.8,364.9 L611.3,368.4 L614.9,372.0 L618.4,375.5 L622.0,377.9 L623.8,381.5 L625.0,385.0 L604.2,385.0 L601.3,380.9 L597.1,379.1 L595.9,375.5 L595.3,370.8 L594.7,368.4 L593.6,364.9 L592.6,362.5 Z" fill="#31a354"/><path d="M602.8,363.7 L604.8,363.7 L604.8,364.9 L602.8,365.1 Z" fill="#31a354"/><ellipse cx="573.0" cy="362.6" rx="0.7" ry="0.7" fill="#31a354"/><ellipse cx="584.2" cy="362.6" rx="0.7" ry="0.8" fill="#31a354"/><ellipse cx="577.7" cy="366.1" rx="1.3" ry="0.6" fill="#31a354"/><ellipse cx="581.5" cy="377.4" rx="0.9" ry="1.6" fill="#31a354"/><ellipse cx="584.0" cy="357.4" rx="0.5" ry="1.2" fill="#31a354"/><ellipse cx="591.7" cy="354.7" rx="0.7" ry="0.7" fill="#31a354"/><ellipse cx="591.3" cy="358.2" rx="0.6" ry="0.6" fill="#31a354"/><ellipse cx="603.0" cy="359.0" rx="0.6" ry="0.6" fill="#31a354"/><ellipse cx="591.2" cy="354.2" rx="0.5" ry="0.5" fill="#31a354"/><ellipse cx="627.9" cy="366.7" rx="0.4" ry="0.4" fill="#31a354"/><ellipse cx="678.6" cy="287.5" rx="0.4" ry="0.6" fill="#31a354"/><ellipse cx="684.2" cy="302.5" rx="0.3" ry="0.5" fill="#31a354"/><ellipse cx="692.0" cy="361.0" rx="0.3" ry="1.2" fill="#31a354"/><ellipse cx="579.6" cy="308.4" rx="0.6" ry="2.4" fill="#bfd1e6"/><path d="M637.4,371 L641.9,381.5 L639.8,384.6" fill="none" stroke="#31a354" stroke-width="0.9"/></g></g>
<rect x="566.5" y="287.3" width="182.70000000000005" height="97.69999999999999" fill="none" stroke="#111" stroke-width="1.2"/>
<text x="555.18" y="399.70" font-size="10.9" fill="#262626" stroke="#262626" stroke-width="0.25" textLength="22.23" lengthAdjust="spacingAndGlyphs">120</text>
<text x="600.86" y="399.70" font-size="10.9" fill="#262626" stroke="#262626" stroke-width="0.25" textLength="22.23" lengthAdjust="spacingAndGlyphs">140</text>
<line x1="612.17" y1="385.0" x2="612.17" y2="383.2" stroke="#111" stroke-width="0.7"/>
<text x="646.53" y="399.70" font-size="10.9" fill="#262626" stroke="#262626" stroke-width="0.25" textLength="22.23" lengthAdjust="spacingAndGlyphs">160</text>
<line x1="657.85" y1="385.0" x2="657.85" y2="383.2" stroke="#111" stroke-width="0.7"/>
<text x="692.21" y="399.70" font-size="10.9" fill="#262626" stroke="#262626" stroke-width="0.25" textLength="22.23" lengthAdjust="spacingAndGlyphs">180</text>
<line x1="703.53" y1="385.0" x2="703.53" y2="383.2" stroke="#111" stroke-width="0.7"/>
<text x="738.20" y="399.70" font-size="10.9" fill="#262626" stroke="#262626" stroke-width="0.25" textLength="21.91" lengthAdjust="spacingAndGlyphs">200</text>
<text x="549.21" y="292.20" font-size="10.9" fill="#262626" stroke="#262626" stroke-width="0.25" textLength="12.79" lengthAdjust="spacingAndGlyphs">10</text>
<text x="556.10" y="324.10" font-size="10.9" fill="#262626" stroke="#262626" stroke-width="0.25" textLength="6.06" lengthAdjust="spacingAndGlyphs">5</text>
<line x1="566.5" y1="319.87" x2="568.3" y2="319.87" stroke="#111" stroke-width="0.7"/>
<text x="555.90" y="357.40" font-size="10.9" fill="#262626" stroke="#262626" stroke-width="0.25" textLength="6.00" lengthAdjust="spacingAndGlyphs">0</text>
<line x1="566.5" y1="352.43" x2="568.3" y2="352.43" stroke="#111" stroke-width="0.7"/>
<text x="552.09" y="389.70" font-size="10.9" fill="#262626" stroke="#262626" stroke-width="0.25" textLength="9.96" lengthAdjust="spacingAndGlyphs">-5</text>
<text x="613.65" y="417.70" font-size="11.9" fill="#262626" stroke="#262626" stroke-width="0.25" textLength="60.13" lengthAdjust="spacingAndGlyphs">Longitude</text>
<text x="678.00" y="417.70" font-size="11.9" fill="#262626" stroke="#262626" stroke-width="0.25" textLength="4.23" lengthAdjust="spacingAndGlyphs">(</text>
<text x="683.02" y="412.60" font-size="8.2" fill="#262626" stroke="#262626" stroke-width="0.25" textLength="5.02" lengthAdjust="spacingAndGlyphs">o</text>
<text x="688.14" y="417.70" font-size="11.9" fill="#262626" stroke="#262626" stroke-width="0.25" textLength="6.84" lengthAdjust="spacingAndGlyphs">E</text>
<text x="696.94" y="417.70" font-size="11.9" fill="#262626" stroke="#262626" stroke-width="0.25" textLength="4.10" lengthAdjust="spacingAndGlyphs">)</text>
<text transform="translate(542.60 375.07) rotate(-90)" x="0" y="0" font-size="11.9" fill="#262626" stroke="#262626" stroke-width="0.25" textLength="49.51" lengthAdjust="spacingAndGlyphs">Latitude</text>
<text transform="translate(542.60 321.92) rotate(-90)" x="0" y="0" font-size="11.9" fill="#262626" stroke="#262626" stroke-width="0.25" textLength="4.35" lengthAdjust="spacingAndGlyphs">(</text>
<text transform="translate(537.50 316.76) rotate(-90)" x="0" y="0" font-size="8.2" fill="#262626" stroke="#262626" stroke-width="0.25" textLength="5.16" lengthAdjust="spacingAndGlyphs">o</text>
<text transform="translate(542.60 311.59) rotate(-90)" x="0" y="0" font-size="11.9" fill="#262626" stroke="#262626" stroke-width="0.25" textLength="8.37" lengthAdjust="spacingAndGlyphs">N</text>
<text transform="translate(542.60 302.15) rotate(-90)" x="0" y="0" font-size="11.9" fill="#262626" stroke="#262626" stroke-width="0.25" textLength="4.21" lengthAdjust="spacingAndGlyphs">)</text>
</svg>
</body></html>
